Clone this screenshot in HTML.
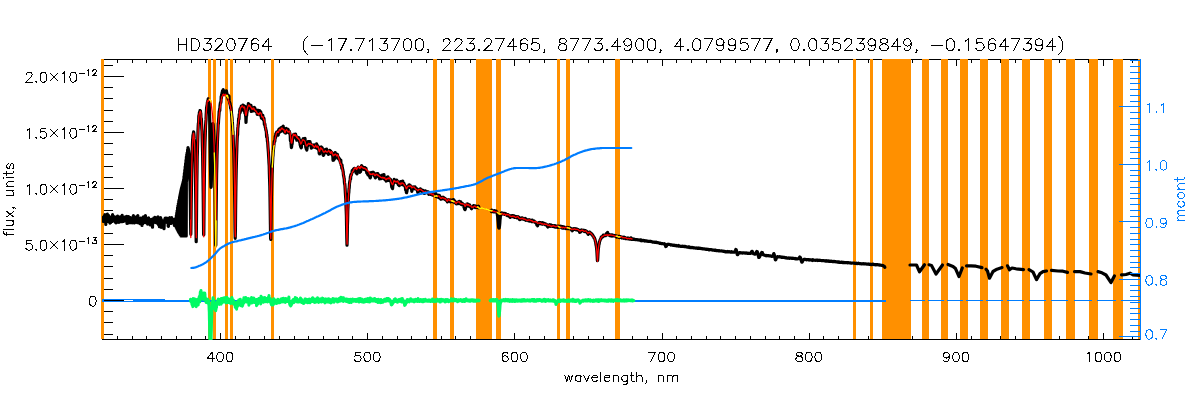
<!DOCTYPE html>
<html><head><meta charset="utf-8"><title>HD320764</title>
<style>html,body{margin:0;padding:0;background:#fff;font-family:"Liberation Sans",sans-serif}svg{display:block}</style></head>
<body>
<svg width="1200" height="400" viewBox="0 0 1200 400">
<rect width="1200" height="400" fill="#fff"/>
<defs><clipPath id="cp"><rect x="102" y="59" width="1039" height="281"/></clipPath></defs>
<path d="M102 59h1039v1h-1039zM102 339h1039v1h-1039zM102 59h1v281h-1zM1140 59h1v281h-1zM117 59h1v4h-1zM117 336h1v4h-1zM132 59h1v4h-1zM132 336h1v4h-1zM146 59h1v4h-1zM146 336h1v4h-1zM161 59h1v4h-1zM161 336h1v4h-1zM176 59h1v4h-1zM176 336h1v4h-1zM191 59h1v4h-1zM191 336h1v4h-1zM205 59h1v4h-1zM205 336h1v4h-1zM220 59h1v7h-1zM220 333h1v7h-1zM235 59h1v4h-1zM235 336h1v4h-1zM249 59h1v4h-1zM249 336h1v4h-1zM264 59h1v4h-1zM264 336h1v4h-1zM279 59h1v4h-1zM279 336h1v4h-1zM294 59h1v4h-1zM294 336h1v4h-1zM308 59h1v4h-1zM308 336h1v4h-1zM323 59h1v4h-1zM323 336h1v4h-1zM338 59h1v4h-1zM338 336h1v4h-1zM352 59h1v4h-1zM352 336h1v4h-1zM367 59h1v7h-1zM367 333h1v7h-1zM382 59h1v4h-1zM382 336h1v4h-1zM397 59h1v4h-1zM397 336h1v4h-1zM411 59h1v4h-1zM411 336h1v4h-1zM426 59h1v4h-1zM426 336h1v4h-1zM441 59h1v4h-1zM441 336h1v4h-1zM455 59h1v4h-1zM455 336h1v4h-1zM470 59h1v4h-1zM470 336h1v4h-1zM485 59h1v4h-1zM485 336h1v4h-1zM500 59h1v4h-1zM500 336h1v4h-1zM514 59h1v7h-1zM514 333h1v7h-1zM529 59h1v4h-1zM529 336h1v4h-1zM544 59h1v4h-1zM544 336h1v4h-1zM558 59h1v4h-1zM558 336h1v4h-1zM573 59h1v4h-1zM573 336h1v4h-1zM588 59h1v4h-1zM588 336h1v4h-1zM603 59h1v4h-1zM603 336h1v4h-1zM617 59h1v4h-1zM617 336h1v4h-1zM632 59h1v4h-1zM632 336h1v4h-1zM647 59h1v4h-1zM647 336h1v4h-1zM662 59h1v7h-1zM662 333h1v7h-1zM676 59h1v4h-1zM676 336h1v4h-1zM691 59h1v4h-1zM691 336h1v4h-1zM706 59h1v4h-1zM706 336h1v4h-1zM720 59h1v4h-1zM720 336h1v4h-1zM735 59h1v4h-1zM735 336h1v4h-1zM750 59h1v4h-1zM750 336h1v4h-1zM765 59h1v4h-1zM765 336h1v4h-1zM779 59h1v4h-1zM779 336h1v4h-1zM794 59h1v4h-1zM794 336h1v4h-1zM809 59h1v7h-1zM809 333h1v7h-1zM823 59h1v4h-1zM823 336h1v4h-1zM838 59h1v4h-1zM838 336h1v4h-1zM853 59h1v4h-1zM853 336h1v4h-1zM868 59h1v4h-1zM868 336h1v4h-1zM882 59h1v4h-1zM882 336h1v4h-1zM897 59h1v4h-1zM897 336h1v4h-1zM912 59h1v4h-1zM912 336h1v4h-1zM926 59h1v4h-1zM926 336h1v4h-1zM941 59h1v4h-1zM941 336h1v4h-1zM956 59h1v7h-1zM956 333h1v7h-1zM971 59h1v4h-1zM971 336h1v4h-1zM985 59h1v4h-1zM985 336h1v4h-1zM1000 59h1v4h-1zM1000 336h1v4h-1zM1015 59h1v4h-1zM1015 336h1v4h-1zM1029 59h1v4h-1zM1029 336h1v4h-1zM1044 59h1v4h-1zM1044 336h1v4h-1zM1059 59h1v4h-1zM1059 336h1v4h-1zM1074 59h1v4h-1zM1074 336h1v4h-1zM1088 59h1v4h-1zM1088 336h1v4h-1zM1103 59h1v7h-1zM1103 333h1v7h-1zM1118 59h1v4h-1zM1118 336h1v4h-1zM1132 59h1v4h-1zM1132 336h1v4h-1zM102 334h11v1h-11zM102 322h11v1h-11zM102 311h11v1h-11zM102 300h22v1h-22zM102 289h11v1h-11zM102 278h11v1h-11zM102 266h11v1h-11zM102 255h11v1h-11zM102 244h22v1h-22zM102 233h11v1h-11zM102 222h11v1h-11zM102 210h11v1h-11zM102 199h11v1h-11zM102 188h22v1h-22zM102 177h11v1h-11zM102 166h11v1h-11zM102 154h11v1h-11zM102 143h11v1h-11zM102 132h22v1h-22zM102 121h11v1h-11zM102 110h11v1h-11zM102 98h11v1h-11zM102 87h11v1h-11zM102 76h22v1h-22zM102 65h11v1h-11z" fill="#000" shape-rendering="crispEdges"/>
<rect x="101.0" y="59" width="3.0" height="280" fill="#FF9000" shape-rendering="crispEdges"/>
<rect x="208.0" y="59" width="3.0" height="280" fill="#FF9000" shape-rendering="crispEdges"/>
<rect x="213.0" y="59" width="3.0" height="280" fill="#FF9000" shape-rendering="crispEdges"/>
<rect x="225.0" y="59" width="3.0" height="280" fill="#FF9000" shape-rendering="crispEdges"/>
<rect x="230.0" y="59" width="3.0" height="280" fill="#FF9000" shape-rendering="crispEdges"/>
<rect x="271.0" y="59" width="3.0" height="280" fill="#FF9000" shape-rendering="crispEdges"/>
<rect x="433.0" y="59" width="4.0" height="280" fill="#FF9000" shape-rendering="crispEdges"/>
<rect x="450.0" y="59" width="4.0" height="280" fill="#FF9000" shape-rendering="crispEdges"/>
<rect x="476.0" y="59" width="16.0" height="280" fill="#FF9000" shape-rendering="crispEdges"/>
<rect x="496.0" y="59" width="5.0" height="280" fill="#FF9000" shape-rendering="crispEdges"/>
<rect x="557.0" y="59" width="3.0" height="280" fill="#FF9000" shape-rendering="crispEdges"/>
<rect x="566.0" y="59" width="4.0" height="280" fill="#FF9000" shape-rendering="crispEdges"/>
<rect x="615.0" y="59" width="5.0" height="280" fill="#FF9000" shape-rendering="crispEdges"/>
<rect x="853.0" y="59" width="3.0" height="280" fill="#FF9000" shape-rendering="crispEdges"/>
<rect x="870.0" y="59" width="3.0" height="280" fill="#FF9000" shape-rendering="crispEdges"/>
<rect x="882.0" y="59" width="29.0" height="280" fill="#FF9000" shape-rendering="crispEdges"/>
<rect x="922.0" y="59" width="7.0" height="280" fill="#FF9000" shape-rendering="crispEdges"/>
<rect x="941.0" y="59" width="7.0" height="280" fill="#FF9000" shape-rendering="crispEdges"/>
<rect x="960.0" y="59" width="8.0" height="280" fill="#FF9000" shape-rendering="crispEdges"/>
<rect x="980.0" y="59" width="8.0" height="280" fill="#FF9000" shape-rendering="crispEdges"/>
<rect x="1001.0" y="59" width="8.0" height="280" fill="#FF9000" shape-rendering="crispEdges"/>
<rect x="1022.0" y="59" width="8.0" height="280" fill="#FF9000" shape-rendering="crispEdges"/>
<rect x="1044.0" y="59" width="8.0" height="280" fill="#FF9000" shape-rendering="crispEdges"/>
<rect x="1066.0" y="59" width="9.0" height="280" fill="#FF9000" shape-rendering="crispEdges"/>
<rect x="1089.0" y="59" width="9.0" height="280" fill="#FF9000" shape-rendering="crispEdges"/>
<rect x="1113.0" y="59" width="10.0" height="280" fill="#FF9000" shape-rendering="crispEdges"/>
<rect x="1138.0" y="59" width="2.0" height="280" fill="#FF9000" shape-rendering="crispEdges"/>
<g clip-path="url(#cp)">
<path d="M102 300.5H165" stroke="#007DFF" stroke-width="3" fill="none" shape-rendering="crispEdges"/>
<path d="M165 301H478.5M491 301H885.5" stroke="#007DFF" stroke-width="2" fill="none" shape-rendering="crispEdges"/>
<path d="M104 300.5H124" stroke="#000" stroke-width="1" fill="none" shape-rendering="crispEdges"/>
<path d="M124 300.5H133" stroke="#fff" stroke-width="1" fill="none" shape-rendering="crispEdges"/>
<path d="M910.0 300.5H925.0M928.0 300.5H944.0M947.0 300.5H963.0M966.0 300.5H983.0M986.0 300.5H1003.0M1007.0 300.5H1024.0M1029.0 300.5H1046.0M1051.0 300.5H1068.0M1074.0 300.5H1092.0M1097.0 300.5H1116.0M1121.0 300.5H1140.0" stroke="#007DFF" stroke-width="1" fill="none" shape-rendering="crispEdges"/>
<polyline points="102.5,218.2 102.7,219.3 102.8,217.6 103.0,217.5 103.1,221.3 103.3,220.4 103.4,217.8 103.6,218.7 103.7,219.3 103.9,220.6 104.0,220.4 104.2,216.2 104.3,219.0 104.5,219.1 104.6,220.7 104.8,219.6 104.9,214.6 105.1,217.6 105.2,221.5 105.4,218.8 105.5,218.5 105.7,220.1 105.8,224.5 106.0,217.2 106.1,217.6 106.3,218.2 106.4,218.4 106.6,219.1 106.7,218.1 106.9,220.7 107.0,217.3 107.2,217.1 107.3,214.0 107.5,215.1 107.6,216.5 107.8,218.8 107.9,216.3 108.1,218.5 108.2,216.9 108.4,219.3 108.5,215.3 108.7,219.0 108.8,216.7 109.0,217.8 109.1,217.5 109.3,220.8 109.4,221.1 109.6,219.5 109.7,221.5 109.9,223.1 110.0,221.2 110.2,220.9 110.3,220.3 110.5,221.9 110.6,222.6 110.8,218.0 110.9,217.1 111.1,219.8 111.2,221.1 111.4,217.8 111.5,219.9 111.7,218.3 111.8,218.2 112.0,218.7 112.1,219.4 112.3,216.3 112.4,218.4 112.6,214.7 112.7,217.4 112.9,216.4 113.0,216.3 113.2,220.3 113.3,219.8 113.5,220.0 113.6,221.0 113.8,218.2 113.9,217.7 114.1,217.4 114.2,217.8 114.4,219.5 114.5,219.2 114.7,216.8 114.8,220.2 115.0,219.9 115.1,220.8 115.3,222.2 115.4,217.8 115.6,220.6 115.7,218.9 115.9,220.7 116.0,219.6 116.2,222.8 116.3,219.0 116.5,222.5 116.6,218.7 116.8,219.9 116.9,219.2 117.1,217.5 117.2,219.4 117.4,219.0 117.5,216.0 117.7,217.4 117.8,218.4 118.0,216.5 118.1,217.2 118.3,217.8 118.4,220.5 118.6,220.1 118.7,217.8 118.9,222.3 119.0,218.8 119.2,219.8 119.3,221.1 119.5,217.0 119.6,217.7 119.8,218.9 119.9,220.5 120.1,219.8 120.2,221.6 120.4,217.8 120.5,216.9 120.7,218.7 120.8,221.5 121.0,221.6 121.1,219.1 121.3,219.6 121.4,220.2 121.6,218.3 121.7,218.5 121.9,219.0 122.0,217.1 122.2,215.4 122.3,221.7 122.5,220.4 122.6,218.9 122.8,219.0 122.9,220.6 123.1,217.2 123.2,218.2 123.4,220.3 123.5,217.3 123.7,221.3 123.8,220.6 124.0,218.7 124.1,220.2 124.3,218.3 124.4,219.0 124.6,219.6 124.7,220.5 124.9,220.9 125.0,218.7 125.2,221.0 125.3,219.2 125.5,216.8 125.6,220.1 125.8,216.9 125.9,218.6 126.1,220.8 126.2,221.2 126.4,219.3 126.5,219.7 126.7,219.7 126.8,216.4 127.0,223.4 127.1,218.3 127.3,222.0 127.4,219.0 127.6,221.5 127.7,222.1 127.9,220.5 128.0,223.1 128.2,218.6 128.3,221.0 128.5,218.1 128.6,216.7 128.8,218.3 128.9,217.9 129.1,218.1 129.2,220.2 129.4,218.1 129.5,218.2 129.7,218.9 129.8,218.0 130.0,222.7 130.1,221.8 130.3,221.8 130.4,217.7 130.6,218.5 130.7,219.1 130.9,219.5 131.0,218.6 131.2,218.7 131.3,221.3 131.5,220.9 131.6,221.8 131.8,222.0 131.9,218.5 132.1,218.1 132.2,222.8 132.4,221.1 132.5,222.4 132.7,219.0 132.8,220.6 133.0,218.8 133.1,218.2 133.3,218.6 133.4,215.6 133.6,219.9 133.7,218.2 133.9,219.9 134.0,222.8 134.2,221.4 134.3,219.3 134.5,222.2 134.6,219.7 134.8,222.8 134.9,219.2 135.1,221.5 135.2,222.5 135.4,219.7 135.5,219.5 135.7,220.9 135.8,218.1 136.0,217.1 136.1,220.8 136.3,221.4 136.4,221.4 136.6,220.2 136.7,219.8 136.9,220.1 137.0,218.1 137.2,216.5 137.3,218.0 137.5,222.6 137.6,218.8 137.8,215.6 137.9,218.3 138.1,221.1 138.2,220.5 138.4,221.3 138.5,218.8 138.7,220.9 138.8,222.1 139.0,219.1 139.1,222.2 139.3,218.6 139.4,221.5 139.6,220.1 139.7,221.7 139.9,220.0 140.0,223.7 140.2,218.9 140.3,220.2 140.5,218.6 140.6,220.2 140.8,218.2 140.9,220.3 141.1,220.0 141.2,218.8 141.4,222.3 141.5,219.9 141.7,223.0 141.8,221.4 142.0,225.4 142.1,220.8 142.3,219.7 142.4,221.3 142.6,223.2 142.7,221.9 142.9,223.6 143.0,222.5 143.2,221.1 143.3,216.9 143.5,221.8 143.6,221.3 143.8,220.3 143.9,219.2 144.1,219.6 144.2,220.4 144.4,219.5 144.5,219.9 144.7,219.3 144.8,219.7 145.0,218.0 145.1,221.0 145.3,218.1 145.4,215.5 145.6,222.4 145.7,219.0 145.9,220.9 146.0,219.2 146.2,220.3 146.3,217.9 146.5,221.4 146.6,220.7 146.8,220.7 146.9,223.1 147.1,223.1 147.2,220.4 147.4,222.9 147.5,224.1 147.7,218.9 147.8,220.3 148.0,220.2 148.1,221.8 148.3,221.9 148.4,223.8 148.6,217.9 148.7,220.4 148.9,220.7 149.0,223.3 149.2,223.6 149.3,221.7 149.5,222.5 149.6,221.7 149.8,220.2 149.9,221.7 150.1,220.6 150.2,225.0 150.4,224.1 150.5,221.4 150.7,222.7 150.8,224.4 151.0,220.4 151.1,219.5 151.3,222.1 151.4,224.0 151.6,219.4 151.7,221.4 151.9,220.7 152.0,222.6 152.2,219.8 152.3,220.3 152.5,227.1 152.6,221.0 152.8,220.2 152.9,222.2 153.1,219.5 153.2,222.6 153.4,222.7 153.5,221.9 153.7,218.6 153.8,218.0 154.0,222.5 154.1,220.4 154.3,222.0 154.4,220.5 154.6,218.6 154.7,219.5 154.9,217.3 155.0,220.1 155.2,218.8 155.3,222.3 155.5,221.2 155.6,222.5 155.8,222.1 155.9,219.9 156.1,219.5 156.2,219.8 156.4,222.8 156.5,221.7 156.7,221.1 156.8,222.1 157.0,218.2 157.1,220.0 157.3,222.8 157.4,217.3 157.6,218.4 157.7,222.8 157.9,221.1 158.0,216.9 158.2,219.7 158.3,224.4 158.5,222.3 158.6,221.8 158.8,220.9 158.9,221.2 159.1,223.0 159.2,220.6 159.4,226.6 159.5,223.0 159.7,221.8 159.8,220.3 160.0,219.9 160.1,225.2 160.3,221.1 160.4,224.0 160.6,217.7 160.7,219.7 160.9,222.0 161.0,220.9 161.2,227.3 161.3,219.7 161.5,221.9 161.6,220.2 161.8,221.5 161.9,220.5 162.1,224.4 162.2,222.0 162.4,223.1 162.5,224.5 162.7,224.0 162.8,223.7 163.0,222.5 163.1,225.0 163.3,223.8 163.4,223.8 163.6,223.7 163.7,222.2 163.9,222.2 164.0,228.7 164.2,224.7 164.3,221.0 164.5,220.5 164.6,220.0 164.8,220.0 164.9,218.8 165.1,221.9 165.2,218.1 165.4,219.5 165.5,219.6 165.7,219.8 165.8,220.3 166.0,220.6 166.1,220.5 166.3,222.1 166.4,222.2 166.6,222.1 166.7,218.2 166.9,218.3 167.0,221.7 167.2,221.9 167.3,221.2 167.5,222.7 167.6,222.2 167.8,219.1 167.9,223.1 168.1,223.8 168.2,226.3 168.4,226.4 168.5,222.1 168.7,223.6 168.8,221.9 169.0,222.6 169.1,219.4 169.3,218.5 169.4,222.3 169.6,221.6 169.7,217.6 169.9,221.3 170.0,218.9 170.2,219.8 170.3,220.9 170.5,218.9 170.6,219.4 170.8,221.3 170.9,218.8 171.1,223.5 171.2,217.9 171.4,219.0 171.5,221.7 171.7,217.6 171.8,221.6 172.0,220.7 172.1,219.7 172.3,220.9 172.4,220.8 172.6,222.0 172.7,222.6 172.9,222.7 173.0,222.1 173.2,220.9 173.3,220.2 173.5,221.8 173.6,221.6 173.8,223.1 173.9,221.5 174.1,222.7 174.2,219.4 174.4,225.5 174.5,225.4 174.7,223.2 174.8,222.4 175.0,223.8 175.1,222.9 175.3,219.1 175.4,220.5 175.6,222.3 175.7,222.7 175.9,221.4 176.0,218.0 176.2,227.4 176.4,215.4 176.6,228.2 176.8,212.8 177.0,229.0 177.2,210.2 177.4,229.8 177.6,207.6 177.8,230.6 178.0,205.0 178.2,231.3 178.4,203.0 178.6,232.0 178.8,201.0 179.0,232.7 179.2,199.0 179.4,233.3 179.6,197.0 179.8,234.0 180.0,195.0 180.2,234.7 180.4,193.0 180.6,235.3 180.8,191.0 181.0,236.0 181.2,189.2 181.4,236.0 181.6,187.7 181.8,236.0 182.0,186.2 182.2,236.0 182.4,184.7 182.6,236.0 182.8,183.2 183.0,236.0 183.2,181.6 183.4,236.0 183.6,179.7 183.8,236.0 184.0,176.4 184.2,236.0 184.4,173.2 184.6,236.0 184.8,169.9 185.0,236.0 185.2,166.6 185.4,236.0 185.6,163.4 185.8,236.0 186.0,160.1 186.2,236.0 186.4,156.8 186.6,181.3 186.8,154.3 187.0,179.9 187.2,152.0 187.4,178.5 187.6,149.8 187.8,177.1 188.0,147.5 188.2,175.7 188.4,149.0" fill="none" stroke="#000" stroke-width="3.2" stroke-linejoin="round" stroke-linecap="round" />
<polyline points="188.4,149.8 188.6,150.7 188.8,152.8 189.0,155.6 189.2,158.6 189.4,159.4 189.6,168.1 189.8,175.0 190.0,180.6 190.2,191.6 190.4,205.6 190.6,224.0 190.8,234.3 191.0,221.9 191.2,203.8 191.4,189.7 191.6,173.2 191.8,165.6 192.0,156.1 192.2,150.9 192.4,144.8 192.6,140.1 192.8,137.5 193.0,135.0 193.2,135.2 193.4,133.2 193.6,131.9 193.8,132.8 194.0,134.8 194.2,138.7 194.4,140.9 194.6,145.9 194.8,150.3 195.0,156.5 195.2,163.5 195.4,176.9 195.6,187.7 195.8,204.7 196.0,229.1 196.2,241.7 196.4,227.4 196.6,204.8 196.8,184.0 197.0,171.7 197.2,156.9 197.4,151.6 197.6,143.7 197.8,137.1 198.0,130.6 198.2,126.1 198.4,123.1 198.6,123.6 198.8,116.2 199.0,115.1 199.2,115.3 199.4,112.5 199.6,111.9 199.8,113.3 200.0,110.7 200.2,111.8 200.4,110.7 200.6,112.8 200.8,113.3 201.0,118.7 201.2,118.1 201.4,118.9 201.6,124.1 201.8,128.6 202.0,131.1 202.2,138.9 202.4,146.7 202.6,153.1 202.8,166.1 203.0,178.3 203.2,192.7 203.4,212.8 203.6,234.0 203.8,234.8 204.0,211.9 204.2,191.3 204.4,175.1 204.6,163.9 204.8,150.7 205.0,142.8 205.2,137.6 205.4,130.6 205.6,125.3 205.8,122.4 206.0,119.9 206.2,114.6 206.4,111.5 206.6,107.2 206.8,107.1 207.0,105.3 207.2,104.7 207.4,102.3 207.6,102.0 207.8,100.9 208.0,100.4 208.2,98.9 208.4,99.3 208.6,100.4 208.8,103.8 209.0,100.8 209.2,105.7 209.4,108.9 209.6,115.1 209.8,123.2 210.0,137.4 210.2,150.3 210.4,162.4 210.6,174.0 210.8,182.7 211.0,187.3 211.2,186.6 211.4,179.4 211.6,167.3 211.8,154.8 212.0,143.7 212.2,133.4 212.4,127.1 212.6,124.0 212.8,123.6 213.0,124.0 213.2,125.4 213.4,129.4 213.6,130.4 213.8,135.9 214.0,142.6 214.2,147.9 214.4,154.4 214.6,165.2 214.8,175.2 215.0,185.8 215.2,202.8 215.4,223.7 215.6,242.5 215.8,245.3 216.0,222.1 216.2,205.1 216.4,188.5 216.6,174.0 216.8,166.3 217.0,155.9 217.2,150.0 217.4,142.2 217.6,137.9 217.8,133.4 218.0,129.3 218.2,123.1 218.4,123.8 218.6,119.6 218.8,117.1 219.0,114.4 219.2,111.2 219.4,111.3 219.6,108.9 219.8,110.7 220.0,105.9 220.2,104.2 220.4,103.0 220.6,102.3 220.8,102.8 221.0,101.4 221.2,96.3 221.4,98.1 221.6,94.5 221.8,96.3 222.0,92.9 222.2,93.9 222.4,91.2 222.6,92.3 222.8,92.1 223.0,94.1 223.2,89.6 223.4,91.7 223.6,94.3 223.8,94.2 224.0,93.6 224.2,93.4 224.4,93.7 224.6,93.9 224.8,92.8 225.0,92.0 225.2,91.5 225.4,92.0 225.6,91.6 225.8,91.1 226.0,92.1 226.2,92.1 226.4,90.9 226.6,92.0 226.8,94.0 227.0,93.4 227.2,95.9 227.4,94.9 227.6,96.5 227.8,97.4 228.0,97.7 228.2,99.1 228.4,95.4 228.6,99.7 228.8,99.8 229.0,96.2 229.2,100.2 229.4,101.4 229.6,102.4 229.8,103.8 230.0,103.2 230.2,105.1 230.4,105.5 230.6,108.5 230.8,107.1 231.0,108.5 231.2,110.1 231.4,111.9 231.6,114.5 231.8,115.9 232.0,117.6 232.2,121.2 232.4,122.3 232.6,126.2 232.8,130.5 233.0,131.6 233.2,137.4 233.4,143.0 233.6,148.5 233.8,152.7 234.0,162.3 234.2,169.7 234.4,180.2 234.6,193.0 234.8,208.7 235.0,229.3 235.2,238.3 235.4,230.3 235.6,210.1 235.8,193.9 236.0,180.7 236.2,170.8 236.4,163.5 236.6,155.7 236.8,149.6 237.0,143.0 237.2,138.1 237.4,135.2 237.6,135.0 237.8,128.4 238.0,126.7 238.2,124.6 238.4,123.5 238.6,118.8 238.8,118.2 239.0,119.2 239.2,114.7 239.4,113.8 239.6,112.5 239.8,110.8 240.0,109.1 240.2,112.6 240.4,109.1 240.6,108.3 240.8,107.8 241.0,108.1 241.2,106.8 241.4,106.0 241.6,106.0 241.8,110.1 242.0,107.6 242.2,108.3 242.4,107.0 242.6,108.0 242.8,107.2 243.0,105.2 243.2,108.7 243.4,105.3 243.6,106.3 243.8,108.7 244.0,110.6 244.2,108.0 244.4,109.0 244.6,106.1 244.8,113.0 245.0,112.8 245.2,112.8 245.4,111.9 245.6,115.9 245.8,116.6 246.0,122.5 246.2,118.2 246.4,115.9 246.6,115.8 246.8,113.1 247.0,113.0 247.2,109.0 247.4,110.6 247.6,106.2 247.8,106.2 248.0,106.1 248.2,105.6 248.4,103.5 248.6,105.7 248.8,106.6 249.0,104.8 249.2,106.9 249.4,106.2 249.6,108.2 249.8,107.5 250.0,106.0 250.2,107.3 250.4,105.4 250.6,106.3 250.8,108.2 251.0,105.3 251.2,111.5 251.4,110.0 251.6,110.7 251.8,108.0 252.0,111.1 252.2,110.1 252.4,108.0 252.6,109.5 252.8,108.1 253.0,109.5 253.2,110.8 253.4,109.7 253.6,110.5 253.8,107.5 254.0,107.7 254.2,107.4 254.4,110.2 254.6,110.1 254.8,107.9 255.0,110.8 255.2,109.6 255.4,111.1 255.6,109.6 255.8,111.0 256.0,110.1 256.2,111.5 256.4,111.7 256.6,112.1 256.8,112.1 257.0,111.8 257.2,114.4 257.4,114.0 257.6,111.8 257.8,110.4 258.0,112.8 258.2,110.3 258.4,113.6 258.6,112.1 258.8,112.8 259.0,111.6 259.2,112.8 259.4,111.0 259.6,110.7 259.8,114.9 260.0,112.7 260.2,112.1 260.4,113.8 260.6,112.8 260.8,111.9 261.0,113.6 261.2,115.6 261.4,118.1 261.6,116.6 261.8,116.5 262.0,115.8 262.2,117.9 262.4,118.7 262.6,116.6 262.8,115.4 263.0,118.2 263.2,117.9 263.4,120.0 263.6,120.0 263.8,118.2 264.0,118.7 264.2,122.0 264.4,124.7 264.6,123.7 264.8,123.8 265.0,125.1 265.2,126.8 265.4,127.7 265.6,127.8 265.8,130.0 266.0,130.0 266.2,130.8 266.4,132.6 266.6,137.0 266.8,134.4 267.0,136.9 267.2,137.4 267.4,141.2 267.6,141.6 267.8,144.1 268.0,147.4 268.2,149.8 268.4,152.5 268.6,155.8 268.8,159.0 269.0,163.1 269.2,166.0 269.4,174.2 269.6,180.4 269.8,186.0 270.0,196.9 270.2,210.4 270.4,223.9 270.6,238.5 270.8,239.4 271.0,225.3 271.2,208.6 271.4,198.3 271.6,189.0 271.8,180.2 272.0,173.8 272.2,171.1 272.4,165.2 272.6,161.9 272.8,157.1 273.0,155.8 273.2,151.5 273.4,150.2 273.6,148.0 273.8,146.1 274.0,144.1 274.2,141.4 274.4,141.9 274.6,141.6 274.8,141.5 275.0,138.7 275.2,136.4 275.4,136.1 275.6,137.6 275.8,133.6 276.0,135.8 276.2,133.8 276.4,133.6 276.6,132.1 276.8,135.1 277.0,132.6 277.2,132.7 277.4,134.0 277.6,131.7 277.8,132.1 278.0,135.2 278.2,135.1 278.4,133.0 278.6,130.0 278.8,131.5 279.0,129.3 279.2,132.6 279.4,130.2 279.6,131.3 279.8,128.7 280.0,131.0 280.2,130.5 280.4,130.1 280.6,131.7 280.8,131.4 281.0,127.5 281.2,128.9 281.4,129.0 281.6,128.2 281.8,130.3 282.0,127.2 282.2,128.8 282.4,127.9 282.6,127.3 282.8,130.4 283.0,130.1 283.2,126.1 283.4,129.5 283.6,127.9 283.8,131.4 284.0,130.1 284.2,132.1 284.4,130.5 284.6,131.5 284.8,131.1 285.0,132.5 285.2,132.4 285.4,133.0 285.6,130.8 285.8,132.5 286.0,132.8 286.2,128.3 286.4,129.8 286.6,130.0 286.8,128.9 287.0,130.3 287.2,130.7 287.4,129.9 287.6,131.6 287.8,129.9 288.0,129.3 288.2,130.6 288.4,131.1 288.6,132.5 288.8,130.9 289.0,131.5 289.2,132.1 289.4,131.4 289.6,133.2 289.8,133.0 290.0,134.5 290.2,135.1 290.4,140.7 290.6,136.3 290.8,141.0 291.0,142.8 291.2,145.1 291.4,147.7 291.6,146.9 291.8,144.6 292.0,144.5 292.2,143.4 292.4,141.1 292.6,138.7 292.8,137.4 293.0,136.0 293.2,135.6 293.4,135.4 293.6,134.6 293.8,135.6 294.0,134.3 294.2,136.1 294.4,136.8 294.6,136.6 294.8,135.6 295.0,134.4 295.2,136.2 295.4,135.8 295.6,134.2 295.8,137.9 296.0,138.7 296.2,138.0 296.4,137.5 296.6,139.5 296.8,140.2 297.0,136.9 297.2,137.5 297.4,138.2 297.6,139.6 297.8,138.6 298.0,138.4 298.2,138.1 298.4,139.2 298.6,138.8 298.8,137.5 299.0,139.3 299.2,139.0 299.4,141.2 299.6,142.1 299.8,140.0 300.0,142.9 300.2,145.1 300.4,144.1 300.6,146.5 300.8,146.6 301.0,147.4 301.2,147.8 301.4,147.4 301.6,144.8 301.8,144.1 302.0,142.7 302.2,141.2 302.4,142.1 302.6,141.5 302.8,139.7 303.0,142.0 303.2,138.6 303.4,138.8 303.6,140.7 303.8,142.0 304.0,142.0 304.2,143.5 304.4,141.3 304.6,142.0 304.8,141.6 305.0,138.3 305.2,141.4 305.4,143.5 305.6,144.2 305.8,147.4 306.0,146.2 306.2,149.0 306.4,147.9 306.6,149.6 306.8,150.0 307.0,148.8 307.2,147.5 307.4,145.3 307.6,143.2 307.8,145.7 308.0,144.5 308.2,141.7 308.4,144.0 308.6,142.6 308.8,143.9 309.0,143.3 309.2,141.5 309.4,143.6 309.6,143.8 309.8,144.0 310.0,141.5 310.2,144.4 310.4,143.2 310.6,143.8 310.8,145.5 311.0,144.0 311.2,146.7 311.4,148.2 311.6,145.2 311.8,146.3 312.0,146.1 312.2,146.5 312.4,146.8 312.6,147.2 312.8,145.6 313.0,146.8 313.2,145.3 313.4,145.1 313.6,145.3 313.8,146.3 314.0,145.7 314.2,145.3 314.4,144.9 314.6,145.5 314.8,145.9 315.0,147.3 315.2,145.6 315.4,144.9 315.6,145.7 315.8,145.8 316.0,146.4 316.2,145.6 316.4,145.6 316.6,143.9 316.8,148.1 317.0,145.7 317.2,147.2 317.4,147.4 317.6,145.7 317.8,147.1 318.0,147.9 318.2,149.4 318.4,149.3 318.6,146.9 318.8,149.0 319.0,150.1 319.2,153.5 319.4,150.5 319.6,154.0 319.8,152.0 320.0,151.0 320.2,149.9 320.4,151.7 320.6,149.1 320.8,149.7 321.0,148.7 321.2,147.8 321.4,147.0 321.6,149.1 321.8,148.7 322.0,148.1 322.2,147.8 322.4,150.3 322.6,149.6 322.8,152.2 323.0,154.2 323.2,155.2 323.4,155.4 323.6,153.4 323.8,154.8 324.0,152.8 324.2,152.9 324.4,151.2 324.6,151.9 324.8,152.8 325.0,151.8 325.2,149.5 325.4,150.5 325.6,150.1 325.8,149.4 326.0,149.4 326.2,152.7 326.4,152.0 326.6,149.2 326.8,150.2 327.0,152.5 327.2,151.5 327.4,151.5 327.6,152.7 327.8,152.4 328.0,153.1 328.2,153.8 328.4,154.3 328.6,153.6 328.8,151.1 329.0,153.3 329.2,151.7 329.4,151.1 329.6,152.3 329.8,150.3 330.0,152.8 330.2,151.2 330.4,152.8 330.6,153.6 330.8,151.2 331.0,152.4 331.2,152.1 331.4,152.7 331.6,153.4 331.8,152.5 332.0,152.6 332.2,153.8 332.4,153.8 332.6,155.8 332.8,155.5 333.0,160.3 333.2,156.6 333.4,158.1 333.6,160.1 333.8,160.0 334.0,158.8 334.2,156.6 334.4,159.0 334.6,156.5 334.8,156.7 335.0,155.5 335.2,152.5 335.4,153.4 335.6,155.5 335.8,154.7 336.0,153.5 336.2,154.3 336.4,155.9 336.6,154.3 336.8,155.3 337.0,155.7 337.2,157.6 337.4,154.3 337.6,156.0 337.8,158.4 338.0,156.8 338.2,157.0 338.4,158.0 338.6,158.8 338.8,158.0 339.0,158.2 339.2,159.3 339.4,159.7 339.6,158.8 339.8,160.7 340.0,161.0 340.2,160.0 340.4,162.9 340.6,161.1 340.8,160.0 341.0,164.1 341.2,165.3 341.4,165.1 341.6,165.0 341.8,168.2 342.0,164.9 342.2,167.1 342.4,167.8 342.6,169.2 342.8,169.7 343.0,171.4 343.2,171.5 343.4,174.6 343.6,176.1 343.8,176.0 344.0,178.0 344.2,178.4 344.4,182.2 344.6,184.2 344.8,183.8 345.0,186.2 345.2,189.8 345.4,193.4 345.6,196.7 345.8,199.3 346.0,206.0 346.2,210.8 346.4,216.0 346.6,227.6 346.8,238.5 347.0,245.2 347.2,239.1 347.4,226.3 347.6,220.7 347.8,210.8 348.0,206.8 348.2,202.4 348.4,197.5 348.6,193.6 348.8,192.6 349.0,188.8 349.2,188.1 349.4,184.9 349.6,182.2 349.8,182.1 350.0,180.3 350.2,179.2 350.4,176.7 350.6,179.1 350.8,174.8 351.0,175.9 351.2,174.2 351.4,175.0 351.6,174.0 351.8,173.2 352.0,172.2 352.2,170.6 352.4,172.0 352.6,170.8 352.8,171.5 353.0,170.4 353.2,169.5 353.4,170.3 353.6,168.9 353.8,168.8 354.0,169.4 354.2,169.0 354.4,169.4 354.6,168.3 354.8,169.8 355.0,168.5 355.2,169.2 355.4,169.6 355.6,170.2 355.8,171.9 356.0,172.6 356.2,173.0 356.4,172.5 356.6,173.5 356.8,173.5 357.0,173.9 357.2,171.1 357.4,169.1 357.6,169.6 357.8,170.4 358.0,167.9 358.2,167.1 358.4,168.0 358.6,167.7 358.8,167.5 359.0,168.3 359.2,168.6 359.4,169.0 359.6,170.4 359.8,172.4 360.0,170.1 360.2,169.3 360.4,170.7 360.6,171.6 360.8,170.0 361.0,169.8 361.2,166.9 361.4,169.1 361.6,165.6 361.8,167.8 362.0,166.3 362.2,167.3 362.4,168.6 362.6,168.9 362.8,167.4 363.0,168.2 363.2,168.1 363.4,167.8 363.6,167.4 363.8,169.5 364.0,168.0 364.2,169.1 364.4,167.5 364.6,168.3 364.8,169.4 365.0,167.6 365.2,169.8 365.4,169.5 365.6,168.4 365.8,169.6 366.0,168.4 366.2,170.5 366.4,170.3 366.6,171.5 366.8,172.9 367.0,173.1 367.2,172.7 367.4,173.2 367.6,174.0 367.8,174.0 368.0,174.9 368.2,173.4 368.4,172.8 368.6,172.7 368.8,173.9 369.0,173.6 369.2,175.1 369.4,174.8 369.6,176.6 369.8,176.1 370.0,177.6 370.2,177.9 370.4,177.4 370.6,176.7 370.8,175.7 371.0,174.5 371.2,172.6 371.4,173.7 371.6,173.2 371.8,172.7 372.0,173.0 372.2,173.7 372.4,172.3 372.6,172.4 372.8,173.3 373.0,172.8 373.2,172.9 373.4,172.3 373.6,172.9 373.8,173.1 374.0,174.1 374.2,175.3 374.4,175.7 374.6,175.9 374.8,176.5 375.0,175.2 375.2,177.5 375.4,177.9 375.6,174.7 375.8,175.9 376.0,173.8 376.2,175.7 376.4,175.1 376.6,175.8 376.8,174.8 377.0,175.8 377.2,173.5 377.4,175.4 377.6,174.7 377.8,173.6 378.0,175.8 378.2,175.3 378.4,176.9 378.6,176.5 378.8,175.5 379.0,176.9 379.2,175.2 379.4,177.4 379.6,179.0 379.8,178.2 380.0,178.1 380.2,176.6 380.4,176.6 380.6,178.3 380.8,176.2 381.0,178.7 381.2,177.1 381.4,178.5 381.6,175.9 381.8,177.4 382.0,175.7 382.2,178.0 382.4,175.1 382.6,176.6 382.8,176.7 383.0,177.5 383.2,178.1 383.4,175.9 383.6,176.9 383.8,177.0 384.0,174.7 384.2,179.0 384.4,177.0 384.6,179.2 384.8,178.2 385.0,177.8 385.2,179.7 385.4,180.0 385.6,178.1 385.8,179.3 386.0,180.3 386.2,181.0 386.4,178.8 386.6,179.6 386.8,180.5 387.0,178.2 387.2,178.5 387.4,177.0 387.6,178.1 387.8,178.5 388.0,176.9 388.2,179.1 388.4,180.5 388.6,180.0 388.8,178.0 389.0,179.6 389.2,179.6 389.4,178.5 389.6,180.1 389.8,179.7 390.0,179.3 390.2,180.2 390.4,179.4 390.6,181.2 390.8,179.8 391.0,182.2 391.2,182.9 391.4,183.7 391.6,185.9 391.8,187.3 392.0,186.2 392.2,187.1 392.4,188.3 392.6,188.5 392.8,185.9 393.0,185.1 393.2,184.2 393.4,183.3 393.6,182.0 393.8,181.7 394.0,181.8 394.2,179.4 394.4,180.7 394.6,181.8 394.8,180.0 395.0,181.5 395.2,182.2 395.4,181.9 395.6,181.3 395.8,181.6 396.0,180.8 396.2,181.1 396.4,181.9 396.6,182.5 396.8,180.1 397.0,181.6 397.2,181.7 397.4,182.4 397.6,183.1 397.8,183.4 398.0,181.6 398.2,184.6 398.4,184.3 398.6,184.8 398.8,184.4 399.0,183.8 399.2,185.7 399.4,184.2 399.6,183.5 399.8,184.5 400.0,183.1 400.2,183.3 400.4,183.0 400.6,184.2 400.8,181.7 401.0,183.4 401.2,183.6 401.4,182.8 401.6,183.5 401.8,184.0 402.0,184.5 402.2,184.3 402.4,184.1 402.6,184.2 402.8,181.2 403.0,183.8 403.2,183.7 403.4,183.5 403.6,184.1 403.8,185.1 404.0,183.4 404.2,184.7 404.4,184.8 404.6,185.5 404.8,185.8 405.0,186.5 405.2,186.0 405.4,186.5 405.6,189.8 405.8,188.5 406.0,189.8 406.2,190.5 406.4,192.6 406.6,192.7 406.8,191.9 407.0,191.1 407.2,188.9 407.4,189.5 407.6,186.9 407.8,188.5 408.0,186.6 408.2,187.1 408.4,186.3 408.6,186.5 408.8,185.2 409.0,186.1 409.2,186.4 409.4,184.8 409.6,187.4 409.8,186.4 410.0,186.2 410.2,186.6 410.4,186.6 410.6,185.8 410.8,187.4 411.0,187.3 411.2,187.7 411.4,188.1 411.6,189.4 411.8,191.3 412.0,188.7 412.2,189.0 412.4,188.9 412.6,188.9 412.8,189.2 413.0,187.2 413.2,188.0 413.4,188.1 413.6,187.0 413.8,188.6 414.0,187.1 414.2,188.4 414.4,188.1 414.6,187.3 414.8,188.1 415.0,186.9 415.2,189.0 415.4,187.9 415.6,188.5 415.8,188.3 416.0,188.1 416.2,188.2 416.4,188.9 416.6,189.2 416.8,189.2 417.0,189.9 417.2,189.1 417.4,190.9 417.6,191.1 417.8,192.6 418.0,191.9 418.2,192.3 418.4,190.7 418.6,191.2 418.8,190.3 419.0,190.3 419.2,190.4 419.4,189.6 419.6,189.7 419.8,189.4 420.0,189.4 420.2,189.7 420.4,188.8 420.6,190.1 420.8,189.7 421.0,190.0 421.2,190.0 421.4,190.6 421.6,191.4 421.8,190.5 422.0,189.9 422.2,190.4 422.4,191.4 422.6,190.4 422.8,191.8 423.0,190.3 423.2,192.4 423.4,191.6 423.6,192.8 423.8,192.6 424.0,193.3 424.2,191.8 424.4,192.8 424.6,193.3 424.8,193.1 425.0,191.6 425.2,191.8 425.4,190.9 425.6,192.3 425.8,192.8 426.0,192.7 426.2,192.2 426.4,192.6 426.6,192.4 426.8,191.8 427.0,192.5 427.2,192.2 427.4,192.2 427.6,192.7 427.8,191.8 428.0,192.2 428.2,192.2 428.4,192.9 428.6,192.7 428.8,194.3 429.0,193.1 429.2,193.3 429.4,192.5 429.6,194.1 429.8,193.4 430.0,194.2 430.2,193.9 430.4,194.2 430.6,193.7 430.8,194.1 431.0,193.4 431.2,193.2 431.4,194.4 431.6,194.5 431.8,194.6 432.0,193.7 432.2,193.5 432.4,194.1 432.6,195.2 432.8,194.6 433.0,193.7 433.2,194.3 433.4,194.1 433.6,194.5 433.8,195.3 434.0,194.8 434.2,195.4 434.4,195.1 434.6,194.7 434.8,195.3 435.0,195.1 435.2,195.3 435.4,194.9 435.6,195.1 435.8,193.6 436.0,196.6 436.2,195.6 436.4,196.6 436.6,194.8 436.8,196.4 437.0,195.1 437.2,196.7 437.4,196.9 437.6,195.7 437.8,195.5 438.0,195.9 438.2,195.2 438.4,196.2 438.6,197.4 438.8,196.3 439.0,196.7 439.2,197.7 439.4,195.3 439.6,197.8 439.8,198.2 440.0,196.8 440.2,196.6 440.4,198.4 440.6,198.6 440.8,198.5 441.0,199.2 441.2,198.7 441.4,198.7 441.6,198.9 441.8,198.6 442.0,198.1 442.2,198.6 442.4,197.6 442.6,198.6 442.8,197.3 443.0,197.1 443.2,197.9 443.4,198.0 443.6,197.6 443.8,198.1 444.0,197.8 444.2,198.2 444.4,199.0 444.6,199.2 444.8,198.9 445.0,199.2 445.2,198.5 445.4,199.7 445.6,199.5 445.8,199.9 446.0,199.6 446.2,199.8 446.4,199.8 446.6,200.8 446.8,200.8 447.0,200.9 447.2,201.6 447.4,201.8 447.6,201.1 447.8,201.2 448.0,199.9 448.2,200.0 448.4,201.1 448.6,199.7 448.8,200.0 449.0,200.1 449.2,200.0 449.4,200.5 449.6,200.0 449.8,200.2 450.0,200.6 450.2,200.7 450.4,200.6 450.6,201.9 450.8,200.2 451.0,201.2 451.2,201.3 451.4,200.2 451.6,200.5 451.8,200.4 452.0,200.3 452.2,200.1 452.4,200.4 452.6,200.4 452.8,200.7 453.0,201.2 453.2,201.4 453.4,202.0 453.6,199.6 453.8,202.2 454.0,200.9 454.2,201.5 454.4,200.6 454.6,201.6 454.8,202.2 455.0,201.5 455.2,202.4 455.4,202.7 455.6,203.2 455.8,203.4 456.0,203.7 456.2,203.4 456.4,203.8 456.6,202.8 456.8,202.8 457.0,203.5 457.2,202.6 457.4,202.2 457.6,203.4 457.8,202.8 458.0,203.7 458.2,202.4 458.4,202.7 458.6,202.5 458.8,202.9 459.0,202.0 459.2,202.9 459.4,201.3 459.6,203.6 459.8,203.0 460.0,202.4 460.2,203.4 460.4,202.2 460.6,201.8 460.8,202.5 461.0,203.2 461.2,202.6 461.4,204.6 461.6,203.1 461.8,203.7 462.0,203.6 462.2,203.3 462.4,204.3 462.6,204.6 462.8,203.8 463.0,204.2 463.2,204.9 463.4,204.3 463.6,204.8 463.8,205.1 464.0,207.3 464.2,207.4 464.4,208.1 464.6,209.2 464.8,209.2 465.0,209.7 465.2,208.7 465.4,208.9 465.6,207.2 465.8,207.3 466.0,205.6 466.2,206.2 466.4,205.9 466.6,205.8 466.8,204.2 467.0,204.7 467.2,204.4 467.4,205.0 467.6,204.7 467.8,204.0 468.0,205.0 468.2,205.5 468.4,206.1 468.6,205.6 468.8,205.6 469.0,205.5 469.2,205.0 469.4,206.0 469.6,204.8 469.8,206.0 470.0,205.6 470.2,206.6 470.4,206.4 470.6,206.6 470.8,207.1 471.0,207.1 471.2,208.2 471.4,208.5 471.6,208.7 471.8,208.1 472.0,207.7 472.2,207.9 472.4,206.9 472.6,207.0 472.8,206.8 473.0,206.6 473.2,206.4 473.4,206.3 473.6,205.6 473.8,206.4 474.0,205.9 474.2,206.7 474.4,205.8 474.6,206.2 474.8,206.8 475.0,206.4 475.2,207.6 475.4,206.8 475.6,207.0 475.8,206.1 476.0,206.4 476.2,207.4 476.4,207.2 476.6,206.5 476.8,206.8 477.0,207.4 477.2,206.6 477.4,207.2 477.6,207.1 477.8,207.6 478.0,207.3 478.2,207.0 478.4,207.3 478.6,206.2 478.8,207.9" fill="none" stroke="#000" stroke-width="3.2" stroke-linejoin="round" stroke-linecap="round" />
<polyline points="491.2,210.4 491.4,211.6 491.6,210.5 491.8,210.5 492.0,210.3 492.2,211.3 492.4,210.9 492.6,211.3 492.8,210.9 493.0,211.7 493.2,210.9 493.4,211.3 493.6,211.3 493.8,211.8 494.0,211.4 494.2,211.9 494.4,211.0 494.6,210.7 494.8,211.8 495.0,211.3 495.2,211.9 495.4,211.7 495.6,211.3 495.8,211.5 496.0,211.3 496.2,211.2 496.4,212.3 496.6,212.3 496.8,212.0 497.0,212.5 497.2,213.3 497.4,214.9 497.6,216.1 497.8,217.9 498.0,220.2 498.2,222.2 498.4,224.6 498.6,226.9 498.8,227.8 499.0,228.1 499.2,228.0 499.4,226.8 499.6,225.2 499.8,223.1 500.0,219.7 500.2,218.7 500.4,215.9 500.6,215.7 500.8,214.1 501.0,214.3 501.2,213.3 501.4,213.9 501.6,212.9 501.8,212.9 502.0,213.6 502.2,213.6 502.4,213.6 502.6,213.9 502.8,213.2 503.0,213.7 503.2,213.8 503.4,213.5 503.6,213.8 503.8,213.5 504.0,213.5 504.2,214.1 504.4,214.3 504.6,214.3 504.8,213.4 505.0,213.5 505.2,214.4 505.4,214.0 505.6,213.7 505.8,214.2 506.0,214.9 506.2,214.9 506.4,214.7 506.6,215.2 506.8,215.0 507.0,215.5 507.2,214.6 507.4,215.7 507.6,215.4 507.8,215.5 508.0,215.0 508.2,214.6 508.4,215.3 508.6,215.9 508.8,215.4 509.0,215.8 509.2,216.4 509.4,216.2 509.6,215.9 509.8,216.9 510.0,216.3 510.2,217.4 510.4,216.9 510.6,216.9 510.8,215.9 511.0,215.7 511.2,216.3 511.4,216.6 511.6,216.5 511.8,216.0 512.0,216.4 512.2,216.6 512.4,215.5 512.6,216.4 512.8,215.6 513.0,216.1 513.2,216.6 513.4,216.0 513.6,216.3 513.8,216.8 514.0,215.9 514.2,216.2 514.4,216.4 514.6,217.4 514.8,217.0 515.0,216.2 515.2,217.2 515.4,216.7 515.6,216.8 515.8,217.3 516.0,216.6 516.2,217.0 516.4,216.7 516.6,217.5 516.8,217.8 517.0,217.3 517.2,217.2 517.4,217.7 517.6,217.7 517.8,216.8 518.0,217.4 518.2,217.3 518.4,216.9 518.6,217.8 518.8,217.2 519.0,218.4 519.2,218.6 519.4,219.3 519.6,219.2 519.8,219.6 520.0,219.1 520.2,219.3 520.4,219.1 520.6,219.0 520.8,218.8 521.0,218.2 521.2,218.9 521.4,218.9 521.6,218.7 521.8,218.4 522.0,217.8 522.2,217.8 522.4,219.0 522.6,218.7 522.8,218.8 523.0,219.1 523.2,219.0 523.4,218.8 523.6,219.0 523.8,219.0 524.0,219.4 524.2,218.9 524.4,219.0 524.6,219.5 524.8,218.6 525.0,219.1 525.2,219.3 525.4,218.5 525.6,219.1 525.8,220.3 526.0,219.4 526.2,219.9 526.4,219.8 526.6,219.7 526.8,220.0 527.0,219.7 527.2,219.9 527.4,220.1 527.6,220.1 527.8,220.4 528.0,220.1 528.2,220.3 528.4,220.0 528.6,220.7 528.8,220.2 529.0,219.9 529.2,220.2 529.4,221.1 529.6,219.9 529.8,220.2 530.0,220.8 530.2,220.3 530.4,220.4 530.6,220.3 530.8,220.3 531.0,220.7 531.2,220.9 531.4,221.5 531.6,220.8 531.8,221.1 532.0,221.7 532.2,220.2 532.4,220.8 532.6,220.8 532.8,221.7 533.0,221.6 533.2,221.1 533.4,221.4 533.6,221.6 533.8,221.2 534.0,221.0 534.2,221.4 534.4,221.8 534.6,221.5 534.8,221.6 535.0,222.2 535.2,221.9 535.4,222.6 535.6,222.4 535.8,222.9 536.0,222.8 536.2,222.7 536.4,223.1 536.6,223.9 536.8,224.8 537.0,224.6 537.2,225.4 537.4,225.3 537.6,225.8 537.8,223.9 538.0,223.7 538.2,223.2 538.4,223.3 538.6,222.9 538.8,223.5 539.0,222.7 539.2,222.5 539.4,223.2 539.6,223.2 539.8,222.6 540.0,223.6 540.2,223.2 540.4,223.4 540.6,222.7 540.8,223.1 541.0,222.9 541.2,223.8 541.4,223.0 541.6,223.3 541.8,223.7 542.0,223.9 542.2,224.2 542.4,222.7 542.6,222.6 542.8,223.6 543.0,223.2 543.2,223.6 543.4,223.6 543.6,223.8 543.8,224.0 544.0,224.0 544.2,224.0 544.4,224.0 544.6,223.5 544.8,224.4 545.0,223.9 545.2,224.1 545.4,224.3 545.6,224.9 545.8,224.2 546.0,224.1 546.2,224.6 546.4,225.1 546.6,224.9 546.8,225.2 547.0,224.7 547.2,225.0 547.4,225.5 547.6,226.6 547.8,226.3 548.0,227.0 548.2,226.5 548.4,226.3 548.6,225.9 548.8,226.0 549.0,225.1 549.2,226.1 549.4,225.6 549.6,225.5 549.8,224.7 550.0,226.3 550.2,225.8 550.4,225.8 550.6,225.4 550.8,225.8 551.0,225.1 551.2,225.8 551.4,225.6 551.6,226.1 551.8,226.0 552.0,225.5 552.2,225.8 552.4,226.4 552.6,226.3 552.8,226.4 553.0,226.1 553.2,225.8 553.4,226.1 553.6,226.1 553.8,226.6 554.0,225.8 554.2,226.5 554.4,225.9 554.6,226.6 554.8,225.5 555.0,227.1 555.2,226.3 555.4,225.8 555.6,225.9 555.8,226.5 556.0,226.1 556.2,226.1 556.4,227.2 556.6,226.3 556.8,226.4 557.0,226.4 557.2,226.1 557.4,227.0 557.6,226.7 557.8,226.5 558.0,227.4 558.2,226.4 558.4,227.2 558.6,227.0 558.8,226.4 559.0,227.2 559.2,226.4 559.4,226.5 559.6,227.1 559.8,226.8 560.0,226.7 560.2,226.8 560.4,226.4 560.6,226.3 560.8,227.3 561.0,226.2 561.2,226.8 561.4,226.4 561.6,227.4 561.8,227.9 562.0,227.1 562.2,227.4 562.4,227.5 562.6,227.0 562.8,228.2 563.0,226.8 563.2,227.2 563.4,227.6 563.6,227.3 563.8,227.7 564.0,227.0 564.2,227.4 564.4,228.2 564.6,227.0 564.8,227.8 565.0,228.2 565.2,228.0 565.4,228.2 565.6,228.0 565.8,228.1 566.0,228.6 566.2,227.5 566.4,227.7 566.6,228.1 566.8,228.2 567.0,227.7 567.2,227.4 567.4,227.9 567.6,228.5 567.8,228.1 568.0,227.9 568.2,228.3 568.4,227.7 568.6,228.5 568.8,228.6 569.0,228.2 569.2,227.9 569.4,228.6 569.6,228.5 569.8,228.5 570.0,228.4 570.2,228.2 570.4,228.6 570.6,228.3 570.8,228.5 571.0,229.4 571.2,229.3 571.4,229.8 571.6,230.0 571.8,230.3 572.0,230.3 572.2,230.1 572.4,230.8 572.6,229.7 572.8,228.9 573.0,229.2 573.2,229.5 573.4,229.5 573.6,228.7 573.8,229.2 574.0,229.4 574.2,229.5 574.4,229.5 574.6,228.8 574.8,228.9 575.0,228.6 575.2,229.3 575.4,228.9 575.6,229.5 575.8,229.1 576.0,229.7 576.2,229.9 576.4,229.4 576.6,229.0 576.8,229.8 577.0,229.7 577.2,229.2 577.4,229.5 577.6,229.8 577.8,229.6 578.0,229.9 578.2,230.4 578.4,230.0 578.6,229.9 578.8,230.4 579.0,230.6 579.2,230.9 579.4,230.6 579.6,232.4 579.8,231.7 580.0,231.8 580.2,232.0 580.4,231.2 580.6,231.9 580.8,231.6 581.0,231.0 581.2,230.1 581.4,230.4 581.6,230.0 581.8,230.3 582.0,230.1 582.2,230.6 582.4,230.7 582.6,230.3 582.8,230.5 583.0,230.3 583.2,230.1 583.4,230.9 583.6,230.8 583.8,230.8 584.0,231.0 584.2,231.5 584.4,231.0 584.6,230.6 584.8,231.3 585.0,230.5 585.2,230.9 585.4,231.0 585.6,231.3 585.8,231.2 586.0,231.0 586.2,231.9 586.4,231.2 586.6,231.7 586.8,231.7 587.0,231.8 587.2,232.7 587.4,232.8 587.6,233.0 587.8,233.3 588.0,234.0 588.2,234.3 588.4,233.9 588.6,233.3 588.8,233.2 589.0,233.1 589.2,233.0 589.4,232.7 589.6,232.1 589.8,232.7 590.0,232.7 590.2,233.3 590.4,233.0 590.6,233.0 590.8,233.1 591.0,233.1 591.2,233.6 591.4,234.3 591.6,234.3 591.8,234.0 592.0,234.2 592.2,234.5 592.4,234.6 592.6,234.9 592.8,235.8 593.0,235.8 593.2,236.0 593.4,236.4 593.6,236.9 593.8,236.8 594.0,237.9 594.2,237.9 594.4,237.9 594.6,238.5 594.8,238.8 595.0,239.8 595.2,240.2 595.4,241.4 595.6,241.6 595.8,243.2 596.0,244.8 596.2,245.6 596.4,246.8 596.6,248.7 596.8,250.3 597.0,253.6 597.2,256.9 597.4,260.6 597.6,260.5 597.8,257.3 598.0,253.6 598.2,250.4 598.4,248.3 598.6,247.2 598.8,245.1 599.0,244.4 599.2,243.8 599.4,242.3 599.6,241.3 599.8,241.3 600.0,240.2 600.2,239.9 600.4,239.4 600.6,239.2 600.8,238.6 601.0,238.4 601.2,237.2 601.4,237.4 601.6,237.4 601.8,237.3 602.0,237.4 602.2,237.1 602.4,237.0 602.6,236.1 602.8,235.8 603.0,236.7 603.2,236.3 603.4,235.0 603.6,236.0 603.8,235.0 604.0,235.4 604.2,235.1 604.4,235.2 604.6,235.2 604.8,235.5 605.0,235.2 605.2,235.6 605.4,235.7 605.6,234.9 605.8,235.0 606.0,234.8 606.2,235.1 606.4,234.8 606.6,233.5 606.8,233.2 607.0,233.5 607.2,232.9 607.4,232.7 607.6,232.5 607.8,233.1 608.0,233.5 608.2,234.1 608.4,234.4 608.6,234.9 608.8,234.7 609.0,234.9 609.2,235.1 609.4,234.5 609.6,235.2 609.8,235.6 610.0,235.7 610.2,235.2 610.4,235.4 610.6,235.7 610.8,235.2 611.0,234.9 611.2,234.9 611.4,235.7 611.6,235.6 611.8,235.6 612.0,236.0 612.2,235.5 612.4,234.9 612.6,235.5 612.8,235.4 613.0,235.3 613.2,235.8 613.4,235.8 613.6,235.4 613.8,235.3 614.0,235.9 614.2,235.8 614.4,235.9 614.6,235.9 614.8,235.8 615.0,235.6 615.2,236.1 615.4,236.0 615.6,236.0 615.8,236.2 616.0,236.1 616.2,236.5 616.4,237.0 616.6,236.1 616.8,236.5 617.0,236.5 617.2,236.4 617.4,236.5 617.6,236.8 617.8,236.7 618.0,236.5 618.2,236.6 618.4,236.9 618.6,236.7 618.8,237.4 619.0,236.4 619.2,236.9 619.4,236.3 619.6,237.6 619.8,236.9 620.0,237.5 620.2,236.5 620.4,237.4 620.6,237.1 620.8,237.2 621.0,237.4 621.2,236.9 621.4,237.2 621.6,237.7 621.8,237.1 622.0,238.0 622.2,237.5 622.4,237.1 622.6,237.6 622.8,237.5 623.0,237.6 623.2,237.4 623.4,237.9 623.6,238.2 623.8,237.9 624.0,237.6 624.2,237.9 624.4,237.2 624.6,238.2 624.8,237.8 625.0,237.6 625.2,237.9 625.4,238.1 625.6,238.3 625.8,238.7 626.0,238.0 626.2,238.2 626.4,238.7 626.6,238.2 626.8,238.3 627.0,238.4 627.2,238.4 627.4,238.5 627.6,238.2 627.8,238.5 628.0,238.8 628.2,238.0 628.4,238.7 628.6,238.3 628.8,238.7 629.0,238.9 629.2,238.8 629.4,239.1 629.6,238.7 629.8,238.8 630.0,239.0 630.2,238.7 630.4,238.8 630.6,238.8 630.8,238.7 631.0,237.8 631.2,239.4 631.4,238.3 631.6,239.3 631.8,238.5 632.0,239.4 632.2,238.8 632.3,239.1 632.8,239.0 633.3,239.3 633.8,239.0 634.3,239.4 634.8,239.3 635.3,239.6 635.8,239.6 636.3,239.6 636.8,239.6 637.3,239.8 637.8,239.9 638.3,239.9 638.8,240.0 639.3,240.1 639.8,240.0 640.3,239.8 640.8,240.0 641.3,240.7 641.8,240.3 642.3,240.3 642.8,240.7 643.3,240.5 643.8,240.4 644.3,240.6 644.8,241.1 645.3,241.0 645.8,240.8 646.3,240.9 646.8,241.2 647.3,241.2 647.8,241.2 648.3,241.4 648.8,241.3 649.3,241.4 649.8,241.4 650.3,241.5 650.8,241.4 651.3,241.7 651.8,241.7 652.3,241.8 652.8,242.2 653.3,242.0 653.8,242.0 654.3,242.1 654.8,242.4 655.3,242.5 655.8,242.2 656.3,242.2 656.8,242.7 657.3,242.7 657.8,242.6 658.3,242.7 658.8,243.0 659.3,243.0 659.8,243.3 660.3,243.1 660.8,243.4 661.3,243.6 661.8,243.7 662.3,243.5 662.8,243.7 663.3,243.8 663.8,243.8 664.3,243.7 664.8,244.0 665.3,245.2 665.8,246.6 666.3,246.2 666.8,245.2 667.3,244.4 667.8,244.4 668.3,244.5 668.8,244.3 669.3,244.5 669.8,244.5 670.3,244.5 670.8,245.1 671.3,244.9 671.8,244.9 672.3,245.2 672.8,245.0 673.3,245.4 673.8,245.2 674.3,245.2 674.8,245.6 675.3,245.6 675.8,245.4 676.3,245.5 676.8,245.9 677.3,245.9 677.8,245.9 678.3,245.5 678.8,246.2 679.3,245.9 679.8,246.1 680.3,246.0 680.8,246.3 681.3,246.3 681.8,246.4 682.3,246.1 682.8,246.4 683.3,246.3 683.8,246.4 684.3,246.7 684.8,246.4 685.3,246.4 685.8,246.6 686.3,246.9 686.8,247.0 687.3,247.1 687.8,247.0 688.3,246.9 688.8,246.8 689.3,247.5 689.8,247.2 690.3,247.7 690.8,247.7 691.3,247.4 691.8,247.6 692.3,247.6 692.8,247.4 693.3,247.9 693.8,247.8 694.3,247.8 694.8,247.9 695.3,248.1 695.8,248.0 696.3,248.1 696.8,247.9 697.3,248.2 697.8,248.4 698.3,248.3 698.8,247.9 699.3,248.5 699.8,248.4 700.3,248.5 700.8,248.4 701.3,248.7 701.8,248.7 702.3,248.7 702.8,249.0 703.3,248.8 703.8,248.8 704.3,248.9 704.8,249.1 705.3,249.1 705.8,249.3 706.3,249.1 706.8,249.4 707.3,249.5 707.8,249.3 708.3,249.3 708.8,249.7 709.3,249.9 709.8,249.6 710.3,249.6 710.8,249.7 711.3,249.7 711.8,250.0 712.3,249.9 712.8,250.2 713.3,250.2 713.8,250.1 714.3,250.0 714.8,250.4 715.3,250.1 715.8,250.3 716.3,250.6 716.8,250.6 717.3,250.6 717.8,250.7 718.3,250.6 718.8,250.9 719.3,250.7 719.8,251.0 720.3,251.0 720.8,251.0 721.3,250.9 721.8,251.0 722.3,251.1 722.8,251.2 723.3,251.2 723.8,251.4 724.3,251.3 724.8,251.5 725.3,251.8 725.8,251.6 726.3,251.8 726.8,251.8 727.3,251.9 727.8,251.5 728.3,252.0 728.8,252.0 729.3,251.7 729.8,252.0 730.3,252.0 730.8,252.2 731.3,251.6 731.8,252.1 732.3,252.2 732.8,252.2 733.3,252.1 733.8,252.0 734.3,252.2 734.8,252.0 735.3,250.8 735.8,249.5 736.3,250.0 736.8,252.2 737.3,254.6 737.8,254.7 738.3,253.6 738.8,253.1 739.3,252.6 739.8,252.8 740.3,252.6 740.8,252.9 741.3,252.8 741.8,252.9 742.3,253.1 742.8,252.8 743.3,252.8 743.8,252.9 744.3,252.9 744.8,253.1 745.3,252.9 745.8,253.1 746.3,253.2 746.8,252.9 747.3,253.4 747.8,253.3 748.3,253.4 748.8,253.5 749.3,253.3 749.8,253.5 750.3,253.4 750.8,253.2 751.3,252.2 751.8,251.4 752.3,251.4 752.8,252.9 753.3,253.6 753.8,253.7 754.3,254.1 754.8,254.1 755.3,254.1 755.8,253.2 756.3,252.2 756.8,251.5 757.3,251.7 757.8,253.1 758.3,255.6 758.8,257.5 759.3,257.4 759.8,256.3 760.3,255.2 760.8,254.5 761.3,253.6 761.8,252.4 762.3,252.6 762.8,254.0 763.3,254.7 763.8,254.9 764.3,255.1 764.8,255.3 765.3,255.3 765.8,255.7 766.3,255.4 766.8,255.8 767.3,255.6 767.8,255.6 768.3,255.6 768.8,255.8 769.3,255.8 769.8,255.8 770.3,255.9 770.8,256.0 771.3,256.2 771.8,256.5 772.3,256.3 772.8,255.9 773.3,254.9 773.8,253.6 774.3,254.7 774.8,257.3 775.3,259.8 775.8,259.8 776.3,258.3 776.8,257.3 777.3,256.7 777.8,256.7 778.3,256.8 778.8,257.0 779.3,256.7 779.8,257.0 780.3,256.9 780.8,256.9 781.3,257.4 781.8,257.2 782.3,257.5 782.8,257.2 783.3,257.3 783.8,257.5 784.3,257.4 784.8,257.7 785.3,257.6 785.8,257.9 786.3,257.7 786.8,258.1 787.3,258.1 787.8,258.0 788.3,258.2 788.8,257.9 789.3,258.3 789.8,258.0 790.3,258.2 790.8,258.2 791.3,258.1 791.8,258.4 792.3,258.5 792.8,258.2 793.3,258.4 793.8,258.4 794.3,258.5 794.8,258.7 795.3,258.8 795.8,258.5 796.3,258.9 796.8,258.8 797.3,258.9 797.8,258.8 798.3,258.7 798.8,258.7 799.3,257.7 799.8,257.0 800.3,257.4 800.8,258.8 801.3,260.8 801.8,262.2 802.3,262.0 802.8,260.8 803.3,259.9 803.8,259.5 804.3,259.3 804.8,259.5 805.3,259.4 805.8,259.6 806.3,259.8 806.8,259.5 807.3,259.7 807.8,259.6 808.3,259.6 808.8,259.6 809.3,260.1 809.8,259.7 810.3,259.9 810.8,259.8 811.3,260.0 811.8,260.2 812.3,260.5 812.8,259.7 813.3,260.2 813.8,260.3 814.3,260.2 814.8,260.3 815.3,260.4 815.8,260.3 816.3,260.1 816.8,260.1 817.3,260.5 817.8,260.1 818.3,260.2 818.8,260.3 819.3,260.5 819.8,260.4 820.3,260.4 820.8,260.5 821.3,260.5 821.8,260.7 822.3,260.7 822.8,260.6 823.3,260.7 823.8,260.6 824.3,260.7 824.8,261.0 825.3,260.8 825.8,261.1 826.3,260.6 826.8,261.1 827.3,261.1 827.8,260.8 828.3,261.1 828.8,260.8 829.3,261.5 829.8,261.5 830.3,261.4 830.8,261.1 831.3,261.4 831.8,261.2 832.3,261.6 832.8,261.6 833.3,261.7 833.8,261.3 834.3,261.5 834.8,261.7 835.3,261.7 835.8,261.7 836.3,261.9 836.8,261.9 837.3,261.8 837.8,262.2 838.3,261.8 838.8,261.8 839.3,262.4 839.8,262.2 840.3,262.4 840.8,262.3 841.3,262.3 841.8,262.1 842.3,262.5 842.8,262.6 843.3,262.5 843.8,262.3 844.3,262.7 844.8,262.6 845.3,262.5 845.8,262.7 846.3,262.6 846.8,262.7 847.3,262.6 847.8,262.9 848.3,262.6 848.8,262.7 849.3,262.8 849.8,262.8 850.3,262.9 850.8,263.0 851.3,263.2 851.8,263.0 852.3,263.0 852.8,263.0 853.3,263.1 853.8,263.1 854.3,263.1 854.8,263.2 855.3,263.4 855.8,263.4 856.3,263.2 856.8,263.7 857.3,263.6 857.8,263.4 858.3,263.2 858.8,263.5 859.3,263.6 859.8,263.6 860.3,263.6 860.8,263.7 861.3,264.0 861.8,264.0 862.3,263.8 862.8,263.7 863.3,263.7 863.8,264.0 864.3,263.9 864.8,264.0 865.3,263.9 865.8,263.9 866.3,264.0 866.8,264.1 867.3,264.1 867.8,264.0 868.3,264.2 868.8,264.1 869.3,264.4 869.8,264.2 870.3,264.2 870.8,264.3 871.3,264.6 871.8,264.6 872.3,264.2 872.8,264.4 873.3,264.2 873.8,264.7 874.3,264.5 874.8,264.6 875.3,264.8 875.8,264.9 876.3,264.5 876.8,264.7 877.3,264.7 877.8,264.7 878.3,265.0 878.8,264.8 879.3,264.9 879.8,265.2 880.3,265.0 880.8,265.2 881.3,265.3 881.8,265.4 882.3,265.3 882.8,265.6 883.3,265.6 883.8,266.3 884.3,266.3 884.8,267.3" fill="none" stroke="#000" stroke-width="3.2" stroke-linejoin="round" stroke-linecap="round" />
<polyline points="910.0,265.0 916.5,265.0 919.5,271.8 924.5,264.8" fill="none" stroke="#000" stroke-width="3.2" stroke-linejoin="round" stroke-linecap="round" />
<polyline points="929.0,264.8 931.5,265.5 936.0,274.0 942.5,265.0" fill="none" stroke="#000" stroke-width="3.2" stroke-linejoin="round" stroke-linecap="round" />
<polyline points="948.0,264.5 953.0,266.5 955.5,268.6 959.0,276.5 962.3,268.0" fill="none" stroke="#000" stroke-width="3.2" stroke-linejoin="round" stroke-linecap="round" />
<polyline points="966.5,265.8 971.0,265.8 976.0,266.2 982.0,267.6" fill="none" stroke="#000" stroke-width="3.2" stroke-linejoin="round" stroke-linecap="round" />
<polyline points="986.0,269.2 987.5,271.0 989.5,278.2 993.0,271.5 997.0,269.2 1002.0,267.6" fill="none" stroke="#000" stroke-width="3.2" stroke-linejoin="round" stroke-linecap="round" />
<polyline points="1007.5,265.8 1009.5,269.8 1012.0,268.0 1016.0,268.8 1023.5,269.6" fill="none" stroke="#000" stroke-width="3.2" stroke-linejoin="round" stroke-linecap="round" />
<polyline points="1029.0,269.6 1033.0,272.0 1036.5,279.6 1040.0,273.6 1043.0,271.6 1046.5,271.0" fill="none" stroke="#000" stroke-width="3.2" stroke-linejoin="round" stroke-linecap="round" />
<polyline points="1051.5,270.4 1058.0,271.0 1063.0,271.2 1067.5,272.4" fill="none" stroke="#000" stroke-width="3.2" stroke-linejoin="round" stroke-linecap="round" />
<polyline points="1074.5,271.6 1080.0,271.6 1085.0,273.0 1091.0,274.0" fill="none" stroke="#000" stroke-width="3.2" stroke-linejoin="round" stroke-linecap="round" />
<polyline points="1098.0,271.6 1102.0,272.8 1106.0,275.0 1111.0,282.6 1114.5,275.8" fill="none" stroke="#000" stroke-width="3.2" stroke-linejoin="round" stroke-linecap="round" />
<polyline points="1121.5,274.9 1126.0,274.5 1130.0,273.2 1133.0,274.8 1140.0,275.4" fill="none" stroke="#000" stroke-width="3.2" stroke-linejoin="round" stroke-linecap="round" />
<polyline points="190.6,219.9 190.8,237.6 191.1,217.6 191.3,193.6 191.6,177.1 191.8,164.7 192.1,154.9 192.3,147.9 192.6,143.5 192.8,138.9 193.1,136.0 193.3,133.8 193.6,133.1 193.8,134.2 194.1,136.6 194.3,139.5 194.6,143.9 194.8,150.2 195.1,158.1 195.3,169.3 195.6,183.8 195.8,205.0 196.1,233.0 196.3,237.7 196.6,208.9 196.8,185.5 197.1,169.2 197.3,156.2 197.6,145.8 197.8,138.2 198.1,131.0 198.3,125.0 198.6,119.9 198.8,116.8 199.1,114.9 199.3,113.5 199.6,113.0 199.8,112.6 200.1,111.5 200.3,111.3 200.6,112.0 200.8,113.0 201.1,116.3 201.3,119.6 201.6,123.2 201.8,128.3 202.1,134.7 202.3,142.0 202.6,151.8 202.8,163.6 203.1,180.1 203.3,203.2 203.6,232.0 203.8,236.8 204.1,208.8 204.3,184.2 204.6,165.1 204.8,151.8 205.1,141.2 205.3,133.5 205.6,126.5 205.8,122.0 206.1,117.0 206.3,112.9 206.6,108.8 206.8,106.2 207.1,102.5 207.3,101.4 207.6,100.8 207.8,100.7 208.1,100.6 208.3,101.3 208.6,100.1 208.8,99.9 209.1,99.1 209.3,99.1 209.6,99.4 209.8,100.2 210.1,99.4 210.3,100.0 210.6,100.5 210.8,100.7 211.1,102.1 211.3,104.7 211.6,106.9 211.8,109.1 212.1,111.3 212.3,113.2 212.6,115.9 212.8,119.2 213.1,123.4 213.3,127.7 213.6,132.9 213.8,139.0 214.1,144.9 214.3,152.8 214.6,162.4 214.8,175.6 215.1,191.9 215.3,215.3 215.6,242.5 215.8,247.3 216.1,220.8 216.3,196.8 216.6,179.3 216.8,165.8 217.1,155.1 217.3,147.2 217.6,140.3 217.8,133.8 218.1,129.0 218.3,125.1 218.6,121.3 218.8,118.2 219.1,116.2 219.3,113.1 219.6,111.2 219.8,109.7 220.1,108.1 220.3,106.3 220.6,105.4 220.8,103.4 221.1,101.5 221.3,100.1 221.6,98.4 221.8,96.7 222.1,96.3 222.3,96.0 222.6,95.3 222.8,94.6 223.1,94.7 223.3,94.4 223.6,94.2 223.8,94.1 224.1,95.1 224.3,95.8 224.6,95.7 224.8,94.9 225.1,95.3 225.3,94.5 225.6,94.3 225.8,94.7 226.1,95.6 226.3,95.8 226.6,95.4 226.8,96.2 227.1,95.9 227.3,95.3 227.6,96.3 227.8,97.4 228.1,98.0 228.3,99.4 228.6,100.8 228.8,101.3 229.1,102.8 229.3,103.2 229.6,103.4 229.8,104.9 230.1,105.3 230.3,105.9 230.6,107.0 230.8,108.8 231.1,109.6 231.3,111.4 231.6,114.0 231.8,116.3 232.1,118.8 232.3,121.9 232.6,125.5 232.8,129.4 233.1,134.4 233.3,139.4 233.6,144.5 233.8,151.8 234.1,160.0 234.3,171.3 234.6,186.8 234.8,208.1 235.1,232.0 235.3,236.8 235.6,214.6 235.8,193.0 236.1,177.0 236.3,164.6 236.6,154.9 236.8,147.8 237.1,141.8 237.3,136.0 237.6,131.9 237.8,128.1 238.1,124.9 238.3,122.9 238.6,121.2 238.8,119.2 239.1,118.0 239.3,115.5 239.6,113.1 239.8,111.3 240.1,109.7 240.3,108.4 240.6,108.0 240.8,107.6 241.1,106.9 241.3,107.0 241.6,106.6 241.8,106.0 242.1,105.9 242.3,105.8 242.6,106.0 242.8,106.3 243.1,107.4 243.3,107.4 243.6,107.8 243.8,107.5 244.1,107.6 244.3,106.8 244.6,107.6 244.8,109.0 245.1,110.3 245.3,112.3 245.6,114.4 245.8,115.3 246.1,115.4 246.3,114.2 246.6,113.0 246.8,111.4 247.1,110.2 247.3,108.3 247.6,108.1 247.8,106.7 248.1,105.9 248.3,105.1 248.6,105.4 248.8,105.3 249.1,105.2 249.3,106.1 249.6,106.3 249.8,105.6 250.1,105.9 250.3,106.8 250.6,106.7 250.8,107.0 251.1,107.9 251.3,108.2 251.6,108.2 251.8,109.1 252.1,109.4 252.3,109.1 252.6,109.0 252.8,109.1 253.1,107.9 253.3,108.0 253.6,108.8 253.8,108.7 254.1,108.5 254.3,109.9 254.6,109.7 254.8,110.3 255.1,110.1 255.3,110.8 255.6,111.1 255.8,111.1 256.1,111.0 256.3,111.4 256.6,111.9 256.8,112.2 257.1,113.6 257.3,113.7 257.6,113.7 257.8,113.5 258.1,113.8 258.3,113.6 258.6,114.2 258.8,114.9 259.1,114.4 259.3,113.5 259.6,113.6 259.8,112.6 260.1,112.6 260.3,112.6 260.6,113.0 260.8,113.3 261.1,113.5 261.3,114.0 261.6,115.8 261.8,116.8 262.1,116.4 262.3,116.8 262.6,117.2 262.8,117.4 263.1,116.9 263.3,117.7 263.6,119.4 263.8,119.1 264.1,119.8 264.3,120.6 264.6,121.7 264.8,122.5 265.1,124.7 265.3,125.9 265.6,127.8 265.8,129.4 266.1,130.5 266.3,131.9 266.6,133.6 266.8,135.0 267.1,137.0 267.3,139.3 267.6,141.6 267.8,143.6 268.1,146.8 268.3,150.4 268.6,154.5 268.8,159.0 269.1,164.0 269.3,170.1 269.6,177.8 269.8,186.8 270.1,198.8 270.3,216.5 270.6,235.2 270.8,238.8 271.1,221.5 271.3,204.2 271.6,191.6 271.8,182.3 272.1,174.1 272.3,167.1 272.6,162.9 272.8,157.9 273.1,155.1 273.3,152.0 273.6,149.7 273.8,146.6 274.1,145.7 274.3,143.3 274.6,141.7 274.8,140.6 275.1,139.8 275.3,138.0 275.6,136.7 275.8,135.5 276.1,134.6 276.3,133.7 276.6,132.6 276.8,132.5 277.1,132.3 277.3,131.7 277.6,131.8 277.8,132.4 278.1,132.6 278.3,132.5 278.6,132.1 278.8,131.0 279.1,130.5 279.3,129.8 279.6,129.5 279.8,130.2 280.1,130.7 280.3,130.3 280.6,130.1 280.8,129.5 281.1,129.3 281.3,128.2 281.6,128.1 281.8,128.8 282.1,128.7 282.3,128.1 282.6,128.9 282.8,129.2 283.1,129.3 283.3,129.5 283.6,129.3 283.8,129.3 284.1,130.1 284.3,130.7 284.6,131.5 284.8,132.4 285.1,132.6 285.3,132.2 285.6,131.1 285.8,130.4 286.1,130.1 286.3,130.1 286.6,129.8 286.8,130.0 287.1,130.6 287.3,130.6 287.6,131.6 287.8,131.9 288.1,131.9 288.3,132.1 288.6,132.0 288.8,131.5 289.1,131.0 289.3,131.1 289.6,131.4 289.8,131.7 290.1,132.8 290.3,134.5 290.6,136.7 290.8,138.9 291.1,141.6 291.3,143.0 291.6,143.2 291.8,143.0 292.1,142.0 292.3,140.2 292.6,137.7 292.8,136.2 293.1,135.2 293.3,134.0 293.6,134.5 293.8,134.9 294.1,135.4 294.3,135.6 294.6,135.0 294.8,134.7 295.1,135.0 295.3,134.7 295.6,134.6 295.8,136.2 296.1,136.3 296.3,135.9 296.6,137.1 296.8,137.5 297.1,137.4 297.3,136.9 297.6,138.2 297.8,138.3 298.1,138.4 298.3,138.3 298.6,139.4 298.8,139.4 299.1,139.2 299.3,139.5 299.6,140.3 299.8,141.3 300.1,141.8 300.3,142.6 300.6,143.8 300.8,144.0 301.1,143.3 301.3,142.9 301.6,143.0 301.8,141.8 302.1,141.2 302.3,140.5 302.6,140.4 302.8,139.6 303.1,139.7 303.3,139.7 303.6,140.3 303.8,140.3 304.1,140.5 304.3,140.5 304.6,140.6 304.8,141.2 305.1,141.7 305.3,142.8 305.6,143.7 305.8,144.5 306.1,145.4 306.3,145.9 306.6,145.6 306.8,145.5 307.1,145.8 307.3,144.8 307.6,144.5 307.8,144.5 308.1,144.4 308.3,143.4 308.6,143.4 308.8,143.7 309.1,143.7 309.3,143.7 309.6,144.0 309.8,144.3 310.1,143.3 310.3,143.5 310.6,144.1 310.8,144.2 311.1,144.3 311.3,144.6 311.6,144.6 311.8,144.3 312.1,144.3 312.3,144.3 312.6,145.4 312.8,145.6 313.1,145.5 313.3,146.4 313.6,146.6 313.8,146.8 314.1,146.5 314.3,147.1 314.6,147.3 314.8,146.5 315.1,146.1 315.3,146.0 315.6,145.6 315.8,145.0 316.1,145.9 316.3,146.4 316.6,146.9 316.8,147.3 317.1,147.1 317.3,146.8 317.6,146.0 317.8,146.4 318.1,146.4 318.3,147.5 318.6,148.6 318.8,150.1 319.1,150.3 319.3,151.6 319.6,151.1 319.8,150.8 320.1,149.6 320.3,148.8 320.6,147.7 320.8,147.8 321.1,147.8 321.3,148.6 321.6,149.2 321.8,149.1 322.1,149.0 322.3,149.1 322.6,149.6 322.8,150.4 323.1,151.3 323.3,151.5 323.6,152.0 323.8,152.2 324.1,152.1 324.3,151.8 324.6,151.9 324.8,151.4 325.1,151.2 325.3,150.6 325.6,151.0 325.8,151.1 326.1,151.6 326.3,151.9 326.6,152.0 326.8,152.0 327.1,152.2 327.3,152.2 327.6,151.8 327.8,151.7 328.1,150.9 328.3,150.9 328.6,150.7 328.8,150.9 329.1,151.1 329.3,151.2 329.6,151.4 329.8,152.3 330.1,152.0 330.3,152.4 330.6,153.4 330.8,152.9 331.1,152.0 331.3,152.4 331.6,152.1 331.8,151.6 332.1,152.4 332.3,153.9 332.6,153.8 332.8,154.4 333.1,155.7 333.3,155.8 333.6,155.2 333.8,155.5 334.1,155.4 334.3,154.7 334.6,154.3 334.8,154.4 335.1,154.1 335.3,154.0 335.6,154.2 335.8,154.7 336.1,154.7 336.3,155.2 336.6,156.0 336.8,155.5 337.1,155.2 337.3,155.1 337.6,154.9 337.8,154.9 338.1,156.0 338.3,157.1 338.6,157.8 338.8,158.3 339.1,159.2 339.3,160.1 339.6,160.3 339.8,161.5 340.1,163.4 340.3,163.3 340.6,163.4 340.8,164.3 341.1,164.3 341.3,164.5 341.6,165.7 341.8,166.7 342.1,167.7 342.3,169.0 342.6,169.8 342.8,171.0 343.1,173.4 343.3,174.7 343.6,175.5 343.8,177.1 344.1,178.4 344.3,179.2 344.6,181.4 344.8,184.9 345.1,187.9 345.3,191.2 345.6,195.6 345.8,200.1 346.1,206.0 346.3,214.0 346.6,224.9 346.8,238.0 347.1,244.2 347.3,233.5 347.6,221.3 347.8,212.3 348.1,205.7 348.3,200.1 348.6,195.1 348.8,191.0 349.1,188.4 349.3,185.7 349.6,184.1 349.8,182.4 350.1,180.5 350.3,178.5 350.6,177.5 350.8,175.8 351.1,175.1 351.3,175.3 351.6,174.7 351.8,173.8 352.1,173.0 352.3,172.2 352.6,171.4 352.8,171.2 353.1,171.2 353.3,171.0 353.6,170.5 353.8,169.6 354.1,168.9 354.3,168.6 354.6,168.6 354.8,168.1 355.1,167.7 355.3,167.8 355.6,168.1 355.8,167.9 356.1,168.7 356.3,169.3 356.6,169.5 356.8,169.0 357.1,168.7 357.3,168.4 357.6,167.7 357.8,167.5 358.1,167.0 358.3,166.9 358.6,166.7 358.8,166.8 359.1,167.0 359.3,168.2 359.6,168.1 359.8,168.6 360.1,168.3 360.3,168.2 360.6,166.7 360.8,166.8 361.1,166.4 361.3,166.5 361.6,166.3 361.8,167.1 362.1,167.5 362.3,167.2 362.6,167.9 362.8,167.8 363.1,167.8 363.3,168.0 363.6,168.4 363.8,168.4 364.1,168.4 364.3,168.1 364.6,168.2 364.8,168.1 365.1,168.4 365.3,169.0 365.6,169.1 365.8,168.9 366.1,169.5 366.3,169.2 366.6,169.4 366.8,170.1 367.1,170.7 367.3,170.8 367.6,171.1 367.8,171.0 368.1,171.1 368.3,171.3 368.6,171.1 368.8,171.6 369.1,172.7 369.3,173.2 369.6,173.2 369.8,174.0 370.1,174.4 370.3,174.0 370.6,174.0 370.8,174.5 371.1,174.4 371.3,174.2 371.6,174.2 371.8,174.4 372.1,173.9 372.3,173.9 372.6,174.3 372.8,174.1 373.1,173.5 373.3,173.8 373.6,173.8 373.8,173.8 374.1,173.9 374.3,175.0 374.6,175.3 374.8,175.7 375.1,175.7 375.3,175.4 375.6,174.9 375.8,175.0 376.1,174.2 376.3,174.1 376.6,174.5 376.8,174.4 377.1,174.3 377.3,175.0 377.6,175.1 377.8,175.1 378.1,175.5 378.3,175.1 378.6,175.6 378.8,175.6 379.1,176.1 379.3,176.2 379.6,176.4 379.8,176.5 380.1,176.8 380.3,176.8 380.6,176.9 380.8,177.4 381.1,177.3 381.3,177.6 381.6,177.6 381.8,177.8 382.1,177.3 382.3,177.4 382.6,177.7 382.8,177.4 383.1,177.3 383.3,178.1 383.6,178.2 383.8,177.6 384.1,177.8 384.3,178.1 384.6,177.6 384.8,177.8 385.1,178.5 385.3,179.0 385.6,179.2 385.8,179.7 386.1,179.7 386.3,179.5 386.6,179.2 386.8,178.5 387.1,178.4 387.3,178.5 387.6,178.5 387.8,178.4 388.1,179.0 388.3,178.7 388.6,178.0 388.8,178.2 389.1,178.2 389.3,177.8 389.6,178.1 389.8,178.7 390.1,179.1 390.3,179.6 390.6,180.4 390.8,181.2 391.1,182.0 391.3,182.6 391.6,183.3 391.8,183.8 392.1,184.2 392.3,184.3 392.6,184.7 392.8,184.4 393.1,183.6 393.3,182.7 393.6,181.8 393.8,181.0 394.1,180.5 394.3,180.8 394.6,181.3 394.8,181.5 395.1,181.3 395.3,181.8 395.6,181.3 395.8,181.3 396.1,181.9 396.3,181.9 396.6,181.6 396.8,182.0 397.1,181.4 397.3,181.0 397.6,181.3 397.8,181.3 398.1,181.6 398.3,182.8 398.6,183.4 398.8,183.8 399.1,184.0 399.3,183.9 399.6,183.8 399.8,183.4 400.1,183.0 400.3,184.1 400.6,184.3 400.8,184.1 401.1,184.0 401.3,184.0 401.6,183.2 401.8,182.8 402.1,182.7 402.3,183.2 402.6,183.2 402.8,183.5 403.1,183.4 403.3,183.4 403.6,183.8 403.8,184.2 404.1,184.4 404.3,185.1 404.6,185.5 404.8,185.6 405.1,185.6 405.3,186.2 405.6,186.6 405.8,187.6 406.1,188.2 406.3,188.9 406.6,188.6 406.8,188.4 407.1,188.0 407.3,187.3 407.6,186.6 407.8,186.4 408.1,186.5 408.3,186.2 408.6,186.1 408.8,186.0 409.1,186.1 409.3,185.9 409.6,186.1 409.8,186.3 410.1,186.5 410.3,185.8 410.6,186.0 410.8,186.0 411.1,186.0 411.3,186.7 411.6,187.7 411.8,187.8 412.1,187.6 412.3,187.7 412.6,187.2 412.8,187.1 413.1,187.1 413.3,187.2 413.6,187.2 413.8,186.9 414.1,187.1 414.3,187.3 414.6,187.7 414.8,187.7 415.1,188.4 415.3,188.5 415.6,188.7 415.8,188.8 416.1,189.3 416.3,189.4 416.6,189.5 416.8,189.6 417.1,190.0 417.3,190.1 417.6,190.3 417.8,190.6 418.1,190.7 418.3,190.1 418.6,189.8 418.8,189.7 419.1,189.3 419.3,189.3 419.6,189.6 419.8,189.7 420.1,189.6 420.3,189.5 420.6,189.3 420.8,189.3 421.1,189.7 421.3,190.0 421.6,190.4 421.8,190.4 422.1,190.7 422.3,190.7 422.6,190.8 422.8,190.9 423.1,191.5 423.3,191.6 423.6,191.8 423.8,192.3 424.1,192.4 424.3,192.3 424.6,192.0 424.8,192.0 425.1,191.5 425.3,191.7 425.6,191.7 425.8,191.7 426.1,192.2 426.3,192.3 426.6,192.4 426.8,192.6 427.1,192.6 427.3,192.3 427.6,192.3 427.8,192.2 428.1,192.0 428.3,193.1 428.6,193.2 428.8,193.3 429.1,193.6 429.3,193.9 429.6,193.5 429.8,193.6 430.1,193.7 430.3,193.9 430.6,193.7 430.8,193.3 431.1,193.6 431.3,193.6 431.6,193.6 431.8,194.3 432.1,194.8 432.3,194.2 432.6,194.7 432.8,194.5 433.1,194.0 433.3,194.1 433.6,194.8 433.8,194.9 434.1,195.7 434.3,196.2 434.6,196.3 434.8,196.2 435.1,196.2 435.3,196.2 435.6,196.2 435.8,196.1 436.1,195.9 436.3,195.8 436.6,195.7 436.8,196.0 437.1,196.3 437.3,196.5 437.6,196.7 437.8,196.4 438.1,195.9 438.3,195.9 438.6,195.8 438.8,195.8 439.1,196.0 439.3,196.4 439.6,196.5 439.8,197.2 440.1,197.4 440.3,197.5 440.6,198.3 440.8,198.3 441.1,198.5 441.3,198.1 441.6,198.3 441.8,197.7 442.1,197.8 442.3,197.4 442.6,197.8 442.8,197.7 443.1,197.9 443.3,197.8 443.6,198.1 443.8,198.3 444.1,198.6 444.3,198.4 444.6,198.5 444.8,198.7 445.1,198.4 445.3,198.5 445.6,198.9 445.8,199.3 446.1,199.4 446.3,200.3 446.6,200.4 446.8,200.8 447.1,201.2 447.3,201.3 447.6,200.7 447.8,200.2 448.1,199.5 448.3,199.0 448.6,199.1 448.8,199.6 449.1,200.0 449.3,200.5 449.6,200.5 449.8,200.4 450.1,200.1 450.3,200.2 450.6,200.3 450.8,200.4 451.1,200.4 451.3,200.9 451.6,200.9 451.8,200.6 452.1,201.1 452.3,201.3 452.6,201.0 452.8,201.0 453.1,201.3 453.3,201.6 453.6,201.5 453.8,201.5 454.1,201.8 454.3,201.8 454.6,201.5 454.8,201.4 455.1,202.0 455.3,202.3 455.6,203.0 455.8,203.2 456.1,203.7 456.3,203.3 456.6,202.9 456.8,202.5 457.1,202.2 457.3,202.0 457.6,202.2 457.8,202.2 458.1,202.1 458.3,202.0 458.6,201.9 458.8,201.7 459.1,201.7 459.3,201.9 459.6,202.5 459.8,202.8 460.1,203.0 460.3,203.3 460.6,203.6 460.8,203.3 461.1,203.4 461.3,203.4 461.6,203.9 461.8,203.7 462.1,203.6 462.3,203.7 462.6,204.1 462.8,204.0 463.1,204.0 463.3,204.1 463.6,204.2 463.8,204.1 464.1,204.4 464.3,204.8 464.6,205.6 464.8,205.8 465.1,206.4 465.3,206.2 465.6,205.6 465.8,204.9 466.1,204.6 466.3,204.1 466.6,203.9 466.8,204.6 467.1,205.0 467.3,204.9 467.6,204.8 467.8,205.1 468.1,204.4 468.3,204.5 468.6,204.7 468.8,205.1 469.1,205.2 469.3,205.9 469.6,205.6 469.8,205.8 470.1,205.9 470.3,205.8 470.6,206.0 470.8,205.9 471.1,206.5 471.3,206.7 471.6,207.1 471.8,206.9 472.1,207.4 472.3,207.1 472.6,207.0 472.8,207.1 473.1,206.9 473.3,207.2 473.6,206.9 473.8,206.7 474.1,206.5 474.3,206.2 474.6,206.1 474.8,206.3 475.1,206.1 475.3,206.5 475.6,207.0 475.8,207.0 476.1,207.0 476.3,207.4 476.6,207.3 476.8,207.0 477.1,206.9 477.3,207.1 477.6,206.8 477.8,206.9 478.1,207.4 478.3,207.3 478.6,207.4 478.8,208.0 479.1,208.2 479.3,208.2 479.6,208.5 479.8,208.3 480.1,208.5 480.3,208.5 480.6,208.6 480.8,208.7 481.1,208.7 481.3,208.2 481.6,207.8 481.8,207.6 482.1,207.7 482.3,208.0 482.6,208.2 482.8,208.5 483.1,208.5 483.3,208.6 483.6,208.6 483.8,208.5 484.1,208.7 484.3,209.0 484.6,209.0 484.8,208.9 485.1,209.1 485.3,209.2 485.6,209.0 485.8,209.2 486.1,209.3 486.3,209.4 486.6,208.8 486.8,209.5 487.1,209.4 487.3,209.3 487.6,209.3 487.8,209.8 488.1,209.5 488.3,209.7 488.6,210.0 488.8,210.4 489.1,210.7 489.3,210.7 489.6,210.6 489.8,210.5 490.1,210.4 490.3,210.3 490.6,210.5 490.8,210.9 491.1,210.8 491.3,211.0 491.6,210.9 491.8,210.9 492.1,210.5 492.3,211.0 492.6,211.3 492.8,211.1 493.1,211.2 493.3,211.5 493.6,211.3 493.8,211.1 494.1,211.5 494.3,211.4 494.6,211.6 494.8,211.8 495.1,211.9 495.3,211.8 495.6,212.0 495.8,211.9 496.1,211.8 496.3,211.9 496.6,211.8 496.8,212.1 497.1,212.2 497.3,212.4 497.6,212.5 497.8,212.9 498.1,212.9 498.3,213.0 498.6,213.3 498.8,213.4 499.1,213.8 499.3,213.9 499.6,214.1 499.8,214.0 500.1,213.9 500.3,214.0 500.6,213.9 500.8,214.0 501.1,213.9 501.3,214.0 501.6,213.7 501.8,213.3 502.1,213.2 502.3,213.6 502.6,213.8 502.8,213.9 503.1,214.3 503.3,214.6 503.6,214.3 503.8,214.2 504.1,214.0 504.3,213.8 504.6,213.8 504.8,214.2 505.1,214.5 505.3,215.0 505.6,215.4 505.8,215.1 506.1,214.7 506.3,214.6 506.6,214.4 506.8,214.6 507.1,214.4 507.3,214.8 507.6,214.8 507.8,214.8 508.1,214.4 508.3,214.9 508.6,214.9 508.8,215.0 509.1,214.9 509.3,215.6 509.6,215.7 509.8,216.0 510.1,216.1 510.3,216.4 510.6,216.1 510.8,216.3 511.1,216.4 511.3,216.7 511.6,216.7 511.8,216.7 512.0,216.4 512.3,216.2 512.5,216.1 512.8,216.1 513.0,216.2 513.3,216.5 513.5,216.5 513.8,216.4 514.0,216.2 514.3,216.4 514.5,216.4 514.8,216.8 515.0,217.1 515.3,217.4 515.5,217.6 515.8,217.4 516.0,217.2 516.3,217.1 516.5,217.1 516.8,216.9 517.0,216.9 517.3,216.6 517.5,216.7 517.8,216.7 518.0,216.8 518.3,217.1 518.5,217.5 518.8,217.9 519.0,218.2 519.3,218.4 519.5,218.5 519.8,218.7 520.0,218.7 520.3,218.5 520.5,218.6 520.8,218.8 521.0,218.6 521.3,218.6 521.5,218.7 521.8,218.5 522.0,218.1 522.3,218.5 522.5,218.5 522.8,218.3 523.0,218.9 523.3,219.0 523.5,218.9 523.8,218.8 524.0,219.2 524.3,218.9 524.5,219.1 524.8,219.2 525.0,219.5 525.3,219.4 525.5,219.4 525.8,219.6 526.0,219.6 526.3,220.1 526.5,220.1 526.8,220.2 527.0,220.4 527.3,220.5 527.5,220.2 527.8,220.2 528.0,220.4 528.3,220.2 528.5,220.0 528.8,220.0 529.0,220.0 529.3,219.8 529.5,220.0 529.8,220.0 530.0,220.0 530.3,220.1 530.5,220.5 530.8,220.6 531.0,220.6 531.3,220.8 531.5,220.9 531.8,220.7 532.0,220.6 532.3,220.8 532.5,221.1 532.8,221.5 533.0,221.6 533.3,222.0 533.5,221.8 533.8,221.8 534.0,221.5 534.3,221.6 534.5,221.6 534.8,221.8 535.0,221.8 535.3,222.0 535.5,221.7 535.8,221.7 536.0,221.8 536.3,221.7 536.5,221.9 536.8,222.4 537.0,222.6 537.3,222.9 537.5,223.3 537.8,223.2 538.0,223.2 538.3,223.2 538.5,223.2 538.8,223.0 539.0,223.1 539.3,223.0 539.5,223.2 539.8,222.9 540.0,222.9 540.3,222.8 540.5,223.1 540.8,223.2 541.0,223.5 541.3,223.6 541.5,223.9 541.8,223.6 542.0,223.5 542.3,223.8 542.5,224.0 542.8,224.0 543.0,224.1 543.3,224.2 543.5,224.1 543.8,224.1 544.0,224.0 544.3,224.3 544.5,223.9 544.8,224.1 545.0,224.2 545.3,224.3 545.5,224.3 545.8,224.6 546.0,224.2 546.3,224.3 546.5,224.2 546.8,224.4 547.0,224.6 547.3,225.0 547.5,225.1 547.8,225.4 548.0,225.6 548.3,225.6 548.5,225.4 548.8,225.2 549.0,225.2 549.3,225.0 549.5,225.1 549.8,225.5 550.0,225.9 550.3,226.0 550.5,225.9 550.8,226.1 551.0,226.3 551.3,225.9 551.5,226.3 551.8,226.4 552.0,226.3 552.3,225.8 552.5,225.9 552.8,225.8 553.0,225.7 553.3,225.5 553.5,226.0 553.8,226.1 554.0,225.9 554.3,226.1 554.5,226.2 554.8,226.4 555.0,226.3 555.3,226.4 555.5,226.6 555.8,226.8 556.0,226.5 556.3,226.6 556.5,226.4 556.8,226.4 557.0,226.1 557.3,225.9 557.5,225.9 557.8,226.2 558.0,226.1 558.3,226.4 558.5,226.7 558.8,226.6 559.0,226.8 559.3,226.9 559.5,227.0 559.8,227.1 560.0,227.6 560.3,227.3 560.5,227.2 560.8,227.1 561.0,226.9 561.3,227.0 561.5,227.5 561.8,227.6 562.0,227.7 562.3,227.9 562.5,227.8 562.8,227.5 563.0,227.2 563.3,227.4 563.5,227.4 563.8,227.4 564.0,227.6 564.3,227.8 564.5,228.0 564.8,227.9 565.0,227.8 565.3,227.4 565.5,227.2 565.8,227.0 566.0,227.4 566.3,227.3 566.5,227.6 566.8,228.0 567.0,227.9 567.3,227.5 567.5,227.9 567.8,227.9 568.0,227.8 568.3,227.9 568.5,228.1 568.8,228.0 569.0,228.0 569.3,228.3 569.5,228.5 569.8,228.4 570.0,228.6 570.3,228.7 570.5,228.6 570.8,228.7 571.0,229.0 571.3,229.3 571.5,229.3 571.8,229.5 572.0,229.5 572.3,229.2 572.5,229.1 572.8,229.1 573.0,229.2 573.3,229.1 573.5,229.4 573.8,229.2 574.0,229.2 574.3,228.8 574.5,229.0 574.8,229.0 575.0,229.0 575.3,229.1 575.5,229.5 575.8,229.4 576.0,229.5 576.3,229.4 576.5,229.4 576.8,229.3 577.0,229.3 577.3,229.3 577.5,229.5 577.8,229.6 578.0,229.6 578.3,229.8 578.5,230.1 578.8,230.2 579.0,230.5 579.3,230.5 579.5,230.6 579.8,230.7 580.0,231.2 580.3,230.9 580.5,230.9 580.8,230.8 581.0,230.7 581.3,230.3 581.5,230.3 581.8,230.2 582.0,230.3 582.3,230.3 582.5,230.2 582.8,230.3 583.0,230.6 583.3,230.8 583.5,231.0 583.8,231.2 584.0,231.4 584.3,231.3 584.5,231.1 584.8,231.1 585.0,230.9 585.3,230.9 585.5,231.0 585.8,231.1 586.0,231.0 586.3,231.3 586.5,231.6 586.8,231.9 587.0,232.2 587.3,232.5 587.5,232.9 587.8,233.1 588.0,233.2 588.3,233.0 588.5,232.8 588.8,232.6 589.0,232.4 589.3,232.1 589.5,232.4 589.8,232.7 590.0,232.6 590.3,232.9 590.5,233.2 590.8,233.3 591.0,233.4 591.3,234.0 591.5,234.0 591.8,234.2 592.0,234.6 592.3,234.9 592.5,235.1 592.8,235.6 593.0,235.9 593.3,236.3 593.5,236.6 593.8,237.1 594.0,237.5 594.3,238.0 594.5,238.4 594.8,239.2 595.0,239.9 595.3,240.7 595.5,241.8 595.8,243.2 596.0,244.4 596.3,246.1 596.5,248.4 596.8,251.0 597.0,254.6 597.3,259.2 597.5,261.3 597.8,257.3 598.0,253.1 598.3,250.0 598.5,247.9 598.8,246.0 599.0,244.3 599.3,243.1 599.5,242.0 599.8,241.0 600.0,240.3 600.3,239.6 600.5,239.0 600.8,238.3 601.0,237.9 601.3,237.5 601.5,237.3 601.8,237.0 602.0,236.8 602.3,236.5 602.5,236.4 602.8,236.2 603.0,236.2 603.3,236.0 603.5,235.9 603.8,235.6 604.0,235.5 604.3,235.1 604.5,235.2 604.8,235.0 605.0,235.2 605.3,235.0 605.5,235.3 605.8,235.4 606.0,235.2 606.3,235.2 606.5,235.1 606.8,234.9 607.0,234.6 607.3,234.9 607.5,235.0 607.8,235.3 608.0,235.3 608.3,235.4 608.5,235.3 608.8,235.0 609.0,234.8 609.3,235.0 609.5,235.0 609.8,235.0 610.0,235.0 610.3,235.2 610.5,235.1 610.8,234.9 611.0,235.0 611.3,235.2 611.5,235.2 611.8,235.1 612.0,235.4 612.3,235.3 612.5,235.3 612.8,235.3 613.0,235.3 613.3,235.3 613.5,235.5 613.8,235.7 614.0,235.7 614.3,236.0 614.5,236.2 614.8,236.0 615.0,236.0 615.3,236.1 615.5,236.0 615.8,236.1 616.0,236.1 616.3,236.3 616.5,236.1 616.8,236.1 617.0,236.1 617.3,236.2 617.5,236.3 617.8,236.7 618.0,236.7 618.3,237.0 618.5,237.0 618.8,236.9 619.0,236.9 619.3,237.0 619.5,236.9 619.8,237.0 620.0,237.0 620.3,237.0 620.5,236.9 620.8,236.9 621.0,236.7 621.3,236.7 621.5,236.6 621.8,236.8 622.0,237.1 622.3,237.3 622.5,237.6 622.8,237.8 623.0,237.8 623.3,237.7 623.5,237.7 623.8,237.6 624.0,237.7 624.3,237.7 624.5,237.8 624.8,237.8 625.0,237.8 625.3,237.7 625.5,237.8 625.8,237.8 626.0,237.8 626.3,238.1 626.5,238.3 626.8,238.4 627.0,238.5 627.3,238.8 627.5,238.8 627.8,238.6 628.0,238.5 628.3,238.3 628.5,238.3 628.8,238.3 629.0,238.5 629.3,238.5 629.5,238.8 629.8,238.6 630.0,238.6 630.3,238.5 630.5,238.5 630.8,238.4 631.0,238.6 631.3,238.8 631.5,238.8 631.8,238.8 632.0,239.0" fill="none" stroke="#FF0000" stroke-width="1.3" stroke-linejoin="round" stroke-linecap="round" />
<polyline points="209.3,99.1 209.6,99.4 209.8,100.2 210.1,99.4 210.3,100.0 210.6,100.5 210.8,100.7 211.1,102.1" fill="none" stroke="#FFFF00" stroke-width="1.3" stroke-linejoin="round" stroke-linecap="round" />
<polyline points="214.3,152.8 214.6,162.4 214.8,175.6 215.1,191.9 215.3,215.3 215.6,242.5 215.8,247.3 216.1,220.8" fill="none" stroke="#FFFF00" stroke-width="1.3" stroke-linejoin="round" stroke-linecap="round" />
<polyline points="226.3,95.8 226.6,95.4 226.8,96.2 227.1,95.9 227.3,95.3 227.6,96.3 227.8,97.4 228.1,98.0" fill="none" stroke="#FFFF00" stroke-width="1.3" stroke-linejoin="round" stroke-linecap="round" />
<polyline points="231.3,111.4 231.6,114.0 231.8,116.3 232.1,118.8 232.3,121.9 232.6,125.5 232.8,129.4 233.1,134.4" fill="none" stroke="#FFFF00" stroke-width="1.3" stroke-linejoin="round" stroke-linecap="round" />
<polyline points="272.3,167.1 272.6,162.9 272.8,157.9 273.1,155.1 273.3,152.0 273.6,149.7 273.8,146.6 274.1,145.7" fill="none" stroke="#FFFF00" stroke-width="1.3" stroke-linejoin="round" stroke-linecap="round" />
<polyline points="434.3,196.2 434.6,196.3 434.8,196.2 435.1,196.2 435.3,196.2 435.6,196.2 435.8,196.1 436.1,195.9 436.3,195.8 436.6,195.7 436.8,196.0 437.1,196.3" fill="none" stroke="#FFFF00" stroke-width="1.3" stroke-linejoin="round" stroke-linecap="round" />
<polyline points="451.3,200.9 451.6,200.9 451.8,200.6 452.1,201.1 452.3,201.3 452.6,201.0 452.8,201.0 453.1,201.3 453.3,201.6 453.6,201.5 453.8,201.5 454.1,201.8" fill="none" stroke="#FFFF00" stroke-width="1.3" stroke-linejoin="round" stroke-linecap="round" />
<polyline points="477.3,207.1 477.6,206.8 477.8,206.9 478.1,207.4 478.3,207.3 478.6,207.4 478.8,208.0 479.1,208.2 479.3,208.2 479.6,208.5 479.8,208.3 480.1,208.5 480.3,208.5 480.6,208.6 480.8,208.7 481.1,208.7 481.3,208.2 481.6,207.8 481.8,207.6 482.1,207.7 482.3,208.0 482.6,208.2 482.8,208.5 483.1,208.5 483.3,208.6 483.6,208.6 483.8,208.5 484.1,208.7 484.3,209.0 484.6,209.0 484.8,208.9 485.1,209.1 485.3,209.2 485.6,209.0 485.8,209.2 486.1,209.3 486.3,209.4 486.6,208.8 486.8,209.5 487.1,209.4 487.3,209.3 487.6,209.3 487.8,209.8 488.1,209.5 488.3,209.7 488.6,210.0 488.8,210.4 489.1,210.7 489.3,210.7 489.6,210.6 489.8,210.5 490.1,210.4 490.3,210.3 490.6,210.5 490.8,210.9 491.1,210.8 491.3,211.0 491.6,210.9 491.8,210.9 492.1,210.5" fill="none" stroke="#FFFF00" stroke-width="1.3" stroke-linejoin="round" stroke-linecap="round" />
<polyline points="497.3,212.4 497.6,212.5 497.8,212.9 498.1,212.9 498.3,213.0 498.6,213.3 498.8,213.4 499.1,213.8 499.3,213.9 499.6,214.1 499.8,214.0 500.1,213.9 500.3,214.0 500.6,213.9 500.8,214.0 501.1,213.9" fill="none" stroke="#FFFF00" stroke-width="1.3" stroke-linejoin="round" stroke-linecap="round" />
<polyline points="558.3,226.4 558.5,226.7 558.8,226.6 559.0,226.8 559.3,226.9 559.5,227.0 559.8,227.1 560.0,227.6" fill="none" stroke="#FFFF00" stroke-width="1.3" stroke-linejoin="round" stroke-linecap="round" />
<polyline points="567.3,227.5 567.5,227.9 567.8,227.9 568.0,227.8 568.3,227.9 568.5,228.1 568.8,228.0 569.0,228.0 569.3,228.3 569.5,228.5 569.8,228.4 570.0,228.6" fill="none" stroke="#FFFF00" stroke-width="1.3" stroke-linejoin="round" stroke-linecap="round" />
<polyline points="616.3,236.3 616.5,236.1 616.8,236.1 617.0,236.1 617.3,236.2 617.5,236.3 617.8,236.7 618.0,236.7 618.3,237.0 618.5,237.0 618.8,236.9 619.0,236.9 619.3,237.0 619.5,236.9 619.8,237.0 620.0,237.0" fill="none" stroke="#FFFF00" stroke-width="1.3" stroke-linejoin="round" stroke-linecap="round" />
<polyline points="191.3,268.0 192.3,267.9 193.3,267.8 194.3,267.6 195.3,267.4 196.3,267.1 197.3,266.7 198.3,266.3 199.3,265.8 200.3,265.4 201.3,264.9 202.3,264.5 203.3,264.0 204.3,263.4 205.3,262.8 206.3,262.1 207.3,261.3 208.3,260.5 209.3,259.7 210.3,258.8 211.3,257.8 212.3,256.8 213.3,255.8 214.3,254.7 215.3,253.7 216.3,252.5 217.3,251.3 218.3,250.2 219.3,249.2 220.3,248.3 221.3,247.6 222.3,247.0 223.3,246.4 224.3,245.9 225.3,245.3 226.3,244.8 227.3,244.3 228.3,243.8 229.3,243.3 230.3,242.9 231.3,242.5 232.3,242.2 233.3,242.0 234.3,241.7 235.3,241.5 236.3,241.3 237.3,241.1 238.3,240.8 239.3,240.5 240.3,240.3 241.3,240.1 242.3,239.8 243.3,239.6 244.3,239.4 245.3,239.1 246.3,238.9 247.3,238.6 248.3,238.4 249.3,238.2 250.3,237.9 251.3,237.7 252.3,237.4 253.3,237.2 254.3,237.0 255.3,236.7 256.3,236.5 257.3,236.2 258.3,236.0 259.3,235.7 260.3,235.4 261.3,235.1 262.3,234.8 263.3,234.5 264.3,234.1 265.3,233.8 266.3,233.4 267.3,233.0 268.3,232.7 269.3,232.3 270.3,232.0 271.3,231.6 272.3,231.3 273.3,231.0 274.3,230.7 275.3,230.4 276.3,230.2 277.3,230.0 278.3,229.8 279.3,229.6 280.3,229.4 281.3,229.2 282.3,229.1 283.3,228.9 284.3,228.7 285.3,228.5 286.3,228.4 287.3,228.2 288.3,227.9 289.3,227.7 290.3,227.4 291.3,227.1 292.3,226.8 293.3,226.5 294.3,226.2 295.3,225.9 296.3,225.5 297.3,225.2 298.3,224.8 299.3,224.5 300.3,224.1 301.3,223.7 302.3,223.3 303.3,222.9 304.3,222.4 305.3,222.0 306.3,221.6 307.3,221.1 308.3,220.7 309.3,220.2 310.3,219.8 311.3,219.3 312.3,218.9 313.3,218.4 314.3,218.0 315.3,217.5 316.3,217.1 317.3,216.6 318.3,216.2 319.3,215.7 320.3,215.2 321.3,214.8 322.3,214.3 323.3,213.8 324.3,213.3 325.3,212.9 326.3,212.3 327.3,211.8 328.3,211.3 329.3,210.7 330.3,210.2 331.3,209.6 332.3,209.1 333.3,208.5 334.3,208.0 335.3,207.5 336.3,207.0 337.3,206.6 338.3,206.2 339.3,205.8 340.3,205.4 341.3,205.0 342.3,204.6 343.3,204.3 344.3,204.0 345.3,203.7 346.3,203.4 347.3,203.1 348.3,202.9 349.3,202.6 350.3,202.4 351.3,202.3 352.3,202.1 353.3,202.0 354.3,201.9 355.3,201.8 356.3,201.8 357.3,201.7 358.3,201.7 359.3,201.6 360.3,201.6 361.3,201.5 362.3,201.5 363.3,201.4 364.3,201.4 365.3,201.3 366.3,201.3 367.3,201.3 368.3,201.3 369.3,201.2 370.3,201.2 371.3,201.2 372.3,201.1 373.3,201.1 374.3,201.0 375.3,201.0 376.3,200.9 377.3,200.9 378.3,200.8 379.3,200.7 380.3,200.7 381.3,200.6 382.3,200.5 383.3,200.4 384.3,200.3 385.3,200.3 386.3,200.2 387.3,200.1 388.3,200.0 389.3,199.9 390.3,199.8 391.3,199.7 392.3,199.6 393.3,199.4 394.3,199.3 395.3,199.2 396.3,199.1 397.3,198.9 398.3,198.8 399.3,198.6 400.3,198.5 401.3,198.3 402.3,198.1 403.3,197.9 404.3,197.7 405.3,197.5 406.3,197.3 407.3,197.1 408.3,196.8 409.3,196.6 410.3,196.4 411.3,196.1 412.3,195.9 413.3,195.6 414.3,195.4 415.3,195.1 416.3,194.9 417.3,194.7 418.3,194.4 419.3,194.2 420.3,194.0 421.3,193.8 422.3,193.5 423.3,193.3 424.3,193.1 425.3,192.9 426.3,192.8 427.3,192.6 428.3,192.4 429.3,192.3 430.3,192.1 431.3,191.9 432.3,191.8 433.3,191.6 434.3,191.5 435.3,191.4 436.3,191.2 437.3,191.1 438.3,190.9 439.3,190.8 440.3,190.7 441.3,190.5 442.3,190.4 443.3,190.2 444.3,190.1 445.3,189.9 446.3,189.8 447.3,189.6 448.3,189.5 449.3,189.3 450.3,189.1 451.3,189.0 452.3,188.8 453.3,188.6 454.3,188.5 455.3,188.3 456.3,188.1 457.3,188.0 458.3,187.8 459.3,187.6 460.3,187.4 461.3,187.2 462.3,187.0 463.3,186.8 464.3,186.6 465.3,186.4 466.3,186.2 467.3,186.0 468.3,185.9 469.3,185.7 470.3,185.5 471.3,185.2 472.3,185.0 473.3,184.7 474.3,184.4 475.3,184.1 476.3,183.7 477.3,183.3 478.3,182.8 479.3,182.3 480.3,181.8 481.3,181.2 482.3,180.7 483.3,180.1 484.3,179.6 485.3,179.1 486.3,178.6 487.3,178.1 488.3,177.6 489.3,177.2 490.3,176.8 491.3,176.4 492.3,176.0 493.3,175.6 494.3,175.2 495.3,174.8 496.3,174.4 497.3,174.0 498.3,173.6 499.3,173.3 500.3,172.9 501.3,172.5 502.3,172.1 503.3,171.7 504.3,171.3 505.3,170.8 506.3,170.4 507.3,170.1 508.3,169.7 509.3,169.4 510.3,169.0 511.3,168.8 512.3,168.5 513.3,168.4 514.3,168.2 515.3,168.1 516.3,168.0 517.3,168.0 518.3,168.0 519.3,168.0 520.3,168.0 521.3,168.0 522.3,168.0 523.3,168.0 524.3,168.0 525.3,168.0 526.3,168.0 527.3,168.0 528.3,168.0 529.3,168.1 530.3,168.1 531.3,168.1 532.3,168.2 533.3,168.2 534.3,168.2 535.3,168.1 536.3,168.1 537.3,168.0 538.3,167.9 539.3,167.8 540.3,167.6 541.3,167.5 542.3,167.3 543.3,167.1 544.3,166.9 545.3,166.7 546.3,166.5 547.3,166.2 548.3,166.0 549.3,165.7 550.3,165.4 551.3,165.1 552.3,164.8 553.3,164.5 554.3,164.2 555.3,163.8 556.3,163.5 557.3,163.1 558.3,162.7 559.3,162.3 560.3,161.9 561.3,161.5 562.3,161.1 563.3,160.6 564.3,160.2 565.3,159.6 566.3,159.1 567.3,158.6 568.3,158.0 569.3,157.4 570.3,156.9 571.3,156.3 572.3,155.8 573.3,155.3 574.3,154.8 575.3,154.4 576.3,153.9 577.3,153.5 578.3,153.1 579.3,152.7 580.3,152.3 581.3,151.9 582.3,151.6 583.3,151.2 584.3,150.9 585.3,150.6 586.3,150.3 587.3,150.1 588.3,149.8 589.3,149.6 590.3,149.4 591.3,149.2 592.3,149.0 593.3,148.9 594.3,148.8 595.3,148.6 596.3,148.5 597.3,148.4 598.3,148.3 599.3,148.3 600.3,148.2 601.3,148.1 602.3,148.0 603.3,148.0 604.3,148.0 605.3,148.0 606.3,148.0 607.3,148.0 608.3,148.0 609.3,148.0 610.3,148.0 611.3,148.0 612.3,148.0 613.3,148.0 614.3,148.0 615.3,148.0 616.3,148.0 617.3,148.0 618.3,148.0 619.3,148.0 620.3,148.0 621.3,148.0 622.3,148.0 623.3,148.0 624.3,148.0 625.3,148.0 626.3,148.0 627.3,148.0 628.3,148.0 629.3,148.0 630.3,148.0 631.3,148.0" fill="none" stroke="#007DFF" stroke-width="2.2" stroke-linejoin="round" stroke-linecap="round" />
<polyline points="190.5,299.2 190.7,301.4 190.8,301.2 191.0,301.2 191.1,301.5 191.3,299.4 191.4,302.2 191.6,300.8 191.7,301.5 191.9,304.2 192.0,300.3 192.2,305.0 192.3,305.1 192.5,301.8 192.6,303.6 192.8,306.7 192.9,306.3 193.1,302.9 193.2,298.6 193.4,303.6 193.5,299.4 193.7,304.1 193.8,299.2 194.0,303.1 194.1,301.6 194.3,300.4 194.4,299.0 194.6,298.8 194.7,301.5 194.9,299.2 195.0,304.2 195.2,301.5 195.3,303.6 195.5,301.6 195.6,303.3 195.8,303.8 195.9,306.5 196.1,304.3 196.2,306.7 196.4,303.1 196.5,304.9 196.7,301.9 196.8,305.1 197.0,299.6 197.1,304.3 197.3,300.9 197.4,300.9 197.6,300.3 197.7,301.3 197.9,300.0 198.0,300.0 198.2,305.0 198.3,298.9 198.5,301.1 198.6,299.2 198.8,300.4 198.9,300.4 199.1,299.9 199.2,296.7 199.4,300.5 199.5,297.8 199.7,296.1 199.8,301.9 200.0,296.3 200.1,295.6 200.3,292.0 200.4,295.9 200.6,292.5 200.7,294.2 200.9,297.1 201.0,290.5 201.2,295.0 201.3,296.9 201.5,293.3 201.6,297.3 201.8,296.8 201.9,295.6 202.1,295.9 202.2,298.9 202.4,298.5 202.5,297.4 202.7,297.2 202.8,294.8 203.0,298.0 203.1,296.0 203.3,298.7 203.4,297.7 203.6,299.5 203.7,293.1 203.9,299.3 204.0,296.8 204.2,297.6 204.3,294.8 204.5,296.8 204.6,298.7 204.8,293.1 204.9,295.0 205.1,296.8 205.2,298.8 205.4,298.6 205.5,298.9 205.7,300.1 205.8,300.2 206.0,302.2 206.1,302.4 206.3,301.4 206.4,300.0 206.6,300.1 206.7,299.4 206.9,299.0 207.0,301.6 207.2,300.9 207.3,301.3 207.5,302.9 207.6,299.3 207.8,302.6 207.9,301.6 208.1,300.9 208.2,302.6 208.4,302.5 208.5,300.5 208.7,301.4 208.8,303.5 209.0,305.8 209.1,308.8 209.3,312.0 209.4,319.1 209.6,325.0 209.7,336.3 209.9,340.6 210.0,345.6 210.2,355.0 210.3,358.5 210.5,358.7 210.6,362.0 210.8,357.2 210.9,352.0 211.1,342.3 211.2,334.6 211.4,328.6 211.5,321.9 211.7,316.6 211.8,311.6 212.0,309.9 212.1,305.1 212.3,301.7 212.4,301.3 212.6,302.2 212.7,301.5 212.9,298.9 213.0,297.8 213.2,299.1 213.3,301.7 213.5,300.1 213.6,299.8 213.8,300.4 213.9,303.7 214.1,301.7 214.2,304.0 214.4,304.0 214.5,305.2 214.7,307.5 214.8,305.9 215.0,309.1 215.1,308.2 215.3,308.9 215.4,310.0 215.6,305.7 215.7,310.8 215.9,309.2 216.0,309.1 216.2,308.2 216.3,305.4 216.5,307.7 216.6,304.6 216.8,303.1 216.9,303.0 217.1,302.0 217.2,301.8 217.4,303.9 217.5,302.8 217.7,301.0 217.8,300.1 218.0,302.1 218.1,303.1 218.3,301.4 218.4,298.9 218.6,303.6 218.7,301.7 218.9,302.0 219.0,302.2 219.2,301.2 219.3,304.5 219.5,300.6 219.6,299.5 219.8,301.8 219.9,301.3 220.1,302.8 220.2,300.3 220.4,300.5 220.5,301.1 220.7,299.5 220.8,300.3 221.0,299.7 221.1,304.3 221.3,298.5 221.4,300.4 221.6,302.2 221.7,300.1 221.9,300.1 222.0,302.1 222.2,301.9 222.3,301.7 222.5,302.5 222.6,299.7 222.8,298.2 222.9,298.9 223.1,301.6 223.2,301.1 223.4,299.0 223.5,300.8 223.7,300.0 223.8,299.1 224.0,301.4 224.1,299.0 224.3,297.7 224.4,301.9 224.6,300.8 224.7,299.3 224.9,301.9 225.0,302.0 225.2,299.4 225.3,300.9 225.5,300.7 225.6,301.5 225.8,300.2 225.9,297.6 226.1,303.0 226.2,299.4 226.4,300.2 226.5,298.5 226.7,298.1 226.8,297.3 227.0,302.1 227.1,300.4 227.3,300.8 227.4,298.6 227.6,300.0 227.7,299.3 227.9,299.9 228.0,300.5 228.2,300.9 228.3,302.6 228.5,302.0 228.6,302.4 228.8,299.0 228.9,300.7 229.1,300.0 229.2,300.2 229.4,302.7 229.5,300.1 229.7,300.5 229.8,300.4 230.0,300.9 230.1,300.9 230.3,301.7 230.4,303.0 230.6,303.5 230.7,299.0 230.9,301.5 231.0,299.6 231.2,301.2 231.3,300.8 231.5,302.3 231.6,299.8 231.8,301.5 231.9,297.6 232.1,298.8 232.2,303.0 232.4,302.2 232.5,299.4 232.7,302.3 232.8,302.5 233.0,302.3 233.1,302.4 233.3,301.1 233.4,300.0 233.6,304.2 233.7,302.7 233.9,303.4 234.0,304.2 234.2,302.2 234.3,304.5 234.5,302.8 234.6,303.4 234.8,304.5 234.9,303.1 235.1,303.5 235.2,307.2 235.4,304.8 235.5,302.5 235.7,307.8 235.8,304.6 236.0,307.0 236.1,305.0 236.3,303.6 236.4,306.4 236.6,309.2 236.7,304.5 236.9,304.2 237.0,306.1 237.2,305.6 237.3,301.7 237.5,306.5 237.6,305.1 237.8,302.2 237.9,301.9 238.1,303.5 238.2,304.9 238.4,301.1 238.5,303.2 238.7,300.1 238.8,302.8 239.0,301.4 239.1,300.5 239.3,300.5 239.4,302.9 239.6,300.2 239.7,301.1 239.9,305.1 240.0,301.1 240.2,300.8 240.3,299.2 240.5,300.6 240.6,304.3 240.8,302.8 240.9,305.7 241.1,305.4 241.2,304.8 241.4,304.0 241.5,302.6 241.7,305.4 241.8,303.4 242.0,302.3 242.1,305.4 242.3,306.2 242.4,306.0 242.6,302.4 242.7,305.0 242.9,304.8 243.0,302.4 243.2,300.7 243.3,302.2 243.5,300.5 243.6,299.2 243.8,302.9 243.9,297.8 244.1,302.5 244.2,299.9 244.4,300.0 244.5,300.1 244.7,298.1 244.8,298.1 245.0,298.6 245.1,299.9 245.3,298.8 245.4,300.8 245.6,299.7 245.7,297.6 245.9,299.0 246.0,299.8 246.2,298.8 246.3,300.6 246.5,302.1 246.6,300.8 246.8,300.8 246.9,299.5 247.1,301.1 247.2,301.1 247.4,301.3 247.5,300.7 247.7,302.0 247.8,301.9 248.0,301.1 248.1,298.5 248.3,301.1 248.4,301.5 248.6,301.7 248.7,302.7 248.9,305.2 249.0,301.9 249.2,300.9 249.3,299.9 249.5,303.8 249.6,300.7 249.8,299.6 249.9,298.9 250.1,302.5 250.2,300.4 250.4,301.8 250.5,301.5 250.7,303.0 250.8,299.9 251.0,302.7 251.1,299.3 251.3,300.4 251.4,302.1 251.6,297.4 251.7,299.2 251.9,303.0 252.0,300.4 252.2,299.5 252.3,301.7 252.5,299.5 252.6,299.7 252.8,300.9 252.9,300.1 253.1,299.7 253.2,301.3 253.4,301.1 253.5,302.0 253.7,299.3 253.8,297.9 254.0,301.1 254.1,300.4 254.3,302.5 254.4,300.8 254.6,299.6 254.7,300.7 254.9,300.0 255.0,300.0 255.2,300.1 255.3,300.2 255.5,302.5 255.6,302.8 255.8,301.1 255.9,300.2 256.1,301.1 256.2,299.5 256.4,300.2 256.5,305.8 256.7,300.9 256.8,301.5 257.0,301.3 257.1,300.0 257.3,299.5 257.4,303.3 257.6,304.2 257.7,301.2 257.9,300.1 258.0,300.8 258.2,299.8 258.3,300.3 258.5,299.9 258.6,300.0 258.8,298.6 258.9,300.1 259.1,299.5 259.2,299.6 259.4,301.6 259.5,300.2 259.7,301.5 259.8,299.5 260.0,299.0 260.1,300.4 260.3,298.3 260.4,300.4 260.6,299.0 260.7,304.0 260.9,301.1 261.0,296.2 261.2,300.2 261.3,302.0 261.5,299.9 261.6,300.8 261.8,301.8 261.9,302.1 262.1,301.5 262.2,301.3 262.4,301.3 262.5,299.0 262.7,301.1 262.8,301.3 263.0,297.8 263.1,301.9 263.3,302.1 263.4,300.2 263.6,301.4 263.7,301.4 263.9,301.1 264.0,301.1 264.2,299.3 264.3,300.8 264.5,301.5 264.6,298.1 264.8,301.1 264.9,297.5 265.1,301.7 265.2,301.0 265.4,299.3 265.5,300.7 265.7,299.5 265.8,299.0 266.0,299.6 266.1,300.2 266.3,298.8 266.4,299.3 266.6,299.0 266.7,299.4 266.9,298.5 267.0,298.6 267.2,301.2 267.3,301.9 267.5,299.2 267.6,299.9 267.8,300.1 267.9,299.1 268.1,299.8 268.2,297.6 268.4,301.2 268.5,299.7 268.7,300.3 268.8,301.3 269.0,295.6 269.1,301.0 269.3,299.6 269.4,298.1 269.6,301.2 269.7,301.5 269.9,299.2 270.0,302.1 270.2,298.5 270.3,301.8 270.5,298.8 270.6,300.5 270.8,300.2 270.9,302.6 271.1,302.3 271.2,304.5 271.4,302.6 271.5,304.9 271.7,304.9 271.8,304.4 272.0,304.0 272.1,301.1 272.3,303.8 272.4,305.1 272.6,301.3 272.7,301.7 272.9,300.8 273.0,302.3 273.2,304.9 273.3,304.6 273.5,300.6 273.6,300.0 273.8,298.8 273.9,300.9 274.1,301.0 274.2,301.4 274.4,302.4 274.5,303.3 274.7,301.0 274.8,301.5 275.0,300.1 275.1,301.3 275.3,301.6 275.4,302.2 275.6,302.9 275.7,300.9 275.9,302.7 276.0,301.1 276.2,300.9 276.3,300.3 276.5,303.6 276.6,302.3 276.8,302.9 276.9,301.8 277.1,302.1 277.2,301.0 277.4,302.2 277.5,302.0 277.7,300.9 277.8,302.2 278.0,299.3 278.1,301.6 278.3,301.6 278.4,301.3 278.6,302.8 278.7,301.4 278.9,301.0 279.0,301.2 279.2,301.3 279.3,300.2 279.5,300.6 279.6,301.5 279.8,301.1 279.9,302.7 280.1,300.1 280.2,300.2 280.4,300.9 280.5,301.3 280.7,300.0 280.8,302.2 281.0,299.0 281.1,302.1 281.3,300.0 281.4,300.1 281.6,299.8 281.7,299.2 281.9,300.0 282.0,299.7 282.2,298.9 282.3,299.4 282.5,298.5 282.6,300.6 282.8,300.1 282.9,301.9 283.1,299.8 283.2,300.6 283.4,300.2 283.5,298.2 283.7,300.7 283.8,299.9 284.0,299.1 284.1,299.9 284.3,301.9 284.4,299.1 284.6,301.1 284.7,299.7 284.9,300.0 285.0,300.7 285.2,300.4 285.3,302.4 285.5,298.4 285.6,300.3 285.8,299.7 285.9,301.8 286.1,300.1 286.2,299.2 286.4,300.1 286.5,300.0 286.7,299.7 286.8,298.8 287.0,301.2 287.1,300.4 287.3,300.2 287.4,300.5 287.6,301.6 287.7,300.5 287.9,300.0 288.0,301.1 288.2,300.0 288.3,299.7 288.5,301.1 288.6,301.7 288.8,301.0 288.9,297.1 289.1,301.8 289.2,301.7 289.4,301.9 289.5,303.0 289.7,304.4 289.8,303.8 290.0,304.6 290.1,305.3 290.3,305.2 290.4,305.3 290.6,305.7 290.7,305.9 290.9,305.6 291.0,304.2 291.2,303.3 291.3,303.2 291.5,304.6 291.6,301.3 291.8,304.5 291.9,303.2 292.1,303.1 292.2,301.5 292.4,300.5 292.5,301.9 292.7,300.6 292.8,301.2 293.0,300.5 293.1,301.3 293.3,299.6 293.4,300.7 293.6,299.5 293.7,300.5 293.9,300.0 294.0,302.6 294.2,301.2 294.3,299.2 294.5,300.1 294.6,301.0 294.8,299.8 294.9,300.6 295.1,298.8 295.2,297.5 295.4,300.2 295.5,299.3 295.7,299.1 295.8,300.4 296.0,299.2 296.1,298.8 296.3,300.4 296.4,300.9 296.6,301.6 296.7,298.3 296.9,300.7 297.0,300.7 297.2,301.9 297.3,299.2 297.5,301.2 297.6,300.3 297.8,300.4 297.9,299.7 298.1,301.7 298.2,300.0 298.4,300.8 298.5,300.6 298.7,300.6 298.8,302.1 299.0,300.1 299.1,300.5 299.3,300.6 299.4,301.4 299.6,300.6 299.7,299.9 299.9,300.1 300.0,300.7 300.2,300.5 300.3,300.2 300.5,298.0 300.6,301.9 300.8,298.7 300.9,299.1 301.1,299.3 301.2,298.9 301.4,299.0 301.5,299.8 301.7,301.1 301.8,301.6 302.0,302.6 302.1,300.9 302.3,300.4 302.4,302.2 302.6,302.4 302.7,302.3 302.9,302.1 303.0,301.5 303.2,303.3 303.3,302.7 303.5,301.6 303.6,301.2 303.8,303.5 303.9,302.3 304.1,301.5 304.2,301.9 304.4,301.5 304.5,301.2 304.7,301.3 304.8,301.4 305.0,298.9 305.1,300.0 305.3,299.8 305.4,300.7 305.6,299.1 305.7,299.5 305.9,300.7 306.0,300.2 306.2,302.3 306.3,300.2 306.5,299.4 306.6,300.0 306.8,300.0 306.9,300.5 307.1,300.5 307.2,299.7 307.4,301.2 307.5,300.5 307.7,302.8 307.8,301.1 308.0,301.1 308.1,302.3 308.3,302.5 308.4,300.6 308.6,299.2 308.7,302.1 308.9,301.0 309.0,301.3 309.2,302.3 309.3,300.1 309.5,299.3 309.6,299.1 309.8,299.4 309.9,302.4 310.1,302.6 310.2,300.5 310.4,301.2 310.5,301.6 310.7,300.4 310.8,299.9 311.0,300.7 311.1,300.4 311.3,299.5 311.4,301.5 311.6,301.1 311.7,300.3 311.9,301.6 312.0,299.9 312.2,299.2 312.3,298.1 312.5,297.9 312.6,300.0 312.8,299.7 312.9,299.3 313.1,300.5 313.2,298.1 313.4,301.2 313.5,299.9 313.7,299.1 313.8,300.0 314.0,299.1 314.1,302.2 314.3,301.1 314.4,300.6 314.6,302.4 314.7,300.5 314.9,301.9 315.0,301.3 315.2,301.5 315.3,299.5 315.5,301.1 315.6,299.9 315.8,302.2 315.9,300.9 316.1,301.0 316.2,300.9 316.4,300.1 316.5,299.6 316.7,298.5 316.8,299.4 317.0,299.6 317.1,300.1 317.3,301.6 317.4,300.0 317.6,297.8 317.7,299.5 317.9,301.2 318.0,299.7 318.2,299.0 318.3,299.7 318.5,302.4 318.6,301.5 318.8,299.0 318.9,298.9 319.1,299.5 319.2,302.0 319.4,300.0 319.5,299.9 319.7,300.1 319.8,299.4 320.0,300.2 320.1,301.3 320.3,300.1 320.4,301.6 320.6,298.9 320.7,298.8 320.9,300.8 321.0,299.0 321.2,300.2 321.3,301.1 321.5,302.0 321.6,298.8 321.8,300.3 321.9,298.9 322.1,299.9 322.2,301.7 322.4,298.5 322.5,298.1 322.7,300.8 322.8,299.9 323.0,299.8 323.1,300.2 323.3,298.6 323.4,301.6 323.6,301.2 323.7,301.3 323.9,301.3 324.0,301.0 324.2,300.4 324.3,301.4 324.5,300.2 324.6,301.5 324.8,300.2 324.9,302.9 325.1,299.8 325.2,300.4 325.4,301.4 325.5,299.9 325.7,300.0 325.8,298.9 326.0,300.8 326.1,299.0 326.3,301.8 326.4,302.0 326.6,299.8 326.7,301.2 326.9,301.4 327.0,301.1 327.2,300.2 327.3,301.7 327.5,301.9 327.6,299.5 327.8,300.3 327.9,300.9 328.1,301.8 328.2,301.3 328.4,298.8 328.5,301.1 328.7,301.1 328.8,300.2 329.0,302.2 329.1,299.4 329.3,301.4 329.4,299.9 329.6,299.1 329.7,302.0 329.9,300.5 330.0,299.9 330.2,301.7 330.3,300.2 330.5,301.5 330.6,300.4 330.8,303.0 330.9,301.2 331.1,300.9 331.2,300.0 331.4,300.5 331.5,301.8 331.7,299.6 331.8,302.1 332.0,299.6 332.1,300.1 332.3,300.0 332.4,301.3 332.6,299.5 332.7,299.7 332.9,298.5 333.0,301.4 333.2,301.3 333.3,300.5 333.5,299.6 333.6,301.1 333.8,300.8 333.9,302.2 334.1,300.5 334.2,299.3 334.4,300.4 334.5,300.2 334.7,298.9 334.8,301.1 335.0,300.1 335.1,301.2 335.3,300.1 335.4,299.6 335.6,301.0 335.7,300.2 335.9,299.7 336.0,298.9 336.2,300.4 336.3,299.5 336.5,299.6 336.6,301.1 336.8,300.1 336.9,300.2 337.1,299.4 337.2,300.0 337.4,299.2 337.5,302.1 337.7,301.2 337.8,301.9 338.0,300.5 338.1,299.3 338.3,299.3 338.4,300.3 338.6,301.1 338.7,299.6 338.9,300.4 339.0,299.6 339.2,299.6 339.3,298.5 339.5,301.2 339.6,298.3 339.8,301.0 339.9,301.2 340.1,298.8 340.2,300.6 340.4,299.4 340.5,299.7 340.7,299.7 340.8,300.0 341.0,297.3 341.1,300.8 341.3,300.1 341.4,299.6 341.6,299.8 341.7,300.8 341.9,299.9 342.0,298.8 342.2,299.4 342.3,301.0 342.5,299.8 342.6,299.2 342.8,297.8 342.9,300.9 343.1,300.0 343.2,301.4 343.4,300.3 343.5,297.8 343.7,300.0 343.8,298.7 344.0,299.1 344.1,300.8 344.3,299.0 344.4,300.7 344.6,300.8 344.7,300.0 344.9,299.5 345.0,299.4 345.2,300.4 345.3,300.0 345.5,299.6 345.6,300.8 345.8,300.5 345.9,298.9 346.1,301.5 346.2,301.2 346.4,300.6 346.5,299.1 346.7,299.8 346.8,300.0 347.0,300.4 347.1,300.2 347.3,299.6 347.4,301.0 347.6,300.3 347.7,299.4 347.9,300.3 348.0,299.2 348.2,302.1 348.3,300.5 348.5,302.3 348.6,299.6 348.8,301.0 348.9,299.9 349.1,299.5 349.2,302.0 349.4,302.5 349.5,301.1 349.7,301.2 349.8,300.7 350.0,299.9 350.1,301.3 350.3,300.1 350.4,299.3 350.6,300.6 350.7,301.3 350.9,300.2 351.0,301.6 351.2,302.5 351.3,302.2 351.5,301.6 351.6,301.2 351.8,301.7 351.9,299.7 352.1,299.3 352.2,301.4 352.4,299.8 352.5,301.1 352.7,299.1 352.8,300.6 353.0,301.2 353.1,300.0 353.3,300.8 353.4,300.4 353.6,301.0 353.7,301.3 353.9,299.7 354.0,300.7 354.2,300.7 354.3,300.2 354.5,300.2 354.6,300.8 354.8,299.6 354.9,301.1 355.1,299.5 355.2,299.4 355.4,299.4 355.5,300.9 355.7,300.7 355.8,301.4 356.0,301.1 356.1,300.1 356.3,301.2 356.4,301.3 356.6,300.8 356.7,300.0 356.9,300.0 357.0,300.5 357.2,300.7 357.3,299.3 357.5,300.6 357.6,299.3 357.8,300.0 357.9,301.1 358.1,301.4 358.2,299.8 358.4,299.2 358.5,298.7 358.7,300.8 358.8,299.6 359.0,300.3 359.1,302.1 359.3,301.0 359.4,299.6 359.6,300.9 359.7,301.4 359.9,300.0 360.0,298.5 360.2,299.7 360.3,300.8 360.5,299.7 360.6,301.3 360.8,301.4 360.9,300.7 361.1,299.9 361.2,300.9 361.4,299.9 361.5,299.6 361.7,300.1 361.8,299.0 362.0,301.9 362.1,300.7 362.3,300.7 362.4,300.1 362.6,300.8 362.7,302.1 362.9,300.4 363.0,301.9 363.2,301.5 363.3,300.3 363.5,300.0 363.6,301.2 363.8,301.5 363.9,302.2 364.1,300.2 364.2,300.4 364.4,301.0 364.5,299.6 364.7,300.3 364.8,300.9 365.0,301.1 365.1,299.8 365.3,299.4 365.4,301.7 365.6,300.1 365.7,300.5 365.9,300.2 366.0,299.3 366.2,300.4 366.3,301.4 366.5,299.8 366.6,300.1 366.8,299.4 366.9,301.1 367.1,300.6 367.2,299.9 367.4,300.5 367.5,301.6 367.7,301.3 367.8,301.6 368.0,298.6 368.1,300.8 368.3,299.8 368.4,299.5 368.6,300.5 368.7,300.7 368.9,299.8 369.0,300.7 369.2,301.8 369.3,301.0 369.5,300.3 369.6,302.1 369.8,301.4 369.9,300.2 370.1,300.7 370.2,297.9 370.4,299.8 370.5,300.4 370.7,299.9 370.8,299.7 371.0,298.5 371.1,299.9 371.3,298.9 371.4,298.8 371.6,299.9 371.7,300.1 371.9,300.8 372.0,301.0 372.2,299.8 372.3,301.0 372.5,300.3 372.6,300.4 372.8,299.7 372.9,299.9 373.1,300.3 373.2,299.8 373.4,299.0 373.5,300.6 373.7,299.7 373.8,300.5 374.0,299.6 374.1,299.4 374.3,301.0 374.4,300.7 374.6,300.0 374.7,298.5 374.9,299.5 375.0,300.0 375.2,301.1 375.3,300.6 375.5,301.1 375.6,299.7 375.8,301.6 375.9,299.9 376.1,300.2 376.2,300.7 376.4,301.0 376.5,299.9 376.7,300.2 376.8,299.6 377.0,300.1 377.1,300.7 377.3,301.0 377.4,300.5 377.6,301.2 377.7,300.2 377.9,302.6 378.0,300.2 378.2,300.6 378.3,302.1 378.5,299.3 378.6,301.3 378.8,301.7 378.9,301.3 379.1,302.3 379.2,300.3 379.4,301.3 379.5,301.2 379.7,300.3 379.8,300.3 380.0,301.9 380.1,300.7 380.3,300.0 380.4,302.7 380.6,300.6 380.7,300.3 380.9,302.1 381.0,299.4 381.2,300.0 381.3,301.5 381.5,300.6 381.6,302.6 381.8,302.0 381.9,300.5 382.1,301.1 382.2,300.7 382.4,301.5 382.5,301.7 382.7,300.4 382.8,300.5 383.0,302.2 383.1,300.9 383.3,301.7 383.4,300.5 383.6,300.2 383.7,300.7 383.9,300.6 384.0,300.7 384.2,299.7 384.3,300.1 384.5,301.3 384.6,299.3 384.8,300.2 384.9,300.2 385.1,300.5 385.2,299.6 385.4,300.2 385.5,300.4 385.7,299.8 385.8,301.2 386.0,300.7 386.1,298.9 386.3,301.0 386.4,300.2 386.6,299.8 386.7,301.1 386.9,298.5 387.0,299.4 387.2,299.7 387.3,300.3 387.5,298.6 387.6,300.5 387.8,299.1 387.9,300.2 388.1,299.9 388.2,299.0 388.4,299.0 388.5,298.4 388.7,299.9 388.8,299.8 389.0,300.5 389.1,300.8 389.3,300.3 389.4,301.3 389.6,299.2 389.7,300.1 389.9,300.4 390.0,299.9 390.2,301.5 390.3,300.8 390.5,301.0 390.6,300.7 390.8,302.9 390.9,302.0 391.1,302.2 391.2,304.8 391.4,303.5 391.5,304.9 391.7,303.3 391.8,304.8 392.0,302.8 392.1,303.8 392.3,303.4 392.4,304.1 392.6,303.3 392.7,303.2 392.9,302.2 393.0,301.8 393.2,301.9 393.3,301.7 393.5,301.9 393.6,301.0 393.8,302.2 393.9,301.5 394.1,299.6 394.2,301.5 394.4,301.5 394.5,301.0 394.7,299.9 394.8,299.2 395.0,300.7 395.1,300.6 395.3,298.8 395.4,301.2 395.6,301.2 395.7,301.5 395.9,300.7 396.0,300.3 396.2,299.7 396.3,300.0 396.5,299.8 396.6,301.3 396.8,301.0 396.9,300.9 397.1,300.7 397.2,300.9 397.4,302.3 397.5,300.5 397.7,300.3 397.8,300.4 398.0,300.7 398.1,300.0 398.3,300.8 398.4,300.3 398.6,301.1 398.7,300.0 398.9,300.7 399.0,299.4 399.2,299.5 399.3,300.6 399.5,301.4 399.6,300.6 399.8,299.8 399.9,300.5 400.1,300.5 400.2,300.3 400.4,301.0 400.5,301.1 400.7,300.4 400.8,299.0 401.0,300.6 401.1,299.3 401.3,301.1 401.4,301.9 401.6,300.7 401.7,300.2 401.9,299.7 402.0,299.5 402.2,300.9 402.3,298.4 402.5,299.9 402.6,300.4 402.8,300.8 402.9,300.1 403.1,302.2 403.2,300.1 403.4,300.8 403.5,300.9 403.7,301.6 403.8,302.2 404.0,301.9 404.1,302.1 404.3,301.8 404.4,302.7 404.6,305.4 404.7,303.5 404.9,302.7 405.0,303.9 405.2,303.8 405.3,304.9 405.5,303.5 405.6,304.2 405.8,303.0 405.9,301.7 406.1,302.7 406.2,301.6 406.4,302.8 406.5,301.6 406.7,301.7 406.8,300.7 407.0,299.7 407.1,299.6 407.3,299.7 407.4,300.2 407.6,301.6 407.7,299.9 407.9,299.7 408.0,301.4 408.2,300.1 408.3,300.5 408.5,300.8 408.6,300.6 408.8,300.7 408.9,300.0 409.1,300.9 409.2,301.9 409.4,299.6 409.5,299.5 409.7,301.1 409.8,300.3 410.0,300.8 410.1,299.9 410.3,300.4 410.4,299.8 410.6,300.3 410.7,298.7 410.9,299.5 411.0,299.6 411.2,299.5 411.3,300.9 411.5,299.8 411.6,300.2 411.8,301.3 411.9,300.0 412.1,300.6 412.2,300.3 412.4,300.6 412.5,300.2 412.7,300.1 412.8,300.7 413.0,299.9 413.1,299.9 413.3,300.3 413.4,300.9 413.6,300.7 413.7,299.9 413.9,300.2 414.0,301.8 414.2,301.4 414.3,301.9 414.5,300.0 414.6,301.3 414.8,300.3 414.9,299.6 415.1,301.1 415.2,301.4 415.4,300.6 415.5,300.1 415.7,299.4 415.8,301.1 416.0,300.7 416.1,300.0 416.3,300.0 416.4,300.7 416.6,300.8 416.7,299.8 416.9,300.6 417.0,301.2 417.2,300.4 417.3,300.8 417.5,299.7 417.6,300.2 417.8,301.4 417.9,301.0 418.1,298.6 418.2,299.7 418.4,300.2 418.5,300.5 418.7,300.6 418.8,300.4 419.0,300.6 419.1,301.1 419.3,299.9 419.4,300.0 419.6,301.6 419.7,300.6 419.9,300.1 420.0,300.4 420.2,300.3 420.3,300.7 420.5,300.7 420.6,301.2 420.8,299.6 420.9,299.9 421.1,300.5 421.2,300.3 421.4,299.8 421.5,301.3 421.7,300.1 421.8,300.2 422.0,300.8 422.1,301.7 422.3,300.3 422.4,300.5 422.6,299.9 422.7,299.7 422.9,299.8 423.0,300.7 423.2,299.6 423.3,299.6 423.5,301.3 423.6,301.6 423.8,300.9 423.9,299.7 424.1,301.0 424.2,300.2 424.4,299.7 424.5,300.0 424.7,300.5 424.8,299.7 425.0,301.2 425.1,300.8 425.3,300.0 425.4,299.3 425.6,300.4 425.7,300.0 425.9,300.4 426.0,300.2 426.2,300.7 426.3,300.7 426.5,301.0 426.6,300.6 426.8,300.2 426.9,300.9 427.1,300.9 427.2,300.9 427.4,301.3 427.5,300.2 427.7,300.2 427.8,300.7 428.0,301.3 428.1,301.0 428.3,301.2 428.4,300.0 428.6,300.1 428.7,301.0 428.9,300.3 429.0,300.9 429.2,300.1 429.3,300.8 429.5,301.2 429.6,299.9 429.8,300.9 429.9,300.8 430.1,301.0 430.2,301.2 430.4,300.8 430.5,301.6 430.7,300.2 430.8,300.6 431.0,300.5 431.1,300.1 431.3,301.2 431.4,300.6 431.6,300.5 431.7,299.8 431.9,300.6 432.0,300.9 432.2,300.1 432.3,301.4 432.5,299.0 432.6,299.9 432.8,300.8 432.9,301.3 433.1,300.6 433.2,300.8 433.4,300.1 433.5,300.7 433.7,301.2 433.8,299.9 434.0,300.7 434.1,300.6 434.3,300.4 434.4,301.7 434.6,301.1 434.7,300.1 434.9,301.7 435.0,300.4 435.2,300.0 435.3,300.1 435.5,299.8 435.6,301.2 435.8,301.2 435.9,301.1 436.1,300.5 436.2,300.8 436.4,300.7 436.5,301.2 436.7,300.9 436.8,300.5 437.0,299.8 437.1,300.0 437.3,299.2 437.4,300.3 437.6,300.5 437.7,299.8 437.9,300.2 438.0,301.2 438.2,300.4 438.3,299.9 438.5,300.7 438.6,300.0 438.8,300.3 438.9,300.7 439.1,300.6 439.2,300.9 439.4,300.7 439.5,299.6 439.7,299.9 439.8,300.0 440.0,302.0 440.1,300.3 440.3,301.1 440.4,302.0 440.6,300.4 440.7,300.2 440.9,299.8 441.0,300.2 441.2,299.2 441.3,300.5 441.5,300.7 441.6,300.4 441.8,299.9 441.9,300.7 442.1,299.9 442.2,300.4 442.4,301.0 442.5,299.6 442.7,299.5 442.8,300.8 443.0,300.5 443.1,300.4 443.3,301.0 443.4,301.0 443.6,299.9 443.7,301.1 443.9,299.9 444.0,300.7 444.2,299.9 444.3,301.3 444.5,300.8 444.6,301.6 444.8,301.0 444.9,301.2 445.1,301.3 445.2,301.9 445.4,301.3 445.5,301.1 445.7,301.8 445.8,300.9 446.0,299.4 446.1,300.6 446.3,301.1 446.4,300.6 446.6,301.2 446.7,299.7 446.9,301.3 447.0,301.1 447.2,300.4 447.3,299.8 447.5,300.7 447.6,301.0 447.8,301.0 447.9,300.3 448.1,299.8 448.2,300.9 448.4,300.9 448.5,300.5 448.7,301.7 448.8,300.7 449.0,301.2 449.1,301.1 449.3,300.4 449.4,300.9 449.6,301.1 449.7,301.0 449.9,300.8 450.0,300.4 450.2,300.4 450.3,300.3 450.5,300.8 450.6,300.5 450.8,300.4 450.9,300.5 451.1,300.7 451.2,299.8 451.4,298.7 451.5,300.1 451.7,300.6 451.8,300.3 452.0,300.7 452.1,299.6 452.3,299.7 452.4,300.4 452.6,299.9 452.7,301.0 452.9,300.5 453.0,300.5 453.2,299.4 453.3,299.8 453.5,299.8 453.6,300.6 453.8,299.8 453.9,299.9 454.1,298.9 454.2,300.3 454.4,299.4 454.5,300.6 454.7,300.6 454.8,300.3 455.0,300.9 455.1,300.2 455.3,300.4 455.4,300.2 455.6,300.2 455.7,299.4 455.9,299.8 456.0,299.5 456.2,300.4 456.3,299.6 456.5,300.5 456.6,300.5 456.8,300.8 456.9,300.2 457.1,300.0 457.2,299.8 457.4,300.9 457.5,301.8 457.7,299.9 457.8,300.7 458.0,300.5 458.1,300.3 458.3,300.2 458.4,300.0 458.6,300.4 458.7,299.8 458.9,300.2 459.0,300.6 459.2,301.0 459.3,300.0 459.5,300.2 459.6,300.7 459.8,300.7 459.9,299.8 460.1,299.9 460.2,300.0 460.4,299.9 460.5,300.7 460.7,300.7 460.8,299.6 461.0,299.8 461.1,300.6 461.3,300.6 461.4,300.5 461.6,301.1 461.7,300.8 461.9,300.4 462.0,300.4 462.2,301.5 462.3,300.4 462.5,300.4 462.6,300.6 462.8,300.6 462.9,300.2 463.1,301.0 463.2,299.8 463.4,299.6 463.5,299.9 463.7,300.7 463.8,300.6 464.0,301.4 464.1,300.3 464.3,300.5 464.4,300.1 464.6,299.8 464.7,301.6 464.9,300.0 465.0,299.9 465.2,299.4 465.3,300.5 465.5,300.8 465.6,300.8 465.8,300.8 465.9,300.0 466.1,300.4 466.2,298.8 466.4,300.8 466.5,300.3 466.7,300.3 466.8,300.6 467.0,300.5 467.1,300.5 467.3,300.0 467.4,300.8 467.6,300.0 467.7,300.5 467.9,300.8 468.0,300.2 468.2,300.0 468.3,300.5 468.5,300.9 468.6,300.2 468.8,300.0 468.9,300.4 469.1,300.6 469.2,300.2 469.4,301.3 469.5,299.9 469.7,300.6 469.8,300.7 470.0,300.6 470.1,300.4 470.3,300.1 470.4,301.2 470.6,300.6 470.7,301.0 470.9,300.1 471.0,300.7 471.2,300.3 471.3,300.1 471.5,300.7 471.6,299.8 471.8,300.3 471.9,300.3 472.1,300.8 472.2,300.7 472.4,300.4 472.5,300.7 472.7,300.1 472.8,300.2 473.0,300.0 473.1,301.2 473.3,300.0 473.4,301.0 473.6,299.9 473.7,300.6 473.9,300.6 474.0,300.5 474.2,300.1 474.3,300.4 474.5,300.8 474.6,300.9 474.8,300.3 474.9,301.3 475.1,300.7 475.2,300.2 475.4,300.7 475.5,300.7 475.7,300.5 475.8,300.3 476.0,300.6 476.1,301.3 476.3,299.9 476.4,300.6 476.6,300.4 476.7,300.2 476.9,300.4 477.0,300.6 477.2,300.3 477.3,300.7 477.5,300.7 477.6,300.1 477.8,300.6 477.9,300.9 478.1,300.5 478.2,300.5 478.4,300.7 478.5,300.7 478.7,300.4 478.8,300.2 479.0,300.9 479.1,300.3" fill="none" stroke="#00FA64" stroke-width="3" stroke-linejoin="round" stroke-linecap="round" />
<polyline points="490.2,300.5 490.4,300.8 490.5,300.7 490.7,300.1 490.8,301.0 491.0,300.0 491.1,300.5 491.3,300.5 491.4,300.5 491.6,300.3 491.7,300.0 491.9,299.9 492.0,300.2 492.2,299.6 492.3,300.9 492.5,300.5 492.6,301.1 492.8,299.9 492.9,300.4 493.1,301.0 493.2,300.1 493.4,300.5 493.5,300.5 493.7,300.6 493.8,299.5 494.0,300.8 494.1,300.0 494.3,300.0 494.4,299.7 494.6,300.1 494.7,301.0 494.9,300.1 495.0,300.4 495.2,300.1 495.3,300.9 495.5,300.6 495.6,300.7 495.8,299.5 495.9,300.5 496.1,300.9 496.2,300.6 496.4,300.5 496.5,300.9 496.7,299.9 496.8,299.5 497.0,299.8 497.1,299.6 497.3,301.6 497.4,300.8 497.6,302.8 497.7,303.6 497.9,304.3 498.0,306.0 498.2,308.0 498.3,310.3 498.5,312.3 498.6,314.6 498.8,315.1 498.9,316.2 499.1,316.0 499.2,315.3 499.4,314.5 499.5,313.0 499.7,310.3 499.8,309.5 500.0,306.5 500.1,304.9 500.3,303.7 500.4,302.1 500.6,302.9 500.7,301.4 500.9,300.3 501.0,300.8 501.2,300.7 501.3,300.8 501.5,300.8 501.6,300.3 501.8,301.1 501.9,299.9 502.1,300.6 502.2,301.1 502.4,300.6 502.5,300.8 502.7,300.0 502.8,300.2 503.0,300.6 503.1,300.3 503.3,299.7 503.4,300.8 503.6,300.8 503.7,300.6 503.9,299.5 504.0,299.7 504.2,300.1 504.3,300.2 504.5,300.2 504.6,299.8 504.8,300.3 504.9,301.0 505.1,300.5 505.2,300.1 505.4,300.0 505.5,300.3 505.7,300.4 505.8,300.1 506.0,299.4 506.1,300.4 506.3,300.4 506.4,300.8 506.6,300.1 506.7,300.8 506.9,299.8 507.0,300.6 507.2,299.9 507.3,299.8 507.5,299.9 507.6,300.9 507.8,300.2 507.9,299.8 508.1,300.3 508.2,300.4 508.4,299.8 508.5,300.7 508.7,300.4 508.8,300.5 509.0,299.6 509.1,301.2 509.3,300.4 509.4,300.2 509.6,300.0 509.7,301.4 509.9,301.0 510.0,300.0 510.2,300.0 510.3,300.8 510.5,300.5 510.6,299.8 510.8,300.7 510.9,300.7 511.1,301.1 511.2,300.2 511.4,300.5 511.5,300.6 511.7,301.3 511.8,300.0 512.0,300.7 512.1,301.4 512.3,300.1 512.4,300.7 512.6,301.0 512.7,299.4 512.9,299.8 513.0,299.9 513.2,300.7 513.3,300.5 513.5,300.2 513.6,299.9 513.8,301.2 513.9,300.7 514.1,300.6 514.2,300.4 514.4,300.5 514.5,300.4 514.7,299.8 514.8,301.1 515.0,301.3 515.1,301.5 515.3,300.4 515.4,300.3 515.6,300.4 515.7,300.6 515.9,300.6 516.0,300.7 516.2,299.8 516.3,300.4 516.5,300.0 516.6,300.3 516.8,300.4 516.9,300.6 517.1,301.0 517.2,301.1 517.4,300.3 517.5,300.8 517.7,299.9 517.8,300.1 518.0,300.8 518.1,300.1 518.3,300.4 518.4,300.5 518.6,300.3 518.7,301.1 518.9,300.8 519.0,301.1 519.2,300.2 519.3,300.8 519.5,300.0 519.6,300.5 519.8,300.4 519.9,301.0 520.1,300.5 520.2,300.3 520.4,300.7 520.5,301.1 520.7,300.9 520.8,300.1 521.0,300.0 521.1,300.7 521.3,300.3 521.4,299.8 521.6,301.3 521.7,301.3 521.9,301.0 522.0,300.9 522.2,300.7 522.3,300.7 522.5,300.4 522.6,300.8 522.8,299.8 522.9,300.1 523.1,300.4 523.2,299.4 523.4,301.0 523.5,300.6 523.7,300.1 523.8,300.8 524.0,300.9 524.1,300.5 524.3,300.2 524.4,300.0 524.6,299.7 524.7,301.0 524.9,300.7 525.0,300.1 525.2,300.2 525.3,300.0 525.5,300.5 525.6,300.8 525.8,300.5 525.9,300.3 526.1,300.7 526.2,300.9 526.4,300.1 526.5,300.3 526.7,300.2 526.8,300.6 527.0,300.5 527.1,300.2 527.3,300.3 527.4,300.3 527.6,299.8 527.7,300.7 527.9,300.3 528.0,300.5 528.2,300.7 528.3,300.1 528.5,300.5 528.6,300.9 528.8,300.7 528.9,300.4 529.1,300.5 529.2,300.5 529.4,301.0 529.5,300.1 529.7,300.5 529.8,300.3 530.0,300.0 530.1,301.2 530.3,301.1 530.4,300.6 530.6,300.5 530.7,301.0 530.9,300.1 531.0,300.7 531.2,300.2 531.3,300.5 531.5,300.2 531.6,300.2 531.8,300.0 531.9,300.7 532.1,299.6 532.2,299.9 532.4,300.4 532.5,300.7 532.7,299.5 532.8,301.0 533.0,299.6 533.1,299.9 533.3,300.5 533.4,300.0 533.6,299.6 533.7,300.1 533.9,301.2 534.0,300.1 534.2,299.5 534.3,300.3 534.5,300.1 534.6,300.2 534.8,300.2 534.9,300.5 535.1,300.1 535.2,301.3 535.4,300.1 535.5,300.3 535.7,301.0 535.8,300.7 536.0,300.7 536.1,301.2 536.3,300.2 536.4,300.4 536.6,301.1 536.7,300.2 536.9,300.9 537.0,300.7 537.2,299.6 537.3,300.8 537.5,300.4 537.6,300.1 537.8,300.8 537.9,300.0 538.1,300.1 538.2,299.8 538.4,299.8 538.5,300.5 538.7,300.6 538.8,300.0 539.0,299.5 539.1,300.4 539.3,300.4 539.4,300.0 539.6,299.5 539.7,299.7 539.9,300.0 540.0,300.4 540.2,300.1 540.3,300.1 540.5,300.7 540.6,300.0 540.8,300.0 540.9,300.0 541.1,300.8 541.2,300.6 541.4,300.1 541.5,301.1 541.7,301.1 541.8,300.8 542.0,301.4 542.1,300.2 542.3,301.0 542.4,300.7 542.6,300.1 542.7,300.7 542.9,299.9 543.0,299.9 543.2,300.3 543.3,300.7 543.5,300.3 543.6,300.6 543.8,300.6 543.9,300.4 544.1,300.4 544.2,301.1 544.4,299.2 544.5,300.9 544.7,300.1 544.8,301.2 545.0,300.2 545.1,299.9 545.3,300.7 545.4,299.8 545.6,301.5 545.7,300.2 545.9,299.7 546.0,300.3 546.2,300.6 546.3,299.8 546.5,300.9 546.6,300.4 546.8,300.5 546.9,300.1 547.1,300.6 547.2,300.2 547.4,300.8 547.5,300.2 547.7,300.7 547.8,300.6 548.0,300.2 548.1,300.8 548.3,299.6 548.4,300.1 548.6,300.8 548.7,300.8 548.9,301.0 549.0,300.2 549.2,300.5 549.3,301.1 549.5,301.1 549.6,300.2 549.8,300.2 549.9,300.4 550.1,300.0 550.2,300.8 550.4,300.9 550.5,300.1 550.7,300.8 550.8,300.9 551.0,300.4 551.1,300.5 551.3,300.6 551.4,300.6 551.6,300.2 551.7,301.1 551.9,301.1 552.0,300.3 552.2,300.6 552.3,300.3 552.5,300.3 552.6,300.0 552.8,300.2 552.9,299.9 553.1,301.0 553.2,301.1 553.4,300.4 553.5,301.2 553.7,299.8 553.8,300.8 554.0,299.9 554.1,300.6 554.3,300.8 554.4,301.3 554.6,301.5 554.7,300.9 554.9,300.3 555.0,301.8 555.2,301.4 555.3,302.1 555.5,302.9 555.6,303.1 555.8,303.1 555.9,304.4 556.1,303.1 556.2,303.3 556.4,303.9 556.5,303.5 556.7,302.4 556.8,302.4 557.0,302.0 557.1,301.2 557.3,301.2 557.4,301.1 557.6,300.9 557.7,300.9 557.9,300.2 558.0,300.7 558.2,300.6 558.3,301.7 558.5,300.7 558.6,299.9 558.8,300.4 558.9,300.3 559.1,300.6 559.2,300.1 559.4,300.6 559.5,300.8 559.7,299.9 559.8,301.4 560.0,300.3 560.1,300.8 560.3,301.5 560.4,300.3 560.6,301.0 560.7,300.5 560.9,300.0 561.0,300.0 561.2,300.8 561.3,300.4 561.5,300.3 561.6,300.9 561.8,301.0 561.9,300.6 562.1,300.4 562.2,300.2 562.4,300.2 562.5,301.1 562.7,300.0 562.8,300.2 563.0,301.0 563.1,300.5 563.3,299.7 563.4,300.9 563.6,300.5 563.7,300.9 563.9,300.6 564.0,301.2 564.2,300.2 564.3,300.3 564.5,300.5 564.6,300.1 564.8,300.9 564.9,301.1 565.1,300.8 565.2,300.8 565.4,301.0 565.5,300.6 565.7,300.4 565.8,300.6 566.0,301.0 566.1,300.5 566.3,300.6 566.4,301.3 566.6,300.5 566.7,300.7 566.9,300.3 567.0,301.2 567.2,301.3 567.3,301.4 567.5,301.2 567.6,300.6 567.8,300.6 567.9,301.0 568.1,300.5 568.2,301.0 568.4,300.1 568.5,299.9 568.7,300.9 568.8,300.7 569.0,301.3 569.1,301.0 569.3,301.0 569.4,300.8 569.6,300.9 569.7,301.4 569.9,300.6 570.0,300.7 570.2,300.8 570.3,300.1 570.5,300.0 570.6,301.0 570.8,300.1 570.9,300.0 571.1,300.9 571.2,300.7 571.4,300.7 571.5,300.5 571.7,300.8 571.8,300.9 572.0,300.6 572.1,300.8 572.3,301.2 572.4,299.6 572.6,299.2 572.7,299.9 572.9,300.4 573.0,300.4 573.2,300.5 573.3,301.0 573.5,300.0 573.6,300.4 573.8,301.3 573.9,300.3 574.1,300.5 574.2,300.1 574.4,300.4 574.5,300.8 574.7,301.4 574.8,300.3 575.0,301.2 575.1,301.2 575.3,300.2 575.4,301.5 575.6,300.4 575.7,300.9 575.9,301.1 576.0,300.6 576.2,300.3 576.3,301.0 576.5,301.3 576.6,300.6 576.8,300.8 576.9,300.3 577.1,300.4 577.2,300.0 577.4,300.5 577.5,300.5 577.7,300.4 577.8,300.7 578.0,300.3 578.1,299.8 578.3,300.1 578.4,299.9 578.6,300.2 578.7,300.7 578.9,301.0 579.0,301.5 579.2,301.4 579.3,301.4 579.5,302.0 579.6,301.9 579.8,302.7 579.9,303.2 580.1,303.0 580.2,303.0 580.4,302.8 580.5,301.8 580.7,302.2 580.8,301.8 581.0,301.2 581.1,301.1 581.3,301.1 581.4,300.7 581.6,300.7 581.7,300.8 581.9,301.0 582.0,301.3 582.2,300.9 582.3,300.6 582.5,301.0 582.6,300.6 582.8,300.3 582.9,300.7 583.1,300.2 583.2,300.9 583.4,301.1 583.5,301.2 583.7,300.2 583.8,300.3 584.0,300.1 584.1,300.7 584.3,300.6 584.4,300.3 584.6,300.5 584.7,300.4 584.9,300.0 585.0,300.4 585.2,300.7 585.3,300.4 585.5,300.9 585.6,299.8 585.8,300.4 585.9,299.9 586.1,300.7 586.2,300.4 586.4,300.9 586.5,300.4 586.7,300.0 586.8,300.1 587.0,300.2 587.1,300.4 587.3,300.5 587.4,300.9 587.6,300.2 587.7,300.2 587.9,301.1 588.0,300.2 588.2,300.8 588.3,299.5 588.5,300.3 588.6,300.2 588.8,300.0 588.9,300.4 589.1,300.6 589.2,300.0 589.4,300.2 589.5,300.4 589.7,300.9 589.8,300.5 590.0,300.8 590.1,300.7 590.3,299.8 590.4,301.3 590.6,300.1 590.7,300.5 590.9,300.8 591.0,300.3 591.2,300.3 591.3,300.3 591.5,300.7 591.6,301.0 591.8,300.4 591.9,300.6 592.1,301.0 592.2,300.5 592.4,300.8 592.5,300.7 592.7,301.4 592.8,300.7 593.0,300.5 593.1,300.7 593.3,300.2 593.4,300.0 593.6,300.1 593.7,300.7 593.9,301.0 594.0,300.4 594.2,301.4 594.3,300.5 594.5,300.9 594.6,300.8 594.8,300.7 594.9,300.6 595.1,300.6 595.2,300.4 595.4,300.0 595.5,300.3 595.7,301.0 595.8,300.0 596.0,300.9 596.1,299.8 596.3,301.0 596.4,300.9 596.6,300.3 596.7,300.6 596.9,300.1 597.0,300.1 597.2,300.7 597.3,300.4 597.5,300.2 597.6,300.4 597.8,300.2 597.9,300.0 598.1,301.4 598.2,300.1 598.4,300.8 598.5,300.0 598.7,300.4 598.8,300.7 599.0,301.5 599.1,300.2 599.3,300.6 599.4,300.2 599.6,299.9 599.7,301.0 599.9,301.0 600.0,300.3 600.2,300.7 600.3,300.1 600.5,300.2 600.6,300.0 600.8,300.3 600.9,300.7 601.1,299.7 601.2,299.6 601.4,299.9 601.5,300.4 601.7,300.7 601.8,300.0 602.0,300.2 602.1,300.3 602.3,300.1 602.4,300.0 602.6,300.8 602.7,300.3 602.9,300.5 603.0,300.5 603.2,300.4 603.3,300.4 603.5,300.5 603.6,300.0 603.8,300.6 603.9,300.1 604.1,300.9 604.2,300.2 604.4,300.8 604.5,300.9 604.7,300.1 604.8,300.7 605.0,300.6 605.1,301.1 605.3,300.4 605.4,300.4 605.6,300.2 605.7,300.7 605.9,300.6 606.0,300.8 606.2,301.2 606.3,300.7 606.5,300.9 606.6,300.6 606.8,300.8 606.9,300.2 607.1,300.7 607.2,300.6 607.4,301.2 607.5,300.2 607.7,300.7 607.8,300.7 608.0,300.4 608.1,300.7 608.3,301.0 608.4,301.3 608.6,300.9 608.7,301.0 608.9,300.4 609.0,299.7 609.2,300.1 609.3,300.2 609.5,300.6 609.6,300.8 609.8,300.4 609.9,300.0 610.1,300.5 610.2,300.5 610.4,300.3 610.5,300.5 610.7,300.6 610.8,300.9 611.0,301.1 611.1,300.1 611.3,300.3 611.4,299.8 611.6,300.6 611.7,300.6 611.9,300.5 612.0,300.7 612.2,300.7 612.3,300.2 612.5,300.7 612.6,300.5 612.8,300.4 612.9,300.2 613.1,300.3 613.2,300.3 613.4,301.4 613.5,300.6 613.7,300.4 613.8,301.2 614.0,300.2 614.1,300.2 614.3,300.2 614.4,300.8 614.6,300.6 614.7,300.5 614.9,300.5 615.0,300.4 615.2,300.4 615.3,300.5 615.5,300.4 615.6,299.8 615.8,300.4 615.9,300.0 616.1,300.2 616.2,299.8 616.4,300.6 616.5,300.7 616.7,300.3 616.8,300.3 617.0,299.9 617.1,300.3 617.3,299.8 617.4,300.4 617.6,300.0 617.7,299.9 617.9,299.7 618.0,300.2 618.2,300.9 618.3,300.6 618.5,300.4 618.6,300.5 618.8,300.7 618.9,300.5 619.1,300.2 619.2,300.5 619.4,300.6 619.5,300.3 619.7,300.3 619.8,300.8 620.0,300.5 620.1,300.4 620.3,300.4 620.4,299.8 620.6,300.4 620.7,300.8 620.9,299.9 621.0,301.0 621.2,300.6 621.3,300.7 621.5,300.2 621.6,300.3 621.8,301.0 621.9,300.9 622.1,300.8 622.2,300.6 622.4,300.3 622.5,300.4 622.7,300.5 622.8,300.4 623.0,301.0 623.1,300.6 623.3,300.8 623.4,300.5 623.6,300.0 623.7,300.5 623.9,300.3 624.0,299.9 624.2,300.8 624.3,301.1 624.5,300.6 624.6,300.9 624.8,300.3 624.9,300.1 625.1,300.3 625.2,300.4 625.4,300.7 625.5,300.1 625.7,300.9 625.8,300.7 626.0,300.2 626.1,300.9 626.3,300.1 626.4,300.1 626.6,300.7 626.7,300.1 626.9,300.4 627.0,300.2 627.2,300.9 627.3,300.4 627.5,300.5 627.6,300.3 627.8,300.6 627.9,300.4 628.1,299.9 628.2,300.7 628.4,300.6 628.5,300.2 628.7,300.1 628.8,300.0 629.0,300.4 629.1,300.5 629.3,300.5 629.4,300.5 629.6,300.2 629.7,300.0 629.9,300.6 630.0,300.4 630.2,300.7 630.3,300.5 630.5,300.6 630.6,300.3 630.8,300.6 630.9,300.1 631.1,300.3 631.2,300.7 631.4,300.1 631.5,300.0 631.7,300.7 631.8,300.0 632.0,300.0 632.1,300.0 632.3,300.9 632.4,300.5 632.6,300.2 632.7,300.5 632.9,300.8 633.0,300.3 633.2,300.2 633.3,300.8 633.5,300.6 633.6,300.6 633.8,300.7" fill="none" stroke="#00FA64" stroke-width="3" stroke-linejoin="round" stroke-linecap="round" />
</g>
<path d="M1140 59h1v281h-1zM1119 336h22v1h-22zM1130 331h11v1h-11zM1130 325h11v1h-11zM1130 319h11v1h-11zM1130 313h11v1h-11zM1130 308h11v1h-11zM1130 302h11v1h-11zM1130 296h11v1h-11zM1130 290h11v1h-11zM1130 285h11v1h-11zM1119 279h22v1h-22zM1130 273h11v1h-11zM1130 267h11v1h-11zM1130 262h11v1h-11zM1130 256h11v1h-11zM1130 250h11v1h-11zM1130 244h11v1h-11zM1130 239h11v1h-11zM1130 233h11v1h-11zM1130 227h11v1h-11zM1119 221h22v1h-22zM1130 216h11v1h-11zM1130 210h11v1h-11zM1130 204h11v1h-11zM1130 198h11v1h-11zM1130 193h11v1h-11zM1130 187h11v1h-11zM1130 181h11v1h-11zM1130 175h11v1h-11zM1130 170h11v1h-11zM1119 164h22v1h-22zM1130 158h11v1h-11zM1130 152h11v1h-11zM1130 147h11v1h-11zM1130 141h11v1h-11zM1130 135h11v1h-11zM1130 129h11v1h-11zM1130 124h11v1h-11zM1130 118h11v1h-11zM1130 112h11v1h-11zM1119 106h22v1h-22zM1130 101h11v1h-11zM1130 95h11v1h-11zM1130 89h11v1h-11zM1130 83h11v1h-11zM1130 78h11v1h-11zM1130 72h11v1h-11zM1130 66h11v1h-11zM1130 60h11v1h-11z" fill="#007DFF" shape-rendering="crispEdges"/>
<path d="M212.04 352.34 L207.30 358.45 L214.41 358.45 M212.04 352.34 L212.04 361.50 M219.63 352.34 L218.20 352.78 L217.26 354.09 L216.78 356.27 L216.78 357.58 L217.26 359.76 L218.20 361.06 L219.63 361.50 L220.57 361.50 L222.00 361.06 L222.94 359.76 L223.42 357.58 L223.42 356.27 L222.94 354.09 L222.00 352.78 L220.57 352.34 L219.63 352.34 M229.11 352.34 L227.68 352.78 L226.74 354.09 L226.26 356.27 L226.26 357.58 L226.74 359.76 L227.68 361.06 L229.11 361.50 L230.05 361.50 L231.48 361.06 L232.42 359.76 L232.90 357.58 L232.90 356.27 L232.42 354.09 L231.48 352.78 L230.05 352.34 L229.11 352.34" fill="none" stroke="#000" stroke-width="1" stroke-linecap="square" shape-rendering="crispEdges"/>
<path d="M360.16 352.34 L355.42 352.34 L354.95 356.27 L355.42 355.83 L356.84 355.39 L358.26 355.39 L359.69 355.83 L360.63 356.70 L361.11 358.01 L361.11 358.88 L360.63 360.19 L359.69 361.06 L358.26 361.50 L356.84 361.50 L355.42 361.06 L354.95 360.63 L354.47 359.76 M366.80 352.34 L365.37 352.78 L364.43 354.09 L363.95 356.27 L363.95 357.58 L364.43 359.76 L365.37 361.06 L366.80 361.50 L367.74 361.50 L369.17 361.06 L370.11 359.76 L370.59 357.58 L370.59 356.27 L370.11 354.09 L369.17 352.78 L367.74 352.34 L366.80 352.34 M376.28 352.34 L374.85 352.78 L373.91 354.09 L373.43 356.27 L373.43 357.58 L373.91 359.76 L374.85 361.06 L376.28 361.50 L377.22 361.50 L378.65 361.06 L379.59 359.76 L380.07 357.58 L380.07 356.27 L379.59 354.09 L378.65 352.78 L377.22 352.34 L376.28 352.34" fill="none" stroke="#000" stroke-width="1" stroke-linecap="square" shape-rendering="crispEdges"/>
<path d="M507.80 353.65 L507.33 352.78 L505.91 352.34 L504.96 352.34 L503.54 352.78 L502.59 354.09 L502.12 356.27 L502.12 358.45 L502.59 360.19 L503.54 361.06 L504.96 361.50 L505.43 361.50 L506.86 361.06 L507.80 360.19 L508.28 358.88 L508.28 358.45 L507.80 357.14 L506.86 356.27 L505.43 355.83 L504.96 355.83 L503.54 356.27 L502.59 357.14 L502.12 358.45 M513.97 352.34 L512.54 352.78 L511.60 354.09 L511.12 356.27 L511.12 357.58 L511.60 359.76 L512.54 361.06 L513.97 361.50 L514.91 361.50 L516.34 361.06 L517.28 359.76 L517.76 357.58 L517.76 356.27 L517.28 354.09 L516.34 352.78 L514.91 352.34 L513.97 352.34 M523.45 352.34 L522.02 352.78 L521.08 354.09 L520.60 356.27 L520.60 357.58 L521.08 359.76 L522.02 361.06 L523.45 361.50 L524.39 361.50 L525.82 361.06 L526.76 359.76 L527.24 357.58 L527.24 356.27 L526.76 354.09 L525.82 352.78 L524.39 352.34 L523.45 352.34" fill="none" stroke="#000" stroke-width="1" stroke-linecap="square" shape-rendering="crispEdges"/>
<path d="M655.45 352.34 L650.71 361.50 M648.81 352.34 L655.45 352.34 M661.14 352.34 L659.71 352.78 L658.77 354.09 L658.29 356.27 L658.29 357.58 L658.77 359.76 L659.71 361.06 L661.14 361.50 L662.08 361.50 L663.51 361.06 L664.45 359.76 L664.93 357.58 L664.93 356.27 L664.45 354.09 L663.51 352.78 L662.08 352.34 L661.14 352.34 M670.62 352.34 L669.19 352.78 L668.25 354.09 L667.77 356.27 L667.77 357.58 L668.25 359.76 L669.19 361.06 L670.62 361.50 L671.56 361.50 L672.99 361.06 L673.93 359.76 L674.41 357.58 L674.41 356.27 L673.93 354.09 L672.99 352.78 L671.56 352.34 L670.62 352.34" fill="none" stroke="#000" stroke-width="1" stroke-linecap="square" shape-rendering="crispEdges"/>
<path d="M798.35 352.34 L796.93 352.78 L796.46 353.65 L796.46 354.52 L796.93 355.39 L797.88 355.83 L799.77 356.27 L801.20 356.70 L802.14 357.58 L802.62 358.45 L802.62 359.76 L802.14 360.63 L801.67 361.06 L800.25 361.50 L798.35 361.50 L796.93 361.06 L796.46 360.63 L795.98 359.76 L795.98 358.45 L796.46 357.58 L797.40 356.70 L798.83 356.27 L800.72 355.83 L801.67 355.39 L802.14 354.52 L802.14 353.65 L801.67 352.78 L800.25 352.34 L798.35 352.34 M808.31 352.34 L806.88 352.78 L805.94 354.09 L805.46 356.27 L805.46 357.58 L805.94 359.76 L806.88 361.06 L808.31 361.50 L809.25 361.50 L810.68 361.06 L811.62 359.76 L812.10 357.58 L812.10 356.27 L811.62 354.09 L810.68 352.78 L809.25 352.34 L808.31 352.34 M817.79 352.34 L816.36 352.78 L815.42 354.09 L814.94 356.27 L814.94 357.58 L815.42 359.76 L816.36 361.06 L817.79 361.50 L818.73 361.50 L820.16 361.06 L821.10 359.76 L821.58 357.58 L821.58 356.27 L821.10 354.09 L820.16 352.78 L818.73 352.34 L817.79 352.34" fill="none" stroke="#000" stroke-width="1" stroke-linecap="square" shape-rendering="crispEdges"/>
<path d="M949.31 355.39 L948.84 356.70 L947.89 357.58 L946.47 358.01 L946.00 358.01 L944.57 357.58 L943.63 356.70 L943.15 355.39 L943.15 354.96 L943.63 353.65 L944.57 352.78 L946.00 352.34 L946.47 352.34 L947.89 352.78 L948.84 353.65 L949.31 355.39 L949.31 357.58 L948.84 359.76 L947.89 361.06 L946.47 361.50 L945.52 361.50 L944.10 361.06 L943.63 360.19 M955.48 352.34 L954.05 352.78 L953.11 354.09 L952.63 356.27 L952.63 357.58 L953.11 359.76 L954.05 361.06 L955.48 361.50 L956.42 361.50 L957.85 361.06 L958.79 359.76 L959.27 357.58 L959.27 356.27 L958.79 354.09 L957.85 352.78 L956.42 352.34 L955.48 352.34 M964.96 352.34 L963.53 352.78 L962.59 354.09 L962.11 356.27 L962.11 357.58 L962.59 359.76 L963.53 361.06 L964.96 361.50 L965.90 361.50 L967.33 361.06 L968.27 359.76 L968.75 357.58 L968.75 356.27 L968.27 354.09 L967.33 352.78 L965.90 352.34 L964.96 352.34" fill="none" stroke="#000" stroke-width="1" stroke-linecap="square" shape-rendering="crispEdges"/>
<path d="M1087.00 354.09 L1087.95 353.65 L1089.37 352.34 L1089.37 361.50 M1097.91 352.34 L1096.48 352.78 L1095.54 354.09 L1095.06 356.27 L1095.06 357.58 L1095.54 359.76 L1096.48 361.06 L1097.91 361.50 L1098.85 361.50 L1100.28 361.06 L1101.22 359.76 L1101.70 357.58 L1101.70 356.27 L1101.22 354.09 L1100.28 352.78 L1098.85 352.34 L1097.91 352.34 M1107.39 352.34 L1105.96 352.78 L1105.02 354.09 L1104.54 356.27 L1104.54 357.58 L1105.02 359.76 L1105.96 361.06 L1107.39 361.50 L1108.33 361.50 L1109.76 361.06 L1110.70 359.76 L1111.18 357.58 L1111.18 356.27 L1110.70 354.09 L1109.76 352.78 L1108.33 352.34 L1107.39 352.34 M1116.87 352.34 L1115.44 352.78 L1114.50 354.09 L1114.02 356.27 L1114.02 357.58 L1114.50 359.76 L1115.44 361.06 L1116.87 361.50 L1117.81 361.50 L1119.24 361.06 L1120.18 359.76 L1120.66 357.58 L1120.66 356.27 L1120.18 354.09 L1119.24 352.78 L1117.81 352.34 L1116.87 352.34" fill="none" stroke="#000" stroke-width="1" stroke-linecap="square" shape-rendering="crispEdges"/>
<path d="M564.86 375.20 L566.75 381.50 M568.65 375.20 L566.75 381.50 M568.65 375.20 L570.54 381.50 M572.44 375.20 L570.54 381.50 M580.97 375.20 L580.97 381.50 M580.97 376.55 L580.02 375.65 L579.08 375.20 L577.65 375.20 L576.71 375.65 L575.76 376.55 L575.28 377.90 L575.28 378.80 L575.76 380.15 L576.71 381.05 L577.65 381.50 L579.08 381.50 L580.02 381.05 L580.97 380.15 M583.82 375.20 L586.66 381.50 M589.50 375.20 L586.66 381.50 M591.88 377.90 L597.56 377.90 L597.56 377.00 L597.09 376.10 L596.61 375.65 L595.67 375.20 L594.24 375.20 L593.30 375.65 L592.35 376.55 L591.88 377.90 L591.88 378.80 L592.35 380.15 L593.30 381.05 L594.24 381.50 L595.67 381.50 L596.61 381.05 L597.56 380.15 M600.88 372.04 L600.88 381.50 M604.20 377.90 L609.89 377.90 L609.89 377.00 L609.41 376.10 L608.94 375.65 L607.99 375.20 L606.57 375.20 L605.62 375.65 L604.67 376.55 L604.20 377.90 L604.20 378.80 L604.67 380.15 L605.62 381.05 L606.57 381.50 L607.99 381.50 L608.94 381.05 L609.89 380.15 M613.20 375.20 L613.20 381.50 M613.20 377.00 L614.63 375.65 L615.57 375.20 L617.00 375.20 L617.94 375.65 L618.42 377.00 L618.42 381.50 M627.42 375.20 L627.42 382.40 L626.95 383.75 L626.48 384.20 L625.53 384.65 L624.11 384.65 L623.16 384.20 M627.42 376.55 L626.48 375.65 L625.53 375.20 L624.11 375.20 L623.16 375.65 L622.21 376.55 L621.74 377.90 L621.74 378.80 L622.21 380.15 L623.16 381.05 L624.11 381.50 L625.53 381.50 L626.48 381.05 L627.42 380.15 M631.69 372.04 L631.69 379.70 L632.16 381.05 L633.11 381.50 L634.06 381.50 M630.27 375.20 L633.59 375.20 M636.90 372.04 L636.90 381.50 M636.90 377.00 L638.33 375.65 L639.27 375.20 L640.70 375.20 L641.64 375.65 L642.12 377.00 L642.12 381.50 M646.86 381.05 L646.38 381.50 L645.91 381.05 L646.38 380.60 L646.86 381.05 L646.86 381.95 L646.38 382.85 L645.91 383.30 M658.23 375.20 L658.23 381.50 M658.23 377.00 L659.66 375.65 L660.60 375.20 L662.03 375.20 L662.97 375.65 L663.45 377.00 L663.45 381.50 M667.24 375.20 L667.24 381.50 M667.24 377.00 L668.66 375.65 L669.61 375.20 L671.03 375.20 L671.98 375.65 L672.45 377.00 L672.45 381.50 M672.45 377.00 L673.88 375.65 L674.82 375.20 L676.25 375.20 L677.19 375.65 L677.67 377.00 L677.67 381.50" fill="none" stroke="#000" stroke-width="1" stroke-linecap="square" shape-rendering="crispEdges"/>
<path d="M26.36 74.62 L26.36 74.14 L26.84 73.19 L27.31 72.72 L28.26 72.25 L30.16 72.25 L31.10 72.72 L31.58 73.19 L32.05 74.14 L32.05 75.09 L31.58 76.04 L30.63 77.46 L25.89 82.20 L32.53 82.20 M36.32 81.25 L35.84 81.73 L36.32 82.20 L36.79 81.73 L36.32 81.25 M42.95 72.25 L41.53 72.72 L40.58 74.14 L40.11 76.51 L40.11 77.93 L40.58 80.30 L41.53 81.73 L42.95 82.20 L43.90 82.20 L45.32 81.73 L46.27 80.30 L46.75 77.93 L46.75 76.51 L46.27 74.14 L45.32 72.72 L43.90 72.25 L42.95 72.25 M50.54 80.30 L57.17 73.67 M57.17 80.30 L50.54 73.67 M61.91 74.14 L62.86 73.67 L64.28 72.25 L64.28 82.20 M72.82 72.25 L71.39 72.72 L70.45 74.14 L69.97 76.51 L69.97 77.93 L70.45 80.30 L71.39 81.73 L72.82 82.20 L73.76 82.20 L75.19 81.73 L76.13 80.30 L76.61 77.93 L76.61 76.51 L76.13 74.14 L75.19 72.72 L73.76 72.25 L72.82 72.25" fill="none" stroke="#000" stroke-width="1" stroke-linecap="square" shape-rendering="crispEdges"/>
<path d="M79.21 73.25 L84.52 73.25 M87.47 70.89 L88.06 70.59 L88.94 69.71 L88.94 75.90 M92.78 71.18 L92.78 70.89 L93.08 70.30 L93.37 70.00 L93.96 69.71 L95.14 69.71 L95.73 70.00 L96.03 70.30 L96.32 70.89 L96.32 71.48 L96.03 72.07 L95.44 72.95 L92.48 75.90 L96.61 75.90" fill="none" stroke="#000" stroke-width="1" stroke-linecap="square" shape-rendering="crispEdges"/>
<path d="M27.31 130.14 L28.26 129.67 L29.68 128.25 L29.68 138.20 M36.32 137.25 L35.84 137.73 L36.32 138.20 L36.79 137.73 L36.32 137.25 M45.80 128.25 L41.06 128.25 L40.58 132.51 L41.06 132.04 L42.48 131.56 L43.90 131.56 L45.32 132.04 L46.27 132.99 L46.75 134.41 L46.75 135.36 L46.27 136.78 L45.32 137.73 L43.90 138.20 L42.48 138.20 L41.06 137.73 L40.58 137.25 L40.11 136.30 M50.54 136.30 L57.17 129.67 M57.17 136.30 L50.54 129.67 M61.91 130.14 L62.86 129.67 L64.28 128.25 L64.28 138.20 M72.82 128.25 L71.39 128.72 L70.45 130.14 L69.97 132.51 L69.97 133.93 L70.45 136.30 L71.39 137.73 L72.82 138.20 L73.76 138.20 L75.19 137.73 L76.13 136.30 L76.61 133.93 L76.61 132.51 L76.13 130.14 L75.19 128.72 L73.76 128.25 L72.82 128.25" fill="none" stroke="#000" stroke-width="1" stroke-linecap="square" shape-rendering="crispEdges"/>
<path d="M79.21 129.24 L84.52 129.24 M87.47 126.88 L88.06 126.59 L88.94 125.70 L88.94 131.90 M92.78 127.18 L92.78 126.88 L93.08 126.29 L93.37 126.00 L93.96 125.70 L95.14 125.70 L95.73 126.00 L96.03 126.29 L96.32 126.88 L96.32 127.47 L96.03 128.06 L95.44 128.95 L92.48 131.90 L96.61 131.90" fill="none" stroke="#000" stroke-width="1" stroke-linecap="square" shape-rendering="crispEdges"/>
<path d="M27.31 186.14 L28.26 185.67 L29.68 184.25 L29.68 194.20 M36.32 193.25 L35.84 193.73 L36.32 194.20 L36.79 193.73 L36.32 193.25 M42.95 184.25 L41.53 184.72 L40.58 186.14 L40.11 188.51 L40.11 189.93 L40.58 192.30 L41.53 193.73 L42.95 194.20 L43.90 194.20 L45.32 193.73 L46.27 192.30 L46.75 189.93 L46.75 188.51 L46.27 186.14 L45.32 184.72 L43.90 184.25 L42.95 184.25 M50.54 192.30 L57.17 185.67 M57.17 192.30 L50.54 185.67 M61.91 186.14 L62.86 185.67 L64.28 184.25 L64.28 194.20 M72.82 184.25 L71.39 184.72 L70.45 186.14 L69.97 188.51 L69.97 189.93 L70.45 192.30 L71.39 193.73 L72.82 194.20 L73.76 194.20 L75.19 193.73 L76.13 192.30 L76.61 189.93 L76.61 188.51 L76.13 186.14 L75.19 184.72 L73.76 184.25 L72.82 184.25" fill="none" stroke="#000" stroke-width="1" stroke-linecap="square" shape-rendering="crispEdges"/>
<path d="M79.21 185.24 L84.52 185.24 M87.47 182.88 L88.06 182.59 L88.94 181.70 L88.94 187.90 M92.78 183.18 L92.78 182.88 L93.08 182.29 L93.37 182.00 L93.96 181.70 L95.14 181.70 L95.73 182.00 L96.03 182.29 L96.32 182.88 L96.32 183.47 L96.03 184.06 L95.44 184.95 L92.48 187.90 L96.61 187.90" fill="none" stroke="#000" stroke-width="1" stroke-linecap="square" shape-rendering="crispEdges"/>
<path d="M31.58 240.25 L26.84 240.25 L26.36 244.51 L26.84 244.04 L28.26 243.56 L29.68 243.56 L31.10 244.04 L32.05 244.99 L32.53 246.41 L32.53 247.36 L32.05 248.78 L31.10 249.73 L29.68 250.20 L28.26 250.20 L26.84 249.73 L26.36 249.25 L25.89 248.30 M36.32 249.25 L35.84 249.73 L36.32 250.20 L36.79 249.73 L36.32 249.25 M42.95 240.25 L41.53 240.72 L40.58 242.14 L40.11 244.51 L40.11 245.93 L40.58 248.30 L41.53 249.73 L42.95 250.20 L43.90 250.20 L45.32 249.73 L46.27 248.30 L46.75 245.93 L46.75 244.51 L46.27 242.14 L45.32 240.72 L43.90 240.25 L42.95 240.25 M50.54 248.30 L57.17 241.67 M57.17 248.30 L50.54 241.67 M61.91 242.14 L62.86 241.67 L64.28 240.25 L64.28 250.20 M72.82 240.25 L71.39 240.72 L70.45 242.14 L69.97 244.51 L69.97 245.93 L70.45 248.30 L71.39 249.73 L72.82 250.20 L73.76 250.20 L75.19 249.73 L76.13 248.30 L76.61 245.93 L76.61 244.51 L76.13 242.14 L75.19 240.72 L73.76 240.25 L72.82 240.25" fill="none" stroke="#000" stroke-width="1" stroke-linecap="square" shape-rendering="crispEdges"/>
<path d="M79.21 241.24 L84.52 241.24 M87.47 238.88 L88.06 238.59 L88.94 237.70 L88.94 243.90 M93.08 237.70 L96.32 237.70 L94.55 240.06 L95.44 240.06 L96.03 240.36 L96.32 240.65 L96.61 241.54 L96.61 242.13 L96.32 243.01 L95.73 243.60 L94.84 243.90 L93.96 243.90 L93.08 243.60 L92.78 243.31 L92.48 242.72" fill="none" stroke="#000" stroke-width="1" stroke-linecap="square" shape-rendering="crispEdges"/>
<path d="M92.29 296.25 L90.86 296.72 L89.92 298.14 L89.44 300.51 L89.44 301.93 L89.92 304.30 L90.86 305.73 L92.29 306.20 L93.23 306.20 L94.66 305.73 L95.60 304.30 L96.08 301.93 L96.08 300.51 L95.60 298.14 L94.66 296.72 L93.23 296.25 L92.29 296.25" fill="none" stroke="#000" stroke-width="1" stroke-linecap="square" shape-rendering="crispEdges"/>
<path d="M3.55 231.97 L3.55 232.92 L4.02 233.87 L5.44 234.34 L13.50 234.34 M6.86 235.76 L6.86 232.44 M3.55 229.12 L13.50 229.12 M6.86 225.33 L11.60 225.33 L13.03 224.86 L13.50 223.91 L13.50 222.49 L13.03 221.54 L11.60 220.12 M6.86 220.12 L13.50 220.12 M6.86 216.80 L13.50 211.59 M6.86 211.59 L13.50 216.80 M13.03 207.32 L13.50 207.80 L13.03 208.27 L12.55 207.80 L13.03 207.32 L13.97 207.32 L14.92 207.80 L15.40 208.27 M6.86 195.94 L11.60 195.94 L13.03 195.47 L13.50 194.52 L13.50 193.10 L13.03 192.15 L11.60 190.73 M6.86 190.73 L13.50 190.73 M6.86 186.94 L13.50 186.94 M8.76 186.94 L7.34 185.52 L6.86 184.57 L6.86 183.15 L7.34 182.20 L8.76 181.73 L13.50 181.73 M3.55 178.41 L4.02 177.93 L3.55 177.46 L3.07 177.93 L3.55 178.41 M6.86 177.93 L13.50 177.93 M3.55 173.67 L11.60 173.67 L13.03 173.19 L13.50 172.25 L13.50 171.30 M6.86 175.09 L6.86 171.77 M8.29 163.71 L7.34 164.19 L6.86 165.61 L6.86 167.03 L7.34 168.45 L8.29 168.93 L9.23 168.45 L9.71 167.50 L10.18 165.13 L10.66 164.19 L11.60 163.71 L12.08 163.71 L13.03 164.19 L13.50 165.61 L13.50 167.03 L13.03 168.45 L12.08 168.93" fill="none" stroke="#000" stroke-width="1" stroke-linecap="square" shape-rendering="crispEdges"/>
<path d="M1147.34 104.94 L1148.29 104.49 L1149.71 103.14 L1149.71 112.60 M1156.35 111.70 L1155.88 112.15 L1156.35 112.60 L1156.82 112.15 L1156.35 111.70 M1161.56 104.94 L1162.51 104.49 L1163.93 103.14 L1163.93 112.60" fill="none" stroke="#007DFF" stroke-width="1" stroke-linecap="square" shape-rendering="crispEdges"/>
<path d="M1147.34 162.44 L1148.29 161.99 L1149.71 160.64 L1149.71 170.10 M1156.35 169.20 L1155.88 169.65 L1156.35 170.10 L1156.82 169.65 L1156.35 169.20 M1162.99 160.64 L1161.56 161.09 L1160.62 162.44 L1160.14 164.70 L1160.14 166.05 L1160.62 168.30 L1161.56 169.65 L1162.99 170.10 L1163.93 170.10 L1165.36 169.65 L1166.30 168.30 L1166.78 166.05 L1166.78 164.70 L1166.30 162.44 L1165.36 161.09 L1163.93 160.64 L1162.99 160.64" fill="none" stroke="#007DFF" stroke-width="1" stroke-linecap="square" shape-rendering="crispEdges"/>
<path d="M1148.77 218.14 L1147.34 218.59 L1146.40 219.94 L1145.92 222.20 L1145.92 223.55 L1146.40 225.80 L1147.34 227.15 L1148.77 227.60 L1149.71 227.60 L1151.14 227.15 L1152.08 225.80 L1152.56 223.55 L1152.56 222.20 L1152.08 219.94 L1151.14 218.59 L1149.71 218.14 L1148.77 218.14 M1156.35 226.70 L1155.88 227.15 L1156.35 227.60 L1156.82 227.15 L1156.35 226.70 M1166.30 221.30 L1165.83 222.65 L1164.88 223.55 L1163.46 224.00 L1162.99 224.00 L1161.56 223.55 L1160.62 222.65 L1160.14 221.30 L1160.14 220.85 L1160.62 219.49 L1161.56 218.59 L1162.99 218.14 L1163.46 218.14 L1164.88 218.59 L1165.83 219.49 L1166.30 221.30 L1166.30 223.55 L1165.83 225.80 L1164.88 227.15 L1163.46 227.60 L1162.51 227.60 L1161.09 227.15 L1160.62 226.25" fill="none" stroke="#007DFF" stroke-width="1" stroke-linecap="square" shape-rendering="crispEdges"/>
<path d="M1148.77 275.64 L1147.34 276.09 L1146.40 277.44 L1145.92 279.70 L1145.92 281.05 L1146.40 283.30 L1147.34 284.65 L1148.77 285.10 L1149.71 285.10 L1151.14 284.65 L1152.08 283.30 L1152.56 281.05 L1152.56 279.70 L1152.08 277.44 L1151.14 276.09 L1149.71 275.64 L1148.77 275.64 M1156.35 284.20 L1155.88 284.65 L1156.35 285.10 L1156.82 284.65 L1156.35 284.20 M1162.51 275.64 L1161.09 276.09 L1160.62 276.99 L1160.62 277.90 L1161.09 278.80 L1162.04 279.25 L1163.93 279.70 L1165.36 280.15 L1166.30 281.05 L1166.78 281.95 L1166.78 283.30 L1166.30 284.20 L1165.83 284.65 L1164.41 285.10 L1162.51 285.10 L1161.09 284.65 L1160.62 284.20 L1160.14 283.30 L1160.14 281.95 L1160.62 281.05 L1161.56 280.15 L1162.99 279.70 L1164.88 279.25 L1165.83 278.80 L1166.30 277.90 L1166.30 276.99 L1165.83 276.09 L1164.41 275.64 L1162.51 275.64" fill="none" stroke="#007DFF" stroke-width="1" stroke-linecap="square" shape-rendering="crispEdges"/>
<path d="M1148.77 329.74 L1147.34 330.19 L1146.40 331.54 L1145.92 333.80 L1145.92 335.15 L1146.40 337.40 L1147.34 338.75 L1148.77 339.20 L1149.71 339.20 L1151.14 338.75 L1152.08 337.40 L1152.56 335.15 L1152.56 333.80 L1152.08 331.54 L1151.14 330.19 L1149.71 329.74 L1148.77 329.74 M1156.35 338.30 L1155.88 338.75 L1156.35 339.20 L1156.82 338.75 L1156.35 338.30 M1166.78 329.74 L1162.04 339.20 M1160.14 329.74 L1166.78 329.74" fill="none" stroke="#007DFF" stroke-width="1" stroke-linecap="square" shape-rendering="crispEdges"/>
<path d="M1177.86 220.83 L1184.50 220.83 M1179.76 220.83 L1178.34 219.41 L1177.86 218.46 L1177.86 217.04 L1178.34 216.09 L1179.76 215.62 L1184.50 215.62 M1179.76 215.62 L1178.34 214.19 L1177.86 213.25 L1177.86 211.82 L1178.34 210.88 L1179.76 210.40 L1184.50 210.40 M1179.29 201.40 L1178.34 202.34 L1177.86 203.29 L1177.86 204.71 L1178.34 205.66 L1179.29 206.61 L1180.71 207.08 L1181.66 207.08 L1183.08 206.61 L1184.03 205.66 L1184.50 204.71 L1184.50 203.29 L1184.03 202.34 L1183.08 201.40 M1177.86 196.18 L1178.34 197.13 L1179.29 198.08 L1180.71 198.55 L1181.66 198.55 L1183.08 198.08 L1184.03 197.13 L1184.50 196.18 L1184.50 194.76 L1184.03 193.81 L1183.08 192.86 L1181.66 192.39 L1180.71 192.39 L1179.29 192.86 L1178.34 193.81 L1177.86 194.76 L1177.86 196.18 M1177.86 189.07 L1184.50 189.07 M1179.76 189.07 L1178.34 187.65 L1177.86 186.70 L1177.86 185.28 L1178.34 184.33 L1179.76 183.86 L1184.50 183.86 M1174.55 179.59 L1182.60 179.59 L1184.03 179.12 L1184.50 178.17 L1184.50 177.22 M1177.86 181.01 L1177.86 177.70" fill="none" stroke="#007DFF" stroke-width="1" stroke-linecap="square" shape-rendering="crispEdges"/>
<path d="M178.17 38.68 L178.17 50.50 M186.47 38.68 L186.47 50.50 M178.17 44.31 L186.47 44.31 M191.21 38.68 L191.21 50.50 M191.21 38.68 L195.36 38.68 L197.13 39.24 L198.32 40.37 L198.91 41.49 L199.50 43.18 L199.50 46.00 L198.91 47.69 L198.32 48.81 L197.13 49.94 L195.36 50.50 L191.21 50.50 M204.24 38.68 L210.76 38.68 L207.21 43.18 L208.99 43.18 L210.17 43.74 L210.76 44.31 L211.36 46.00 L211.36 47.12 L210.76 48.81 L209.58 49.94 L207.80 50.50 L206.02 50.50 L204.24 49.94 L203.65 49.37 L203.06 48.25 M215.50 41.49 L215.50 40.93 L216.10 39.80 L216.69 39.24 L217.87 38.68 L220.25 38.68 L221.43 39.24 L222.02 39.80 L222.62 40.93 L222.62 42.06 L222.02 43.18 L220.84 44.87 L214.91 50.50 L223.21 50.50 M230.32 38.68 L228.54 39.24 L227.36 40.93 L226.76 43.74 L226.76 45.43 L227.36 48.25 L228.54 49.94 L230.32 50.50 L231.50 50.50 L233.28 49.94 L234.47 48.25 L235.06 45.43 L235.06 43.74 L234.47 40.93 L233.28 39.24 L231.50 38.68 L230.32 38.68 M246.91 38.68 L240.99 50.50 M238.62 38.68 L246.91 38.68 M258.17 40.37 L257.58 39.24 L255.80 38.68 L254.62 38.68 L252.84 39.24 L251.65 40.93 L251.06 43.74 L251.06 46.56 L251.65 48.81 L252.84 49.94 L254.62 50.50 L255.21 50.50 L256.99 49.94 L258.17 48.81 L258.76 47.12 L258.76 46.56 L258.17 44.87 L256.99 43.74 L255.21 43.18 L254.62 43.18 L252.84 43.74 L251.65 44.87 L251.06 46.56 M268.25 38.68 L262.32 46.56 L271.21 46.56 M268.25 38.68 L268.25 50.50 M307.36 36.43 L306.17 37.55 L304.99 39.24 L303.80 41.49 L303.21 44.31 L303.21 46.56 L303.80 49.37 L304.99 51.63 L306.17 53.31 L307.36 54.44 M311.51 45.43 L322.17 45.43 M328.10 40.93 L329.28 40.37 L331.06 38.68 L331.06 50.50 M346.47 38.68 L340.54 50.50 M338.17 38.68 L346.47 38.68 M351.21 49.37 L350.62 49.94 L351.21 50.50 L351.80 49.94 L351.21 49.37 M364.25 38.68 L358.32 50.50 M355.95 38.68 L364.25 38.68 M369.58 40.93 L370.77 40.37 L372.54 38.68 L372.54 50.50 M380.84 38.68 L387.36 38.68 L383.80 43.18 L385.58 43.18 L386.77 43.74 L387.36 44.31 L387.95 46.00 L387.95 47.12 L387.36 48.81 L386.17 49.94 L384.40 50.50 L382.62 50.50 L380.84 49.94 L380.25 49.37 L379.65 48.25 M399.80 38.68 L393.88 50.50 M391.51 38.68 L399.80 38.68 M406.91 38.68 L405.14 39.24 L403.95 40.93 L403.36 43.74 L403.36 45.43 L403.95 48.25 L405.14 49.94 L406.91 50.50 L408.10 50.50 L409.88 49.94 L411.06 48.25 L411.65 45.43 L411.65 43.74 L411.06 40.93 L409.88 39.24 L408.10 38.68 L406.91 38.68 M418.77 38.68 L416.99 39.24 L415.80 40.93 L415.21 43.74 L415.21 45.43 L415.80 48.25 L416.99 49.94 L418.77 50.50 L419.95 50.50 L421.73 49.94 L422.91 48.25 L423.51 45.43 L423.51 43.74 L422.91 40.93 L421.73 39.24 L419.95 38.68 L418.77 38.68 M428.84 49.94 L428.25 50.50 L427.66 49.94 L428.25 49.37 L428.84 49.94 L428.84 51.06 L428.25 52.19 L427.66 52.75 M443.06 41.49 L443.06 40.93 L443.66 39.80 L444.25 39.24 L445.43 38.68 L447.80 38.68 L448.99 39.24 L449.58 39.80 L450.17 40.93 L450.17 42.06 L449.58 43.18 L448.40 44.87 L442.47 50.50 L450.77 50.50 M454.91 41.49 L454.91 40.93 L455.51 39.80 L456.10 39.24 L457.29 38.68 L459.66 38.68 L460.84 39.24 L461.43 39.80 L462.03 40.93 L462.03 42.06 L461.43 43.18 L460.25 44.87 L454.32 50.50 L462.62 50.50 M467.36 38.68 L473.88 38.68 L470.32 43.18 L472.10 43.18 L473.29 43.74 L473.88 44.31 L474.47 46.00 L474.47 47.12 L473.88 48.81 L472.69 49.94 L470.91 50.50 L469.14 50.50 L467.36 49.94 L466.77 49.37 L466.17 48.25 M479.21 49.37 L478.62 49.94 L479.21 50.50 L479.80 49.94 L479.21 49.37 M484.54 41.49 L484.54 40.93 L485.14 39.80 L485.73 39.24 L486.92 38.68 L489.29 38.68 L490.47 39.24 L491.06 39.80 L491.66 40.93 L491.66 42.06 L491.06 43.18 L489.88 44.87 L483.95 50.50 L492.25 50.50 M504.10 38.68 L498.17 50.50 M495.80 38.68 L504.10 38.68 M513.58 38.68 L507.66 46.56 L516.55 46.56 M513.58 38.68 L513.58 50.50 M527.21 40.37 L526.62 39.24 L524.84 38.68 L523.66 38.68 L521.88 39.24 L520.69 40.93 L520.10 43.74 L520.10 46.56 L520.69 48.81 L521.88 49.94 L523.66 50.50 L524.25 50.50 L526.03 49.94 L527.21 48.81 L527.80 47.12 L527.80 46.56 L527.21 44.87 L526.03 43.74 L524.25 43.18 L523.66 43.18 L521.88 43.74 L520.69 44.87 L520.10 46.56 M538.47 38.68 L532.55 38.68 L531.95 43.74 L532.55 43.18 L534.32 42.62 L536.10 42.62 L537.88 43.18 L539.06 44.31 L539.66 46.00 L539.66 47.12 L539.06 48.81 L537.88 49.94 L536.10 50.50 L534.32 50.50 L532.55 49.94 L531.95 49.37 L531.36 48.25 M544.99 49.94 L544.40 50.50 L543.80 49.94 L544.40 49.37 L544.99 49.94 L544.99 51.06 L544.40 52.19 L543.80 52.75 M561.58 38.68 L559.80 39.24 L559.21 40.37 L559.21 41.49 L559.80 42.62 L560.99 43.18 L563.36 43.74 L565.14 44.31 L566.32 45.43 L566.92 46.56 L566.92 48.25 L566.32 49.37 L565.73 49.94 L563.95 50.50 L561.58 50.50 L559.80 49.94 L559.21 49.37 L558.62 48.25 L558.62 46.56 L559.21 45.43 L560.40 44.31 L562.18 43.74 L564.55 43.18 L565.73 42.62 L566.32 41.49 L566.32 40.37 L565.73 39.24 L563.95 38.68 L561.58 38.68 M578.77 38.68 L572.84 50.50 M570.47 38.68 L578.77 38.68 M590.62 38.68 L584.69 50.50 M582.32 38.68 L590.62 38.68 M595.36 38.68 L601.88 38.68 L598.32 43.18 L600.10 43.18 L601.29 43.74 L601.88 44.31 L602.47 46.00 L602.47 47.12 L601.88 48.81 L600.69 49.94 L598.92 50.50 L597.14 50.50 L595.36 49.94 L594.77 49.37 L594.18 48.25 M607.21 49.37 L606.62 49.94 L607.21 50.50 L607.81 49.94 L607.21 49.37 M617.88 38.68 L611.95 46.56 L620.84 46.56 M617.88 38.68 L617.88 50.50 M631.51 42.62 L630.92 44.31 L629.73 45.43 L627.95 46.00 L627.36 46.00 L625.58 45.43 L624.40 44.31 L623.81 42.62 L623.81 42.06 L624.40 40.37 L625.58 39.24 L627.36 38.68 L627.95 38.68 L629.73 39.24 L630.92 40.37 L631.51 42.62 L631.51 45.43 L630.92 48.25 L629.73 49.94 L627.95 50.50 L626.77 50.50 L624.99 49.94 L624.40 48.81 M639.21 38.68 L637.44 39.24 L636.25 40.93 L635.66 43.74 L635.66 45.43 L636.25 48.25 L637.44 49.94 L639.21 50.50 L640.40 50.50 L642.18 49.94 L643.36 48.25 L643.95 45.43 L643.95 43.74 L643.36 40.93 L642.18 39.24 L640.40 38.68 L639.21 38.68 M651.07 38.68 L649.29 39.24 L648.10 40.93 L647.51 43.74 L647.51 45.43 L648.10 48.25 L649.29 49.94 L651.07 50.50 L652.25 50.50 L654.03 49.94 L655.21 48.25 L655.81 45.43 L655.81 43.74 L655.21 40.93 L654.03 39.24 L652.25 38.68 L651.07 38.68 M661.14 49.94 L660.55 50.50 L659.95 49.94 L660.55 49.37 L661.14 49.94 L661.14 51.06 L660.55 52.19 L659.95 52.75 M680.70 38.68 L674.77 46.56 L683.66 46.56 M680.70 38.68 L680.70 50.50 M687.81 49.37 L687.21 49.94 L687.81 50.50 L688.40 49.94 L687.81 49.37 M696.10 38.68 L694.33 39.24 L693.14 40.93 L692.55 43.74 L692.55 45.43 L693.14 48.25 L694.33 49.94 L696.10 50.50 L697.29 50.50 L699.07 49.94 L700.25 48.25 L700.84 45.43 L700.84 43.74 L700.25 40.93 L699.07 39.24 L697.29 38.68 L696.10 38.68 M712.70 38.68 L706.77 50.50 M704.40 38.68 L712.70 38.68 M723.95 42.62 L723.36 44.31 L722.18 45.43 L720.40 46.00 L719.81 46.00 L718.03 45.43 L716.84 44.31 L716.25 42.62 L716.25 42.06 L716.84 40.37 L718.03 39.24 L719.81 38.68 L720.40 38.68 L722.18 39.24 L723.36 40.37 L723.95 42.62 L723.95 45.43 L723.36 48.25 L722.18 49.94 L720.40 50.50 L719.21 50.50 L717.44 49.94 L716.84 48.81 M735.81 42.62 L735.21 44.31 L734.03 45.43 L732.25 46.00 L731.66 46.00 L729.88 45.43 L728.70 44.31 L728.10 42.62 L728.10 42.06 L728.70 40.37 L729.88 39.24 L731.66 38.68 L732.25 38.68 L734.03 39.24 L735.21 40.37 L735.81 42.62 L735.81 45.43 L735.21 48.25 L734.03 49.94 L732.25 50.50 L731.07 50.50 L729.29 49.94 L728.70 48.81 M747.07 38.68 L741.14 38.68 L740.55 43.74 L741.14 43.18 L742.92 42.62 L744.70 42.62 L746.47 43.18 L747.66 44.31 L748.25 46.00 L748.25 47.12 L747.66 48.81 L746.47 49.94 L744.70 50.50 L742.92 50.50 L741.14 49.94 L740.55 49.37 L739.96 48.25 M760.10 38.68 L754.18 50.50 M751.81 38.68 L760.10 38.68 M771.96 38.68 L766.03 50.50 M763.66 38.68 L771.96 38.68 M777.29 49.94 L776.70 50.50 L776.10 49.94 L776.70 49.37 L777.29 49.94 L777.29 51.06 L776.70 52.19 L776.10 52.75 M794.47 38.68 L792.70 39.24 L791.51 40.93 L790.92 43.74 L790.92 45.43 L791.51 48.25 L792.70 49.94 L794.47 50.50 L795.66 50.50 L797.44 49.94 L798.62 48.25 L799.22 45.43 L799.22 43.74 L798.62 40.93 L797.44 39.24 L795.66 38.68 L794.47 38.68 M803.96 49.37 L803.36 49.94 L803.96 50.50 L804.55 49.94 L803.96 49.37 M812.25 38.68 L810.47 39.24 L809.29 40.93 L808.70 43.74 L808.70 45.43 L809.29 48.25 L810.47 49.94 L812.25 50.50 L813.44 50.50 L815.22 49.94 L816.40 48.25 L816.99 45.43 L816.99 43.74 L816.40 40.93 L815.22 39.24 L813.44 38.68 L812.25 38.68 M821.73 38.68 L828.25 38.68 L824.70 43.18 L826.47 43.18 L827.66 43.74 L828.25 44.31 L828.85 46.00 L828.85 47.12 L828.25 48.81 L827.07 49.94 L825.29 50.50 L823.51 50.50 L821.73 49.94 L821.14 49.37 L820.55 48.25 M839.51 38.68 L833.59 38.68 L832.99 43.74 L833.59 43.18 L835.36 42.62 L837.14 42.62 L838.92 43.18 L840.10 44.31 L840.70 46.00 L840.70 47.12 L840.10 48.81 L838.92 49.94 L837.14 50.50 L835.36 50.50 L833.59 49.94 L832.99 49.37 L832.40 48.25 M844.85 41.49 L844.85 40.93 L845.44 39.80 L846.03 39.24 L847.22 38.68 L849.59 38.68 L850.77 39.24 L851.36 39.80 L851.96 40.93 L851.96 42.06 L851.36 43.18 L850.18 44.87 L844.25 50.50 L852.55 50.50 M857.29 38.68 L863.81 38.68 L860.25 43.18 L862.03 43.18 L863.22 43.74 L863.81 44.31 L864.40 46.00 L864.40 47.12 L863.81 48.81 L862.62 49.94 L860.85 50.50 L859.07 50.50 L857.29 49.94 L856.70 49.37 L856.10 48.25 M875.66 42.62 L875.07 44.31 L873.88 45.43 L872.11 46.00 L871.51 46.00 L869.73 45.43 L868.55 44.31 L867.96 42.62 L867.96 42.06 L868.55 40.37 L869.73 39.24 L871.51 38.68 L872.11 38.68 L873.88 39.24 L875.07 40.37 L875.66 42.62 L875.66 45.43 L875.07 48.25 L873.88 49.94 L872.11 50.50 L870.92 50.50 L869.14 49.94 L868.55 48.81 M882.77 38.68 L880.99 39.24 L880.40 40.37 L880.40 41.49 L880.99 42.62 L882.18 43.18 L884.55 43.74 L886.33 44.31 L887.51 45.43 L888.11 46.56 L888.11 48.25 L887.51 49.37 L886.92 49.94 L885.14 50.50 L882.77 50.50 L880.99 49.94 L880.40 49.37 L879.81 48.25 L879.81 46.56 L880.40 45.43 L881.59 44.31 L883.36 43.74 L885.73 43.18 L886.92 42.62 L887.51 41.49 L887.51 40.37 L886.92 39.24 L885.14 38.68 L882.77 38.68 M897.59 38.68 L891.66 46.56 L900.55 46.56 M897.59 38.68 L897.59 50.50 M911.22 42.62 L910.62 44.31 L909.44 45.43 L907.66 46.00 L907.07 46.00 L905.29 45.43 L904.11 44.31 L903.51 42.62 L903.51 42.06 L904.11 40.37 L905.29 39.24 L907.07 38.68 L907.66 38.68 L909.44 39.24 L910.62 40.37 L911.22 42.62 L911.22 45.43 L910.62 48.25 L909.44 49.94 L907.66 50.50 L906.48 50.50 L904.70 49.94 L904.11 48.81 M917.14 49.94 L916.55 50.50 L915.96 49.94 L916.55 49.37 L917.14 49.94 L917.14 51.06 L916.55 52.19 L915.96 52.75 M931.37 45.43 L942.03 45.43 M949.74 38.68 L947.96 39.24 L946.77 40.93 L946.18 43.74 L946.18 45.43 L946.77 48.25 L947.96 49.94 L949.74 50.50 L950.92 50.50 L952.70 49.94 L953.88 48.25 L954.48 45.43 L954.48 43.74 L953.88 40.93 L952.70 39.24 L950.92 38.68 L949.74 38.68 M959.22 49.37 L958.62 49.94 L959.22 50.50 L959.81 49.94 L959.22 49.37 M965.74 40.93 L966.92 40.37 L968.70 38.68 L968.70 50.50 M982.92 38.68 L977.00 38.68 L976.40 43.74 L977.00 43.18 L978.77 42.62 L980.55 42.62 L982.33 43.18 L983.51 44.31 L984.11 46.00 L984.11 47.12 L983.51 48.81 L982.33 49.94 L980.55 50.50 L978.77 50.50 L977.00 49.94 L976.40 49.37 L975.81 48.25 M995.37 40.37 L994.77 39.24 L993.00 38.68 L991.81 38.68 L990.03 39.24 L988.85 40.93 L988.25 43.74 L988.25 46.56 L988.85 48.81 L990.03 49.94 L991.81 50.50 L992.40 50.50 L994.18 49.94 L995.37 48.81 L995.96 47.12 L995.96 46.56 L995.37 44.87 L994.18 43.74 L992.40 43.18 L991.81 43.18 L990.03 43.74 L988.85 44.87 L988.25 46.56 M1005.44 38.68 L999.51 46.56 L1008.40 46.56 M1005.44 38.68 L1005.44 50.50 M1019.66 38.68 L1013.74 50.50 M1011.37 38.68 L1019.66 38.68 M1024.40 38.68 L1030.92 38.68 L1027.37 43.18 L1029.14 43.18 L1030.33 43.74 L1030.92 44.31 L1031.51 46.00 L1031.51 47.12 L1030.92 48.81 L1029.74 49.94 L1027.96 50.50 L1026.18 50.50 L1024.40 49.94 L1023.81 49.37 L1023.22 48.25 M1042.77 42.62 L1042.18 44.31 L1041.00 45.43 L1039.22 46.00 L1038.63 46.00 L1036.85 45.43 L1035.66 44.31 L1035.07 42.62 L1035.07 42.06 L1035.66 40.37 L1036.85 39.24 L1038.63 38.68 L1039.22 38.68 L1041.00 39.24 L1042.18 40.37 L1042.77 42.62 L1042.77 45.43 L1042.18 48.25 L1041.00 49.94 L1039.22 50.50 L1038.03 50.50 L1036.26 49.94 L1035.66 48.81 M1052.85 38.68 L1046.92 46.56 L1055.81 46.56 M1052.85 38.68 L1052.85 50.50 M1058.77 36.43 L1059.96 37.55 L1061.14 39.24 L1062.33 41.49 L1062.92 44.31 L1062.92 46.56 L1062.33 49.37 L1061.14 51.63 L1059.96 53.31 L1058.77 54.44" fill="none" stroke="#000" stroke-width="1" stroke-linecap="square" shape-rendering="crispEdges"/>
</svg>
</body></html>
